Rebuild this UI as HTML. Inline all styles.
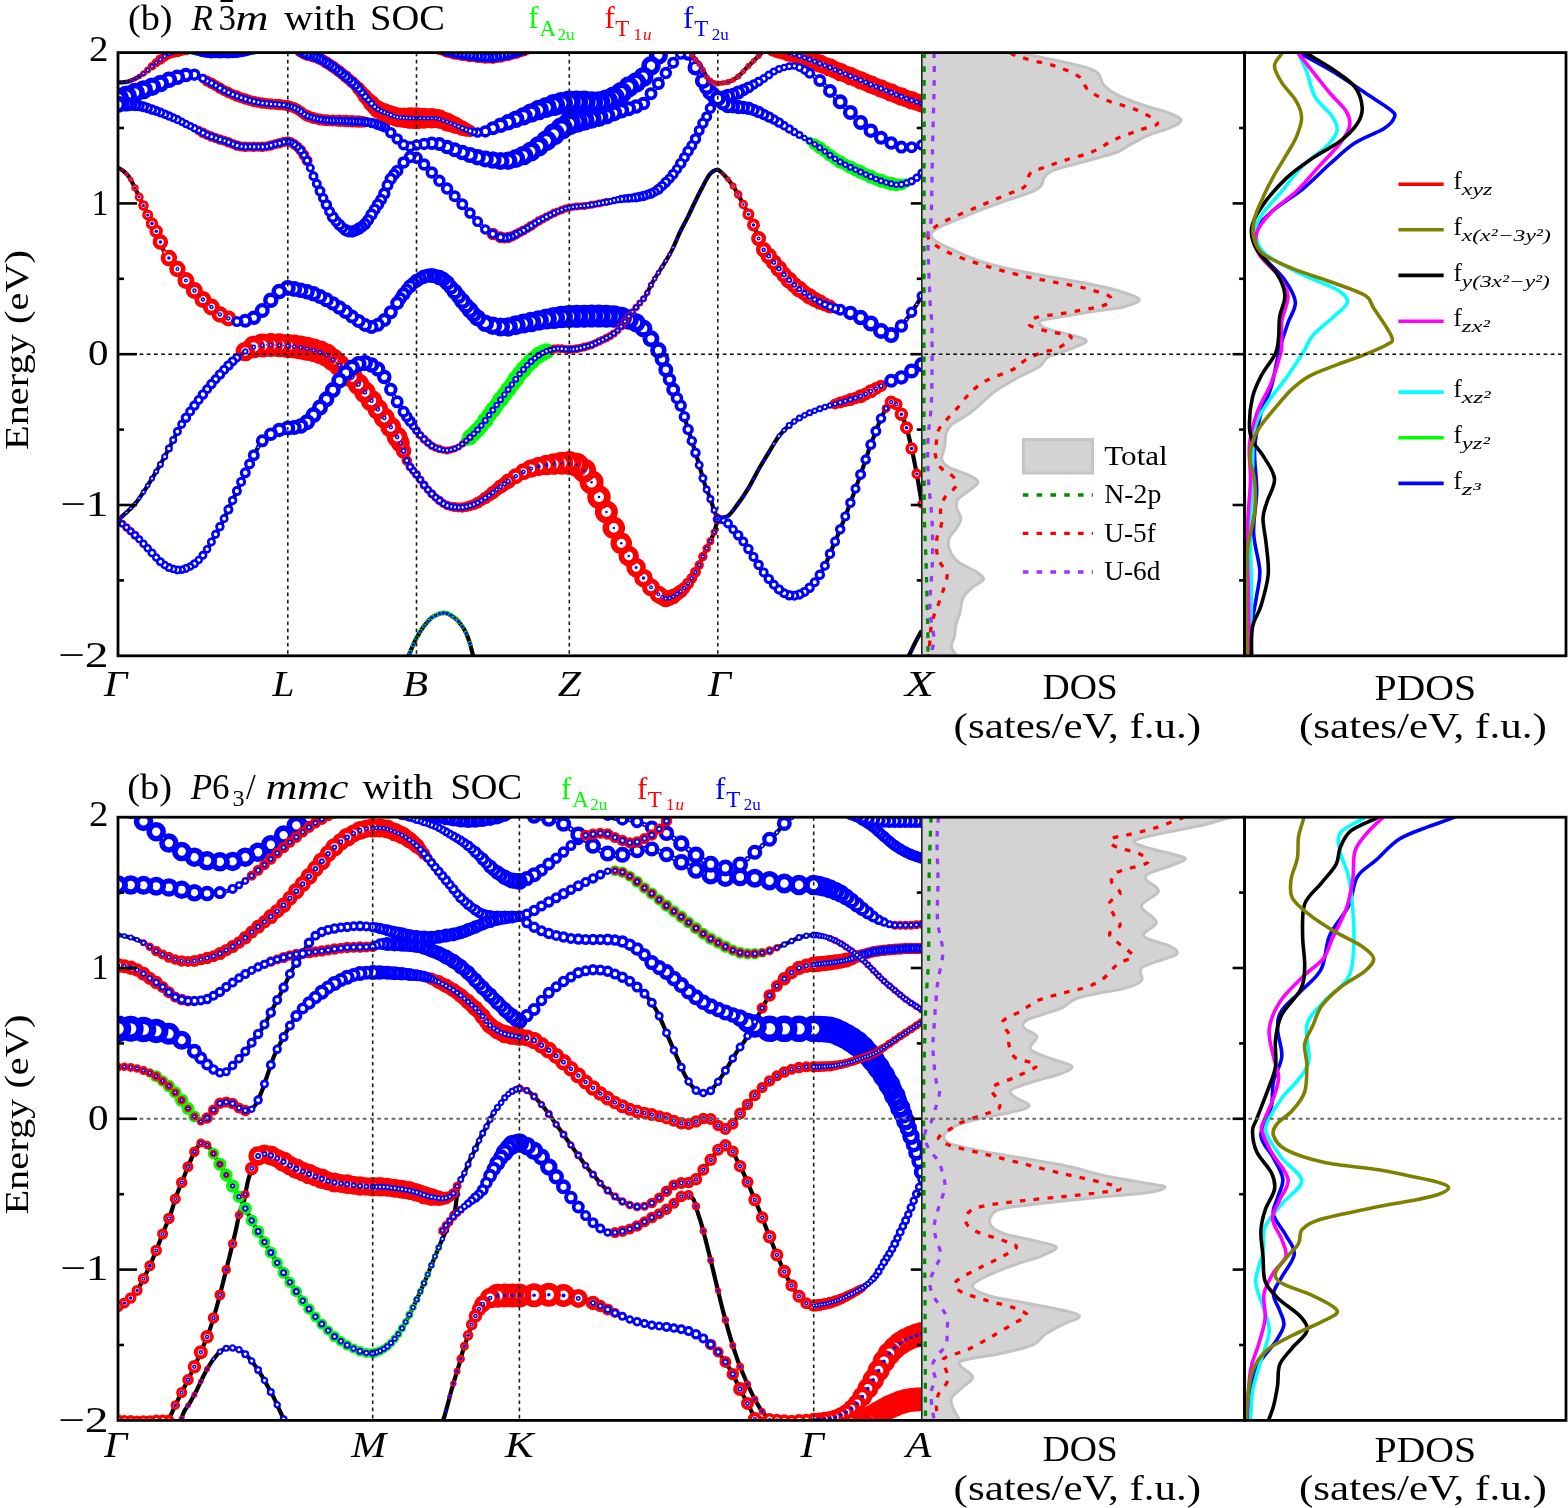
<!DOCTYPE html>
<html><head><meta charset="utf-8"><title>Band structure</title><style>html,body{margin:0;padding:0;background:#fff;width:1568px;height:1508px;overflow:hidden}svg{display:block}text{font-family:"Liberation Serif","DejaVu Serif",serif}</style></head><body>
<svg width="1568" height="1508" viewBox="0 0 1568 1508"><defs><circle id="db3" r="0.75" fill="#0000ff" stroke="none"/><circle id="db4" r="1" fill="#0000ff" stroke="none"/><circle id="db5" r="1.25" fill="#0000ff" stroke="none"/><circle id="db6" r="1.5" fill="#0000ff" stroke="none"/><circle id="db7" r="1.75" fill="#0000ff" stroke="none"/><circle id="db8" r="2" fill="#0000ff" stroke="none"/><circle id="dr5" r="1.25" fill="#ff0000" stroke="none"/><circle id="dr6" r="1.5" fill="#ff0000" stroke="none"/><circle id="dr7" r="1.75" fill="#ff0000" stroke="none"/><circle id="dr8" r="2" fill="#ff0000" stroke="none"/><circle id="k10" r="1.71" stroke-width="1.57"/><circle id="k11" r="1.89" stroke-width="1.71"/><circle id="k12" r="2.08" stroke-width="1.85"/><circle id="k13" r="2.26" stroke-width="1.99"/><circle id="k14" r="2.44" stroke-width="2.13"/><circle id="k15" r="2.62" stroke-width="2.26"/><circle id="k16" r="2.8" stroke-width="2.4"/><circle id="k17" r="2.98" stroke-width="2.54"/><circle id="k18" r="3.16" stroke-width="2.68"/><circle id="k19" r="3.34" stroke-width="2.81"/><circle id="k20" r="3.52" stroke-width="2.95"/><circle id="k21" r="3.71" stroke-width="3.09"/><circle id="k22" r="3.89" stroke-width="3.23"/><circle id="k23" r="4.07" stroke-width="3.36"/><circle id="k24" r="4.25" stroke-width="3.5"/><circle id="k25" r="4.43" stroke-width="3.64"/><circle id="k26" r="4.61" stroke-width="3.78"/><circle id="k27" r="4.79" stroke-width="3.91"/><circle id="k28" r="4.97" stroke-width="4.05"/><circle id="k29" r="5.16" stroke-width="4.19"/><circle id="k30" r="5.34" stroke-width="4.33"/><circle id="k31" r="5.52" stroke-width="4.46"/><circle id="k32" r="5.7" stroke-width="4.6"/><circle id="k33" r="5.88" stroke-width="4.74"/><circle id="k34" r="6.06" stroke-width="4.88"/><circle id="k35" r="6.24" stroke-width="5.01"/><circle id="k36" r="6.42" stroke-width="5.15"/><circle id="k37" r="6.61" stroke-width="5.29"/><circle id="k38" r="6.79" stroke-width="5.43"/><circle id="k39" r="6.97" stroke-width="5.56"/><circle id="k40" r="7.15" stroke-width="5.7"/><circle id="k41" r="7.33" stroke-width="5.84"/><circle id="k42" r="7.51" stroke-width="5.98"/><circle id="k43" r="7.69" stroke-width="6.11"/><circle id="k44" r="7.88" stroke-width="6.25"/><circle id="k45" r="8.06" stroke-width="6.39"/><circle id="k46" r="8.24" stroke-width="6.53"/><circle id="k47" r="8.42" stroke-width="6.66"/><circle id="k48" r="8.6" stroke-width="6.8"/><circle id="k49" r="8.78" stroke-width="6.94"/><circle id="k50" r="8.96" stroke-width="7.08"/><circle id="k51" r="9.14" stroke-width="7.21"/><circle id="k52" r="9.32" stroke-width="7.35"/><circle id="k53" r="9.51" stroke-width="7.49"/><circle id="k8" r="1.35" stroke-width="1.3"/><circle id="k9" r="1.53" stroke-width="1.44"/><clipPath id="cb0"><rect x="118" y="52.6" width="803.8" height="603.2"/></clipPath><clipPath id="cd0"><rect x="921.8" y="52.6" width="322.8" height="603.2"/></clipPath><clipPath id="cp0"><rect x="1244.6" y="52.6" width="321.4" height="603.2"/></clipPath><clipPath id="cb1"><rect x="118" y="817.2" width="803.8" height="603.2"/></clipPath><clipPath id="cd1"><rect x="921.8" y="817.2" width="322.8" height="603.2"/></clipPath><clipPath id="cp1"><rect x="1244.6" y="817.2" width="321.4" height="603.2"/></clipPath></defs><g clip-path="url(#cd0)"><path d="M921.8,49.6 L1020,49.6 L1020,52.6C1020.7,52.8 1020.1,52.6 1024,53.5C1027.9,54.4 1036.5,56.4 1043.2,57.8C1050,59.2 1057.4,60.5 1064.5,62.1C1071.6,63.7 1080.4,65.6 1085.9,67.4C1091.4,69.2 1095.2,70.8 1097.7,72.8C1100.2,74.8 1099.7,76.9 1100.9,79.2C1102.1,81.5 1101.9,83.9 1105.1,86.7C1108.3,89.5 1113.3,93.1 1120.1,96.3C1126.9,99.5 1137.9,103.2 1145.7,105.9C1153.5,108.6 1161.2,110 1167.1,112.3C1173,114.6 1180.3,117.3 1181,119.8C1181.7,122.3 1176.6,124.7 1171.4,127.2C1166.2,129.7 1156.8,131.8 1150,134.7C1143.2,137.5 1136.1,141.5 1130.8,144.3C1125.5,147.2 1123.7,149.5 1118,151.8C1112.3,154.1 1104.8,155.9 1096.6,158.2C1088.4,160.5 1076.3,163.6 1068.8,165.7C1061.3,167.8 1055.8,169 1051.7,171C1047.6,173 1046,175 1044.2,177.5C1042.4,180 1043.3,183.5 1041,186C1038.7,188.5 1036.5,189.9 1030.4,192.4C1024.4,194.9 1013.2,198 1004.7,201C996.2,204 987.6,207.2 979.1,210.6C970.6,214 960.6,218.2 953.5,221.2C946.4,224.2 940.1,226.4 936.4,228.7C932.6,231 931,233 931,235.1C931,237.2 932.6,239 936.4,241.5C940.1,244 946.4,246.9 953.5,250.1C960.6,253.3 969.5,257.6 979.1,260.8C988.7,264 1000.4,266.8 1011.1,269.3C1021.8,271.8 1030.7,273.4 1043.2,275.7C1055.7,278 1073.4,280.7 1085.9,283.2C1098.4,285.7 1109.1,288 1118,290.7C1126.9,293.4 1138.2,296.5 1139.3,299.2C1140.4,301.9 1131.5,304.7 1124.4,306.7C1117.3,308.7 1106.6,309.4 1096.6,311C1086.6,312.6 1073.8,314.7 1064.5,316.3C1055.2,317.9 1044.5,318.8 1041,320.6C1037.5,322.4 1039.3,324.9 1043.2,327C1047.1,329.1 1057.4,331.3 1064.5,333.4C1071.6,335.5 1083.8,337.7 1085.9,339.8C1088.1,341.9 1081.7,344.1 1077.4,346.2C1073.1,348.3 1065.3,350.7 1060.3,352.6C1055.3,354.5 1051.1,355.1 1047.5,357.5C1043.9,359.9 1043.9,363.7 1038.9,367.1C1033.9,370.5 1024.6,373.9 1017.5,377.8C1010.4,381.7 1001.9,386.7 996.2,390.6C990.5,394.5 988,397.4 983.4,401.3C978.8,405.2 973.8,410.2 968.4,414.1C963,418 955,421.6 951.3,424.8C947.6,428 947.1,429.8 946,433.3C944.9,436.9 945.6,441.8 944.9,446.1C944.2,450.4 941,455.4 941.7,459C942.4,462.6 944.4,464.7 949.2,467.5C954,470.3 965.7,473.5 970.5,476C975.3,478.5 978.4,480 978,482.5C977.6,485 971.8,488.2 968.4,491C965,493.8 959.7,496.6 957.7,499.5C955.8,502.4 956.2,504.9 956.7,508.1C957.2,511.3 961.1,515.2 960.9,518.8C960.7,522.4 957.5,526.3 955.6,529.5C953.7,532.7 950.3,534.8 949.2,538C948.1,541.2 947.8,544.8 949.2,548.7C950.6,552.6 953.1,557.6 957.7,561.5C962.3,565.4 972.7,569.2 977,572.2C981.3,575.2 984.1,577.2 983.4,579.7C982.7,582.2 976.1,584.1 972.7,587.1C969.3,590.1 965.2,593.5 963.1,597.8C961,602.1 961.1,608.2 959.9,612.8C958.6,617.4 956.5,621.7 955.6,625.6C954.7,629.5 955.2,632.8 954.5,636.3C953.8,639.8 950.9,643.6 951.3,646.9C951.7,650.1 956,654.3 957,655.8 L957,658.8 L921.8,658.8Z" fill="#d3d3d3" stroke="none"/><path d="M1020,52.6C1020.7,52.8 1020.1,52.6 1024,53.5C1027.9,54.4 1036.5,56.4 1043.2,57.8C1050,59.2 1057.4,60.5 1064.5,62.1C1071.6,63.7 1080.4,65.6 1085.9,67.4C1091.4,69.2 1095.2,70.8 1097.7,72.8C1100.2,74.8 1099.7,76.9 1100.9,79.2C1102.1,81.5 1101.9,83.9 1105.1,86.7C1108.3,89.5 1113.3,93.1 1120.1,96.3C1126.9,99.5 1137.9,103.2 1145.7,105.9C1153.5,108.6 1161.2,110 1167.1,112.3C1173,114.6 1180.3,117.3 1181,119.8C1181.7,122.3 1176.6,124.7 1171.4,127.2C1166.2,129.7 1156.8,131.8 1150,134.7C1143.2,137.5 1136.1,141.5 1130.8,144.3C1125.5,147.2 1123.7,149.5 1118,151.8C1112.3,154.1 1104.8,155.9 1096.6,158.2C1088.4,160.5 1076.3,163.6 1068.8,165.7C1061.3,167.8 1055.8,169 1051.7,171C1047.6,173 1046,175 1044.2,177.5C1042.4,180 1043.3,183.5 1041,186C1038.7,188.5 1036.5,189.9 1030.4,192.4C1024.4,194.9 1013.2,198 1004.7,201C996.2,204 987.6,207.2 979.1,210.6C970.6,214 960.6,218.2 953.5,221.2C946.4,224.2 940.1,226.4 936.4,228.7C932.6,231 931,233 931,235.1C931,237.2 932.6,239 936.4,241.5C940.1,244 946.4,246.9 953.5,250.1C960.6,253.3 969.5,257.6 979.1,260.8C988.7,264 1000.4,266.8 1011.1,269.3C1021.8,271.8 1030.7,273.4 1043.2,275.7C1055.7,278 1073.4,280.7 1085.9,283.2C1098.4,285.7 1109.1,288 1118,290.7C1126.9,293.4 1138.2,296.5 1139.3,299.2C1140.4,301.9 1131.5,304.7 1124.4,306.7C1117.3,308.7 1106.6,309.4 1096.6,311C1086.6,312.6 1073.8,314.7 1064.5,316.3C1055.2,317.9 1044.5,318.8 1041,320.6C1037.5,322.4 1039.3,324.9 1043.2,327C1047.1,329.1 1057.4,331.3 1064.5,333.4C1071.6,335.5 1083.8,337.7 1085.9,339.8C1088.1,341.9 1081.7,344.1 1077.4,346.2C1073.1,348.3 1065.3,350.7 1060.3,352.6C1055.3,354.5 1051.1,355.1 1047.5,357.5C1043.9,359.9 1043.9,363.7 1038.9,367.1C1033.9,370.5 1024.6,373.9 1017.5,377.8C1010.4,381.7 1001.9,386.7 996.2,390.6C990.5,394.5 988,397.4 983.4,401.3C978.8,405.2 973.8,410.2 968.4,414.1C963,418 955,421.6 951.3,424.8C947.6,428 947.1,429.8 946,433.3C944.9,436.9 945.6,441.8 944.9,446.1C944.2,450.4 941,455.4 941.7,459C942.4,462.6 944.4,464.7 949.2,467.5C954,470.3 965.7,473.5 970.5,476C975.3,478.5 978.4,480 978,482.5C977.6,485 971.8,488.2 968.4,491C965,493.8 959.7,496.6 957.7,499.5C955.8,502.4 956.2,504.9 956.7,508.1C957.2,511.3 961.1,515.2 960.9,518.8C960.7,522.4 957.5,526.3 955.6,529.5C953.7,532.7 950.3,534.8 949.2,538C948.1,541.2 947.8,544.8 949.2,548.7C950.6,552.6 953.1,557.6 957.7,561.5C962.3,565.4 972.7,569.2 977,572.2C981.3,575.2 984.1,577.2 983.4,579.7C982.7,582.2 976.1,584.1 972.7,587.1C969.3,590.1 965.2,593.5 963.1,597.8C961,602.1 961.1,608.2 959.9,612.8C958.6,617.4 956.5,621.7 955.6,625.6C954.7,629.5 955.2,632.8 954.5,636.3C953.8,639.8 950.9,643.6 951.3,646.9C951.7,650.1 956,654.3 957,655.8" fill="none" stroke="#c2c2c2" stroke-width="3"/><path d="M924.2,52.6C924.2,93.8 924,233.8 924,300C924,366.2 923.9,413.3 924,450C924.1,486.7 924.2,501.7 924.5,520C924.8,538.3 925.6,546.7 926,560C926.4,573.3 926.7,586.7 927,600C927.3,613.3 927.9,630.7 928,640C928.1,649.3 927.8,653.2 927.8,655.8" fill="none" stroke="#009000" stroke-width="3.3" stroke-dasharray="5.6 8.2"/><path d="M1011,52.6C1011.4,52.9 1010.1,53.4 1013.3,54.6C1016.5,55.8 1023.3,58 1030.4,60C1037.5,62 1047.8,63.6 1056,66.4C1064.2,69.2 1074.2,73.1 1079.5,77C1084.8,80.9 1083.4,86 1088,89.9C1092.6,93.8 1099.1,97.1 1107.3,100.5C1115.5,103.9 1128.8,106.5 1137.2,110.2C1145.6,114 1156.8,119.8 1157.5,123C1158.2,126.2 1148.5,126.7 1141.5,129.4C1134.5,132.1 1124,135.3 1115.8,139C1107.6,142.7 1100.8,148.2 1092.3,151.8C1083.8,155.4 1072.7,157.7 1064.5,160.4C1056.3,163.1 1048.9,165.7 1043.2,167.8C1037.5,169.9 1033.6,170 1030.4,173.2C1027.2,176.4 1027.9,183.5 1024,187.1C1020.1,190.7 1014.4,191.3 1006.9,194.5C999.4,197.7 988.7,202.2 979.1,206.3C969.5,210.4 956.7,215.5 949.2,219.1C941.7,222.7 937.8,224.8 934.2,227.7C930.6,230.5 927.4,233.2 927.8,236.2C928.2,239.2 931.4,242.4 936.4,245.8C941.4,249.2 948.8,252.9 957.7,256.5C966.6,260.1 979.1,264 989.8,267.2C1000.5,270.4 1011.1,273.2 1021.8,275.7C1032.5,278.2 1043.2,280 1053.9,282.1C1064.6,284.2 1076.5,286 1085.9,288.5C1095.3,291 1107.7,294.2 1110.5,297.1C1113.3,300 1110.7,302.9 1103,305.6C1095.3,308.3 1075.5,311.1 1064.5,313.1C1053.5,315.1 1042.7,315.4 1036.8,317.4C1030.9,319.4 1027.5,322.6 1029.3,324.9C1031.1,327.2 1040.5,329.4 1047.5,331.3C1054.5,333.2 1069.2,333.8 1071,336.6C1072.8,339.4 1062.7,345.7 1058.1,348.3C1053.5,350.9 1048.5,350.2 1043.2,352.1C1037.9,354 1031.1,356.8 1026.1,359.6C1021.1,362.5 1019.7,365.8 1013.3,369.2C1006.9,372.6 994,376.7 987.6,379.9C981.2,383.1 978.3,385.6 974.8,388.5C971.2,391.4 969.1,393.8 966.3,397C963.4,400.2 960.9,404 957.7,407.7C954.5,411.4 950.2,415.7 947,419.4C943.8,423.1 940.3,426.4 938.5,430.1C936.7,433.9 936.9,437.8 936.4,441.9C935.9,446 934.6,450.4 935.3,454.7C936,459 937.6,463.8 940.6,467.5C943.6,471.2 951,473.9 953.5,477.1C956,480.3 957,483.3 955.6,486.7C954.2,490.1 947.4,493.5 944.9,497.4C942.4,501.3 941.1,505.9 940.6,510.2C940.1,514.5 942.2,518.7 941.7,523C941.2,527.3 938.3,531.6 937.4,535.9C936.5,540.2 936,544.4 936.4,548.7C936.8,553 937.8,557.2 939.6,561.5C941.4,565.8 946.3,569.8 947,574.3C947.7,578.8 945,583.8 943.8,588.2C942.6,592.7 941.2,596.5 939.6,601C938,605.5 935.6,610.4 934.2,614.9C932.8,619.4 931.7,623.4 931,627.7C930.3,632 930.4,636.2 930,640.5C929.6,644.8 929.1,650.9 928.9,653.4C928.7,655.9 928.7,655.4 928.7,655.8" fill="none" stroke="#ff0000" stroke-width="3.3" stroke-dasharray="5.6 8.2"/><path d="M934,52.6C934,57.2 934.5,63.8 934.2,80C934,96.2 933,126.7 932.5,150C932,173.3 931.8,205.7 931,220C930.2,234.3 928.2,222.7 928,236C927.8,249.3 929.3,284.3 930,300C930.7,315.7 931.8,313.3 932,330C932.2,346.7 932.2,381.7 931.5,400C930.8,418.3 928.5,426.7 928,440C927.5,453.3 927.8,466.7 928.5,480C929.2,493.3 931.3,506.7 932,520C932.7,533.3 932.8,546.7 932.5,560C932.2,573.3 930.2,590 930,600C929.8,610 930.3,613.3 931,620C931.7,626.7 934.2,634 934,640C933.8,646 930.7,653.2 930,655.8" fill="none" stroke="#9a35ff" stroke-width="3.3" stroke-dasharray="5.6 8.2"/></g><g clip-path="url(#cd1)"><path d="M921.8,814.2 L1231.2,814.2 L1231.2,817.2C1226.6,818.5 1213.4,822.6 1203.4,825C1193.4,827.4 1182.1,829.1 1171.4,831.4C1160.7,833.7 1145.4,836.8 1139.3,838.8C1133.2,840.8 1133.2,841.5 1135,843.1C1136.8,844.7 1143.2,846.5 1150,848.5C1156.8,850.5 1169.7,853.1 1175.6,854.9C1181.5,856.7 1185.9,857.3 1185.2,859.1C1184.5,860.9 1177.3,863.2 1171.4,865.5C1165.5,867.8 1154.3,870.7 1150,873C1145.7,875.3 1144.3,876.4 1145.7,879.4C1147.1,882.4 1159.2,886.8 1158.5,891.2C1157.8,895.7 1141.8,900.9 1141.4,906.1C1141.1,911.3 1156,917.2 1156.4,922.2C1156.8,927.2 1141.1,931.9 1143.6,936C1146.1,940.1 1165.9,943.7 1171.4,946.7C1176.9,949.7 1178.1,952.1 1176.7,954.2C1175.3,956.3 1168.7,957.2 1162.8,959.5C1156.9,961.8 1145,964.5 1141.4,968.1C1137.8,971.7 1144.2,977.5 1141.4,980.9C1138.6,984.3 1131.9,986.3 1124.4,988.4C1116.9,990.5 1104.8,991.9 1096.6,993.7C1088.4,995.5 1080.9,996.7 1075.2,999C1069.5,1001.3 1067,1005.3 1062.4,1007.6C1057.8,1009.9 1053.5,1010.8 1047.5,1012.9C1041.5,1015 1030,1017.9 1026.1,1020.4C1022.2,1022.9 1022.2,1025.2 1024,1027.9C1025.8,1030.6 1035.7,1032.8 1036.8,1036.4C1037.9,1040 1027.9,1045.5 1030.4,1049.3C1032.9,1053 1044.8,1056.1 1051.7,1058.9C1058.6,1061.8 1070.6,1063.9 1072,1066.4C1073.4,1068.9 1066.5,1071.3 1060.3,1073.8C1054.1,1076.3 1042.8,1078.6 1034.6,1081.3C1026.4,1084 1014.3,1087.2 1011.1,1089.9C1007.9,1092.6 1012.4,1094.6 1015.4,1097.3C1018.4,1100 1030,1103.4 1029.3,1105.9C1028.6,1108.4 1019.5,1110.2 1011.1,1112.3C1002.7,1114.4 988,1116.6 979.1,1118.7C970.2,1120.8 963.1,1122.8 957.7,1124.9C952.4,1127 949.3,1129.2 947,1131.4C944.7,1133.6 943.1,1135.7 943.8,1137.8C944.5,1139.9 945.4,1142.1 951.3,1144.2C957.2,1146.3 967.4,1148.3 979.1,1150.6C990.9,1152.9 1007.6,1155.6 1021.8,1158.1C1036,1160.6 1050.2,1162.5 1064.5,1165.5C1078.8,1168.5 1093,1173.2 1107.3,1176.2C1121.5,1179.2 1140.4,1181.9 1150,1183.7C1159.6,1185.5 1165,1185.9 1165,1187.3C1165,1188.7 1159.6,1190.7 1150,1192.2C1140.4,1193.7 1123.3,1194.9 1107.3,1196.5C1091.3,1198.1 1071,1199.9 1053.9,1201.9C1036.8,1203.9 1015,1206.2 1004.7,1208.3C994.4,1210.4 994.2,1211.8 991.9,1214.7C989.6,1217.6 988.7,1222.2 990.8,1225.4C992.9,1228.6 997.8,1231.4 1004.7,1233.9C1011.7,1236.4 1024,1238.2 1032.5,1240.3C1041,1242.4 1054.2,1244.2 1056,1246.7C1057.8,1249.2 1050.7,1252.1 1043.2,1255.3C1035.7,1258.5 1021.4,1262.1 1011.1,1266C1000.8,1269.9 987.6,1275.2 981.2,1278.8C974.8,1282.3 971.3,1284.4 972.7,1287.3C974.1,1290.2 981.6,1293.4 989.8,1295.9C998,1298.4 1010,1300 1021.8,1302.3C1033.5,1304.6 1050.7,1307.4 1060.3,1309.7C1069.9,1312 1078.8,1313.9 1079.5,1316.2C1080.2,1318.5 1070.2,1320.6 1064.5,1323.6C1058.8,1326.6 1050.6,1330.7 1045.3,1334.3C1040,1337.9 1040,1341.8 1032.5,1345C1025,1348.2 1011.9,1351 1000.5,1353.5C989.1,1356 970.9,1358 964.1,1360C957.3,1362 958.5,1362.5 959.9,1365.3C961.3,1368.1 972.4,1373.3 972.7,1377C973.1,1380.7 965.6,1384.1 962,1387.7C958.4,1391.3 952.7,1394.8 951.3,1398.4C949.9,1402 952,1405.4 953.5,1409.1C955,1412.8 958.9,1418.5 960,1420.4 L960,1423.4 L921.8,1423.4Z" fill="#d3d3d3" stroke="none"/><path d="M1231.2,817.2C1226.6,818.5 1213.4,822.6 1203.4,825C1193.4,827.4 1182.1,829.1 1171.4,831.4C1160.7,833.7 1145.4,836.8 1139.3,838.8C1133.2,840.8 1133.2,841.5 1135,843.1C1136.8,844.7 1143.2,846.5 1150,848.5C1156.8,850.5 1169.7,853.1 1175.6,854.9C1181.5,856.7 1185.9,857.3 1185.2,859.1C1184.5,860.9 1177.3,863.2 1171.4,865.5C1165.5,867.8 1154.3,870.7 1150,873C1145.7,875.3 1144.3,876.4 1145.7,879.4C1147.1,882.4 1159.2,886.8 1158.5,891.2C1157.8,895.7 1141.8,900.9 1141.4,906.1C1141.1,911.3 1156,917.2 1156.4,922.2C1156.8,927.2 1141.1,931.9 1143.6,936C1146.1,940.1 1165.9,943.7 1171.4,946.7C1176.9,949.7 1178.1,952.1 1176.7,954.2C1175.3,956.3 1168.7,957.2 1162.8,959.5C1156.9,961.8 1145,964.5 1141.4,968.1C1137.8,971.7 1144.2,977.5 1141.4,980.9C1138.6,984.3 1131.9,986.3 1124.4,988.4C1116.9,990.5 1104.8,991.9 1096.6,993.7C1088.4,995.5 1080.9,996.7 1075.2,999C1069.5,1001.3 1067,1005.3 1062.4,1007.6C1057.8,1009.9 1053.5,1010.8 1047.5,1012.9C1041.5,1015 1030,1017.9 1026.1,1020.4C1022.2,1022.9 1022.2,1025.2 1024,1027.9C1025.8,1030.6 1035.7,1032.8 1036.8,1036.4C1037.9,1040 1027.9,1045.5 1030.4,1049.3C1032.9,1053 1044.8,1056.1 1051.7,1058.9C1058.6,1061.8 1070.6,1063.9 1072,1066.4C1073.4,1068.9 1066.5,1071.3 1060.3,1073.8C1054.1,1076.3 1042.8,1078.6 1034.6,1081.3C1026.4,1084 1014.3,1087.2 1011.1,1089.9C1007.9,1092.6 1012.4,1094.6 1015.4,1097.3C1018.4,1100 1030,1103.4 1029.3,1105.9C1028.6,1108.4 1019.5,1110.2 1011.1,1112.3C1002.7,1114.4 988,1116.6 979.1,1118.7C970.2,1120.8 963.1,1122.8 957.7,1124.9C952.4,1127 949.3,1129.2 947,1131.4C944.7,1133.6 943.1,1135.7 943.8,1137.8C944.5,1139.9 945.4,1142.1 951.3,1144.2C957.2,1146.3 967.4,1148.3 979.1,1150.6C990.9,1152.9 1007.6,1155.6 1021.8,1158.1C1036,1160.6 1050.2,1162.5 1064.5,1165.5C1078.8,1168.5 1093,1173.2 1107.3,1176.2C1121.5,1179.2 1140.4,1181.9 1150,1183.7C1159.6,1185.5 1165,1185.9 1165,1187.3C1165,1188.7 1159.6,1190.7 1150,1192.2C1140.4,1193.7 1123.3,1194.9 1107.3,1196.5C1091.3,1198.1 1071,1199.9 1053.9,1201.9C1036.8,1203.9 1015,1206.2 1004.7,1208.3C994.4,1210.4 994.2,1211.8 991.9,1214.7C989.6,1217.6 988.7,1222.2 990.8,1225.4C992.9,1228.6 997.8,1231.4 1004.7,1233.9C1011.7,1236.4 1024,1238.2 1032.5,1240.3C1041,1242.4 1054.2,1244.2 1056,1246.7C1057.8,1249.2 1050.7,1252.1 1043.2,1255.3C1035.7,1258.5 1021.4,1262.1 1011.1,1266C1000.8,1269.9 987.6,1275.2 981.2,1278.8C974.8,1282.3 971.3,1284.4 972.7,1287.3C974.1,1290.2 981.6,1293.4 989.8,1295.9C998,1298.4 1010,1300 1021.8,1302.3C1033.5,1304.6 1050.7,1307.4 1060.3,1309.7C1069.9,1312 1078.8,1313.9 1079.5,1316.2C1080.2,1318.5 1070.2,1320.6 1064.5,1323.6C1058.8,1326.6 1050.6,1330.7 1045.3,1334.3C1040,1337.9 1040,1341.8 1032.5,1345C1025,1348.2 1011.9,1351 1000.5,1353.5C989.1,1356 970.9,1358 964.1,1360C957.3,1362 958.5,1362.5 959.9,1365.3C961.3,1368.1 972.4,1373.3 972.7,1377C973.1,1380.7 965.6,1384.1 962,1387.7C958.4,1391.3 952.7,1394.8 951.3,1398.4C949.9,1402 952,1405.4 953.5,1409.1C955,1412.8 958.9,1418.5 960,1420.4" fill="none" stroke="#c2c2c2" stroke-width="3"/><path d="M931,817.2C930.8,824.3 929.9,846.2 929.5,860C929.1,873.8 929.1,883.3 928.9,900C928.7,916.7 929,943.3 928.5,960C928,976.7 926.7,985 926,1000C925.3,1015 924.9,1033.3 924.5,1050C924.1,1066.7 923.7,1075 923.6,1100C923.5,1125 923.8,1166.7 924,1200C924.2,1233.3 924.8,1263.3 925,1300C925.2,1336.7 925.4,1400.3 925.5,1420.4" fill="none" stroke="#009000" stroke-width="3.3" stroke-dasharray="5.6 8.2"/><path d="M1184,817.2C1183.5,817.4 1186,816.7 1181,818.5C1176,820.3 1163,825.5 1154.3,828.2C1145.6,830.9 1135.7,832.8 1128.6,834.6C1121.5,836.4 1113.8,836.8 1111.5,838.8C1109.2,840.8 1110.1,843.8 1114.7,846.3C1119.3,848.8 1133.8,851.1 1139.3,853.8C1144.8,856.5 1149.7,859.8 1147.9,862.3C1146.1,864.8 1133.9,866.9 1128.6,868.7C1123.2,870.5 1118.6,870.9 1115.8,873C1113,875.1 1110.8,878.2 1111.5,881.6C1112.2,885 1120.4,889.8 1120.1,893.3C1119.8,896.8 1110.5,899.3 1109.4,902.9C1108.3,906.5 1111.9,911 1113.7,914.7C1115.5,918.5 1120.8,922.2 1120.1,925.4C1119.4,928.6 1109.4,930.7 1109.4,933.9C1109.4,937.1 1116.2,940.9 1120.1,944.6C1124,948.3 1133.2,953.1 1132.9,956.3C1132.6,959.5 1123,960 1118,963.8C1113,967.5 1108.3,974.9 1103,978.8C1097.7,982.7 1092.3,985 1085.9,987.3C1079.5,989.6 1072.3,990.6 1064.5,992.7C1056.7,994.8 1046,997.1 1038.9,1000.1C1031.8,1003.1 1027.8,1007.2 1021.8,1010.8C1015.8,1014.4 1004.7,1017.6 1002.6,1021.5C1000.5,1025.4 1007.9,1030.4 1009,1034.3C1010.1,1038.2 1007.9,1041.1 1009,1045C1010.1,1048.9 1010.8,1054.4 1015.4,1057.8C1020,1061.2 1036.8,1062.1 1036.8,1065.3C1036.8,1068.5 1022.9,1073.3 1015.4,1077C1007.9,1080.7 994.8,1083.8 991.9,1087.7C989,1091.6 997.2,1096.9 998.3,1100.5C999.4,1104.1 1001.5,1106.5 998.3,1109.1C995.1,1111.7 985.5,1113.7 979.1,1116C972.7,1118.3 964.2,1121.2 959.9,1123C955.6,1124.8 957.1,1124.6 953.5,1127.1C949.9,1129.6 939.2,1134.8 938.5,1137.8C937.8,1140.8 942.4,1142.7 949.2,1145.2C956,1147.7 967,1149.7 979.1,1152.7C991.2,1155.7 1007.6,1159.8 1021.8,1163.4C1036,1167 1051,1170.9 1064.5,1174.1C1078,1177.3 1093.7,1180.1 1103,1182.6C1112.3,1185.1 1120.1,1187.4 1120.1,1189C1120.1,1190.6 1112.3,1191 1103,1192.2C1093.7,1193.5 1078,1195.1 1064.5,1196.5C1051,1197.9 1035.3,1199.2 1021.8,1200.8C1008.3,1202.4 992.3,1204.1 983.4,1206.1C974.5,1208 971.2,1209.7 968.4,1212.5C965.5,1215.3 964.9,1220 966.3,1223.2C967.7,1226.4 971,1229 977,1231.8C983,1234.6 996,1237.8 1002.6,1240.3C1009.2,1242.8 1016.1,1244.2 1016.5,1246.7C1016.9,1249.2 1010.9,1251.7 1004.7,1255.3C998.5,1258.9 987.3,1263.6 979.1,1268.1C970.9,1272.5 958.6,1278.1 955.6,1282C952.6,1285.9 955.9,1288.6 960.9,1291.6C965.9,1294.6 976.8,1297.4 985.5,1300.1C994.2,1302.8 1006.3,1305.1 1013.3,1307.6C1020.2,1310.1 1026.9,1312.6 1027.2,1315.1C1027.5,1317.6 1021.3,1319 1015.4,1322.6C1009.5,1326.1 999.7,1332 991.9,1336.4C984.1,1340.9 974.8,1346.3 968.4,1349.3C962,1352.3 957.8,1352.8 953.5,1354.6C949.2,1356.4 943.9,1357 942.8,1360C941.7,1363 946.3,1369.1 947,1372.8C947.7,1376.5 948.4,1378.9 947,1382.4C945.6,1386 940.3,1390 938.5,1394.1C936.7,1398.2 936.4,1402.8 936.4,1406.9C936.4,1411 938.1,1416.5 938.5,1418.7C938.9,1421 938.5,1420.1 938.5,1420.4" fill="none" stroke="#ff0000" stroke-width="3.3" stroke-dasharray="5.6 8.2"/><path d="M938.5,817.2C938.2,821 937.1,829.5 937,840C936.9,850.5 937.9,866.7 938,880C938.1,893.3 936.7,908 937.5,920C938.3,932 942.7,942 942.8,952C942.9,962 939.1,972 938,980C936.9,988 936.6,992.7 936,1000C935.4,1007.3 934.7,1015.7 934.2,1024C933.7,1032.3 932.7,1040.7 933,1050C933.3,1059.3 934.9,1073 936,1080C937.1,1087 939.8,1087 939.6,1092C939.4,1097 936.4,1105 935,1110C933.6,1115 932.2,1119.5 931,1122C929.8,1124.5 928.9,1122.4 927.8,1125C926.7,1127.6 924.2,1133.5 924.6,1137.8C925,1142.1 927.7,1146.7 930,1150.6C932.3,1154.5 936.4,1157.4 938.5,1161.3C940.6,1165.2 941.7,1169.8 942.8,1174.1C943.9,1178.4 945.3,1182.3 944.9,1187C944.5,1191.7 942,1197.4 940.6,1202C939.2,1206.6 937.5,1210.5 936.4,1214.7C935.3,1219 934.2,1223.2 934.2,1227.5C934.2,1231.8 935.3,1235.8 936.4,1240.3C937.5,1244.8 940.8,1249.6 940.6,1254.2C940.4,1258.8 937.1,1263.6 935.3,1268.1C933.5,1272.5 930.5,1276.6 930,1280.9C929.5,1285.2 930.5,1289.6 932.1,1293.7C933.7,1297.8 937.1,1301.6 939.6,1305.5C942.1,1309.4 945.8,1312.8 947,1317.2C948.2,1321.7 947.2,1327.6 947,1332.2C946.8,1336.8 947.6,1341.1 946,1345C944.4,1348.9 939.7,1352.1 937.4,1355.7C935.1,1359.3 932.5,1362.5 932.1,1366.4C931.8,1370.3 935.5,1374.9 935.3,1379.2C935.1,1383.5 931.5,1387.4 931,1392C930.5,1396.6 931.6,1402.3 932.1,1407C932.6,1411.7 933.9,1418.2 934.2,1420.4" fill="none" stroke="#9a35ff" stroke-width="3.3" stroke-dasharray="5.6 8.2"/></g><g clip-path="url(#cp0)" fill="none" stroke-width="3.6" stroke-linejoin="round"><path d="M1294,48C1295.1,48.9 1293.9,49.4 1300.6,53.4C1307.3,57.4 1323.2,65.5 1334,72.1C1344.8,78.7 1355.9,86.7 1365.3,93C1374.7,99.3 1385.4,105.7 1390.3,109.7C1395.2,113.7 1395.5,113.9 1394.5,117C1393.5,120.1 1390.7,124.2 1384.1,128.5C1377.5,132.8 1363.8,137.2 1354.8,143.1C1345.8,149 1338.5,156.3 1329.8,164C1321.1,171.7 1312.3,181.1 1302.6,189.1C1292.8,197.1 1279.3,204.7 1271.3,212C1263.3,219.3 1256.3,225.9 1254.6,232.9C1252.9,239.9 1256,246.1 1260.9,253.8C1265.8,261.5 1278.2,270.9 1283.9,278.9C1289.6,286.9 1294.6,294.5 1295.3,301.8C1296,309.1 1290.2,316.1 1288,322.7C1285.8,329.3 1283.4,336.4 1281.8,341.5C1280.2,346.6 1280.3,345.8 1278.6,353.4C1276.8,360.9 1274.2,376.7 1271.3,386.8C1268.3,396.9 1263.7,403.5 1260.9,413.9C1258.1,424.3 1255.3,436.5 1254.6,449.4C1253.9,462.3 1256.9,477.3 1256.7,491.2C1256.5,505.1 1253.1,519.7 1253.6,532.9C1254.1,546.1 1259.3,560 1259.8,570.5C1260.3,581 1258.1,586.2 1256.7,595.6C1255.3,605 1252.4,616.5 1251.5,626.9C1250.6,637.3 1251.5,652.8 1251.5,658" stroke="#0000ff"/><path d="M1297,48C1297.2,48.9 1296.9,49.4 1298.5,53.4C1300.1,57.4 1304,64.8 1306.8,72.1C1309.6,79.4 1311,89.9 1315.2,97.2C1319.4,104.5 1328.2,110.4 1331.9,116C1335.6,121.6 1337.8,125.7 1337.1,130.6C1336.4,135.5 1333.5,139.3 1327.7,145.2C1322,151.1 1310.2,158.4 1302.6,166.1C1294.9,173.8 1288.8,182.8 1281.8,191.2C1274.8,199.5 1265.2,209.2 1260.9,216.2C1256.6,223.1 1255,226.6 1255.7,232.9C1256.4,239.2 1257.3,246.8 1265.1,253.8C1272.9,260.8 1290.8,268.8 1302.6,274.7C1314.4,280.6 1328.6,284.8 1336.1,289.3C1343.6,293.8 1347.8,297.3 1347.5,301.8C1347.2,306.3 1339.7,310.9 1334,316.5C1328.3,322.1 1318.3,329.1 1313.1,335.2C1307.9,341.3 1307.1,346.2 1302.6,353.4C1298.1,360.6 1291.8,370 1285.9,378.4C1280,386.8 1272.3,395.1 1267.1,403.5C1261.9,411.9 1257,417.4 1254.6,428.5C1252.2,439.6 1253.2,452.9 1252.5,470.3C1251.8,487.7 1250.6,512 1250.4,532.9C1250.2,553.8 1251.7,574.8 1251.5,595.6C1251.3,616.5 1249.8,647.6 1249.4,658" stroke="#00ffff"/><path d="M1296,48C1296.4,48.9 1295.7,49.4 1298.5,53.4C1301.3,57.4 1307.9,65.5 1313.1,72.1C1318.3,78.7 1324.2,86.4 1329.8,93C1335.4,99.6 1343.2,106.2 1346.5,111.8C1349.8,117.4 1350.6,121.2 1349.6,126.4C1348.5,131.6 1345.2,136.5 1340.2,143.1C1335.2,149.7 1326.6,158.1 1319.3,166.1C1312,174.1 1304.4,183.5 1296.4,191.2C1288.4,198.8 1277.9,205.1 1271.3,212C1264.7,218.9 1258.8,225.9 1256.7,232.9C1254.6,239.9 1255.3,246.8 1258.8,253.8C1262.3,260.8 1272.7,267.7 1277.6,274.7C1282.5,281.7 1287.3,288 1288,295.6C1288.7,303.2 1282.8,313 1281.8,320.6C1280.8,328.2 1282,336 1281.8,341.5C1281.6,347 1282.5,346.5 1280.7,353.4C1279,360.2 1275.3,372.5 1271.3,382.6C1267.3,392.7 1260.3,403.5 1256.7,413.9C1253.1,424.3 1250.5,434.1 1249.4,445.2C1248.4,456.3 1250.8,466.1 1250.4,480.7C1250.1,495.3 1247.6,513.8 1247.3,532.9C1247,552 1248.1,574.8 1248.4,595.6C1248.8,616.5 1249.2,647.6 1249.4,658" stroke="#ff00ff"/><path d="M1300,48C1301.1,48.9 1301.1,49.7 1306.8,53.4C1312.5,57.1 1326,64.5 1334,70.1C1342,75.7 1350.1,80.5 1354.8,86.8C1359.5,93 1361.8,101.3 1362.2,107.6C1362.6,113.8 1360.6,118.7 1356.9,124.3C1353.2,129.9 1347.5,135.5 1340.2,141.1C1332.9,146.7 1322.1,151.6 1313.1,157.8C1304,164.1 1294.6,170.2 1285.9,178.6C1277.2,186.9 1266.6,199.5 1260.9,207.9C1255.2,216.3 1252.2,221.9 1251.5,228.8C1250.8,235.8 1252.4,241.9 1256.7,249.6C1261,257.2 1272.9,267 1277.6,274.7C1282.3,282.4 1284.6,288.6 1284.9,295.6C1285.2,302.6 1280.8,309.6 1279.7,316.5C1278.7,323.4 1279.3,331.2 1278.6,337.3C1277.9,343.4 1278.5,346.9 1275.5,353.4C1272.5,359.9 1264.7,369 1260.9,376.3C1257.1,383.6 1254.4,389.2 1252.5,397.2C1250.6,405.2 1249.4,417 1249.4,424.3C1249.4,431.6 1250.2,435.9 1252.5,441.1C1254.8,446.3 1259.3,449.4 1263,455.7C1266.7,461.9 1273.8,471 1274.5,478.6C1275.2,486.2 1269,495 1267.1,501.6C1265.2,508.2 1263.2,511.3 1263,518.3C1262.8,525.3 1265.2,534 1266.1,543.4C1267,552.8 1269.1,564.3 1268.2,574.7C1267.3,585.1 1263.5,597.3 1260.9,606C1258.3,614.7 1254.1,618.2 1252.5,626.9C1250.9,635.6 1251.7,652.8 1251.5,658" stroke="#000000"/><path d="M1281.8,50C1281.8,50.6 1283,50.8 1281.8,53.4C1280.6,56 1274.5,61 1274.5,65.9C1274.5,70.8 1278.1,76.7 1281.8,82.6C1285.5,88.5 1293.1,95.5 1296.4,101.4C1299.7,107.3 1301.6,112.2 1301.6,118.1C1301.6,124 1299,130.6 1296.4,136.9C1293.8,143.2 1289.7,149.1 1285.9,155.7C1282.1,162.3 1277.2,169.6 1273.4,176.6C1269.6,183.6 1266.1,190.4 1263,197.4C1259.9,204.4 1256.2,211.7 1254.6,218.3C1253,224.9 1252.2,231.2 1253.6,237.1C1255,243 1256.6,248.6 1263,253.8C1269.4,259 1280.4,263.5 1292.2,268.4C1304,273.3 1321.8,278.5 1334,283C1346.2,287.5 1358.7,291.4 1365.3,295.6C1371.9,299.8 1370.1,302.9 1373.6,308.1C1377.1,313.3 1383.1,321.7 1386.2,326.9C1389.3,332.1 1392.4,336.4 1392.4,339.4C1392.4,342.4 1390.7,342.5 1386.2,345C1381.7,347.5 1374,350.9 1365.3,354.4C1356.6,357.9 1343.4,362.2 1334,365.9C1324.6,369.5 1315.9,372.5 1308.9,376.3C1301.9,380.1 1297.8,383.7 1292.2,388.9C1286.6,394.1 1281.1,401 1275.5,407.6C1269.9,414.2 1262.8,422.2 1258.8,428.5C1254.8,434.8 1252.9,439.6 1251.5,445.2C1250.1,450.8 1249.9,456 1250.4,461.9C1250.9,467.8 1253.9,472.3 1254.6,480.7C1255.3,489.1 1255.6,501.6 1254.6,512C1253.6,522.5 1249.8,532.9 1248.4,543.4C1247,553.9 1246.7,562.5 1246.3,574.7C1245.9,586.9 1246.1,602.6 1246.3,616.5C1246.5,630.4 1247.1,651.1 1247.3,658" stroke="#808000"/></g><g clip-path="url(#cp1)" fill="none" stroke-width="3.6" stroke-linejoin="round"><path d="M1465,812C1462.7,813.1 1457.4,815.9 1451.3,818.4C1445.2,820.9 1437,823.2 1428.3,826.7C1419.6,830.2 1407.7,833.7 1399,839.3C1390.3,844.9 1383,853.9 1376,860.2C1369,866.5 1361.8,869.4 1357.2,877C1352.6,884.6 1353.2,896.4 1348.6,906.1C1344,915.8 1334.3,924.9 1329.8,935.3C1325.3,945.7 1325.9,959.7 1321.4,968.7C1316.9,977.8 1309.2,982.6 1302.6,989.6C1296,996.6 1286,1003.9 1281.8,1010.5C1277.6,1017.1 1277.6,1021.6 1277.6,1029.3C1277.6,1037 1282.5,1047.7 1281.8,1056.4C1281.1,1065.1 1275.2,1073.2 1273.4,1081.5C1271.7,1089.8 1273.4,1097.6 1271.3,1106.5C1269.2,1115.4 1260.6,1126.5 1260.9,1135.1C1261.2,1143.7 1269.8,1150.7 1273.4,1158C1277.1,1165.3 1282.1,1172.3 1282.8,1178.9C1283.5,1185.5 1279.2,1191.8 1277.6,1197.7C1276,1203.6 1272,1208.1 1273.4,1214.4C1274.8,1220.7 1282.4,1228.7 1285.9,1235.3C1289.4,1241.9 1295,1247.1 1294.3,1254.1C1293.6,1261 1285.3,1270.4 1281.8,1277C1278.3,1283.6 1273.8,1288.2 1273.4,1293.8C1273.1,1299.4 1278,1305.3 1279.7,1310.5C1281.5,1315.7 1284.6,1319.9 1283.9,1325.1C1283.2,1330.3 1279.3,1335.9 1275.5,1341.8C1271.7,1347.7 1264.7,1354 1260.9,1360.6C1257.1,1367.2 1254.6,1370.9 1252.5,1381.5C1250.4,1392.1 1249.1,1416.9 1248.4,1424" stroke="#0000ff"/><path d="M1372,812C1370.5,813.1 1368.5,814.9 1363.2,818.4C1357.9,821.9 1344,827.4 1340.2,833C1336.4,838.6 1338.8,844.5 1340.2,851.8C1341.6,859.1 1346.5,867.1 1348.6,876.8C1350.7,886.5 1351.9,898.7 1352.8,910.2C1353.7,921.7 1354.5,934.6 1353.8,945.7C1353.1,956.8 1353.6,967.6 1348.6,977C1343.5,986.4 1330.5,994.1 1323.5,1002.1C1316.5,1010.1 1309.2,1015.3 1306.8,1025.1C1304.4,1034.8 1310.3,1051.5 1308.9,1060.6C1307.5,1069.6 1303,1073.1 1298.5,1079.4C1294,1085.7 1287,1090.9 1281.8,1098.2C1276.6,1105.5 1269.5,1117.1 1267.1,1123.2C1264.6,1129.3 1264.6,1129.3 1267.1,1135.1C1269.5,1140.9 1276,1150.3 1281.8,1158C1287.5,1165.7 1301.6,1173.3 1301.6,1181C1301.6,1188.7 1287.9,1196.3 1281.8,1204C1275.7,1211.7 1268.2,1218.9 1265.1,1226.9C1262,1234.9 1264.6,1243 1263,1252C1261.4,1261 1255.7,1272.2 1255.7,1281.2C1255.7,1290.2 1260.8,1298 1263,1306.3C1265.2,1314.6 1269.5,1322.2 1269.2,1331.3C1268.9,1340.3 1263.7,1350.5 1260.9,1360.6C1258.1,1370.7 1254.2,1381.3 1252.5,1391.9C1250.8,1402.5 1250.8,1418.7 1250.4,1424" stroke="#00ffff"/><path d="M1390,812C1388.7,813.1 1386.1,814.5 1382,818.4C1377.9,822.2 1369.8,829.5 1365.3,835.1C1360.8,840.7 1356.9,844.5 1354.8,851.8C1352.7,859.1 1354.2,869.5 1352.8,878.9C1351.4,888.3 1350,898 1346.5,908.1C1343,918.2 1335.7,931.1 1331.9,939.5C1328.1,947.9 1328.4,952 1323.5,958.3C1318.6,964.5 1309.9,969.7 1302.6,977C1295.3,984.3 1285.3,993.4 1279.7,1002.1C1274.1,1010.8 1270.2,1020.2 1269.2,1029.3C1268.2,1038.3 1271.8,1048.4 1273.4,1056.4C1275,1064.4 1278.6,1070.3 1278.6,1077.3C1278.6,1084.3 1276,1090.5 1273.4,1098.2C1270.8,1105.9 1264.9,1117.8 1263,1123.2C1261.1,1128.7 1260.5,1126.1 1261.9,1130.9C1263.3,1135.7 1267,1143.8 1271.3,1151.8C1275.6,1159.8 1286.6,1170.9 1288,1178.9C1289.4,1186.9 1282.3,1193.2 1279.7,1199.8C1277.1,1206.4 1272.1,1212 1272.4,1218.6C1272.8,1225.2 1279.5,1233.2 1281.8,1239.5C1284,1245.8 1287.3,1250.6 1285.9,1256.2C1284.5,1261.8 1277.1,1266.6 1273.4,1272.9C1269.8,1279.2 1265.4,1286.2 1264,1293.8C1262.6,1301.4 1266,1310.4 1265.1,1318.8C1264.2,1327.2 1261.2,1335.2 1258.8,1343.9C1256.3,1352.6 1252.5,1357.7 1250.4,1371C1248.3,1384.3 1247,1415.2 1246.3,1424" stroke="#ff00ff"/><path d="M1385,812C1383.5,813.1 1381.4,815.2 1375.7,818.4C1370,821.5 1356.6,826 1350.7,830.9C1344.8,835.8 1342.6,842 1340.2,847.6C1337.8,853.2 1339.2,858.4 1336.1,864.3C1333,870.2 1326.6,876.5 1321.4,883.1C1316.2,889.7 1307.8,895.3 1304.7,904C1301.6,912.7 1302.6,924.9 1302.6,935.3C1302.6,945.7 1305,957.5 1304.7,966.6C1304.4,975.7 1304.4,981.6 1300.6,989.6C1296.8,997.6 1286,1006.2 1281.8,1014.6C1277.6,1023 1276.5,1031 1275.5,1039.7C1274.5,1048.4 1276.9,1058.1 1275.5,1066.8C1274.1,1075.5 1270.2,1083.2 1267.1,1091.9C1264,1100.6 1259.1,1112.5 1256.7,1119C1254.3,1125.5 1252.5,1125.4 1252.5,1130.9C1252.5,1136.4 1253.6,1144.8 1256.7,1151.8C1259.8,1158.8 1268.3,1166.3 1271.3,1172.6C1274.3,1178.8 1275.5,1183 1274.5,1189.3C1273.5,1195.6 1267.4,1203.2 1265.1,1210.2C1262.8,1217.2 1261.2,1223.4 1260.9,1231.1C1260.6,1238.8 1262.3,1247.8 1263,1256.2C1263.7,1264.6 1262.7,1274.2 1265.1,1281.2C1267.5,1288.2 1271.7,1292 1277.6,1297.9C1283.5,1303.8 1295.7,1311.1 1300.6,1316.7C1305.5,1322.3 1308.2,1326.1 1306.8,1331.3C1305.4,1336.5 1296.7,1342.4 1292.2,1348C1287.7,1353.6 1282.1,1358.4 1279.7,1364.7C1277.3,1371 1278.6,1378.6 1277.6,1385.6C1276.5,1392.6 1275.2,1400.1 1273.4,1406.5C1271.7,1412.9 1268.1,1421.1 1267.1,1424" stroke="#000000"/><path d="M1305,812C1304.8,813.1 1304.8,814.2 1303.7,818.4C1302.6,822.6 1299.5,830.5 1298.5,837.1C1297.5,843.7 1298.6,851 1297.4,858C1296.2,865 1292.1,872.3 1291.2,878.9C1290.3,885.5 1289.2,891.8 1292.2,897.7C1295.2,903.6 1301.9,908.8 1308.9,914.4C1315.9,920 1325.3,925.9 1334,931.1C1342.7,936.3 1354.5,941.2 1361.1,945.7C1367.7,950.2 1372.9,954.1 1373.6,958.3C1374.3,962.5 1370.9,965.9 1365.3,970.8C1359.7,975.7 1347.5,981.6 1340.2,987.5C1332.9,993.4 1325.9,1000 1321.4,1006.3C1316.9,1012.6 1315.9,1018.8 1313.1,1025.1C1310.3,1031.4 1305.8,1037.3 1304.7,1043.9C1303.7,1050.5 1306.8,1056.7 1306.8,1064.7C1306.8,1072.7 1307.1,1084.2 1304.7,1091.9C1302.3,1099.6 1296.7,1105.5 1292.2,1110.7C1287.7,1115.9 1280.7,1119.1 1277.6,1123.2C1274.5,1127.3 1272,1130.7 1273.4,1135.1C1274.8,1139.5 1277.6,1145.2 1285.9,1149.7C1294.2,1154.2 1307.8,1158.8 1323.5,1162.2C1339.2,1165.6 1365.3,1167.6 1380,1170C1394.7,1172.4 1402.3,1174.4 1411.9,1176.4C1421.5,1178.4 1431.3,1180.2 1437.4,1182.1C1443.5,1184 1448.6,1185.7 1448.6,1187.8C1448.6,1189.9 1443.5,1192.7 1437.4,1194.8C1431.3,1196.9 1421.5,1198.7 1411.9,1200.6C1402.3,1202.5 1394.7,1203.3 1380,1206.3C1365.3,1209.3 1336.4,1214.8 1323.5,1218.6C1310.6,1222.4 1306.8,1224.8 1302.6,1229C1298.4,1233.2 1301.3,1238.7 1298.5,1243.6C1295.7,1248.5 1289.7,1253.4 1285.9,1258.3C1282.1,1263.2 1276.2,1268.7 1275.5,1272.9C1274.8,1277.1 1275.5,1279.5 1281.8,1283.3C1288.1,1287.1 1303.9,1291.3 1313.1,1295.8C1322.3,1300.3 1335.4,1306.3 1337.1,1310.5C1338.8,1314.7 1331,1316.7 1323.5,1320.9C1316,1325.1 1301.6,1330.6 1292.2,1335.5C1282.8,1340.4 1273.7,1344.2 1267.1,1350.1C1260.5,1356 1255.8,1362.3 1252.5,1371C1249.2,1379.7 1248.3,1393.5 1247.3,1402.3C1246.3,1411.1 1246.5,1420.4 1246.3,1424" stroke="#808000"/></g><g clip-path="url(#cb0)"><path d="M118,82.5C121.3,82.5 124.6,82.1 127.9,81.6C130.9,81.2 133.8,79.5 136.8,78C139.8,76.5 142.7,74.1 145.7,71.8C148.1,69.9 150.5,67.5 152.9,65.5C155.9,63 158.8,60.5 161.8,58.4C164.5,56.4 167.3,54.1 170,53C175,51 180,50.1 185,49C190,47.9 195,46.8 200,46 M185,44C189.3,45.6 193.7,46.9 198,48C202,49 206,50.5 210,50.5C216.7,50.5 223.3,50.5 230,50.5C237.3,50.5 244.7,48.7 252,47C256.3,46 260.7,44 265,42 M435,46C440.5,48.5 445.9,50.8 451.4,52C459.1,53.8 466.9,54.9 474.6,55.7C480,56.3 485.3,57 490.7,57C495.5,57 500.2,55.7 505,54.8C509.8,53.9 514.5,52.5 519.3,51C523.5,49.7 527.8,47.9 532,46 M118,98.5C119.2,98.3 120.4,98 121.6,97.7C127.3,96.2 132.9,93.4 138.6,91.4C144.5,89.3 150.5,87.4 156.4,85.2C162.4,83 168.3,79.6 174.3,78C180.2,76.4 186.2,74.5 192.1,74.5C198.1,74.5 204,79.5 210,82.5C215.3,85.1 220.7,88.9 226,91.4C232,94.2 237.9,96.8 243.9,98.6C249.9,100.4 255.8,102.1 261.8,103C270.4,104.3 279.1,104.2 287.7,105.7C291,106.3 294.2,107.7 297.5,109.3C300.5,110.7 303.4,114.3 306.4,115.5C312.4,117.8 318.3,119.5 324.3,120C330.2,120.5 336.2,120.6 342.1,120.9C349.3,121.2 356.4,121.3 363.6,121.8C370.1,122.3 376.7,123.8 383.2,126.3C387.5,127.9 391.7,134.5 396,137.9C400.2,141.2 404.4,146.8 408.6,146.8C411.3,146.8 413.9,145.4 416.6,145C422.3,144.1 427.9,143.2 433.6,143.2C439.5,143.2 445.5,146.7 451.4,148.6C457.4,150.5 463.3,153.1 469.3,154.8C475.2,156.5 481.1,158.5 487,159.3C493,160.1 499,161 505,161C511,161 516.9,158.1 522.9,155.7C528.8,153.3 534.8,149.1 540.7,145C546.7,140.9 552.6,135 558.6,130.7C562.2,128.1 565.7,124.8 569.3,123.6C574.7,121.7 580,121.1 585.4,120C591.3,118.7 597.3,117.9 603.2,116.4C608.8,115 614.4,112.6 620,111C624.3,109.7 628.7,108.8 633,107.5C636.3,106.5 639.7,105.9 643,104C645.1,102.8 647.1,98.7 649.2,96C651.7,92.7 654.3,89.3 656.8,85.8C659.4,82.3 661.9,78.6 664.5,75C667,71.5 669.5,67.5 672,64.3C674.9,60.5 677.9,56.7 680.8,54C682.5,52.4 684.3,50 686,50C687.3,50 688.7,55.5 690,58C691.5,60.8 693.1,63.2 694.6,65.9C697.1,70.3 699.7,75.3 702.2,79.6C704.8,83.9 707.3,89.1 709.9,91.9C712.5,94.8 715.2,97.3 717.8,98.5 M118,104.5C119.2,104.2 120.4,103.9 121.6,103.9C127.3,103.9 132.9,104.8 138.6,105.7C144.5,106.6 150.5,109.1 156.4,111.1C162.4,113.2 168.3,115.6 174.3,118.2C180.2,120.8 186.2,124.1 192.1,127.1C198.1,130.1 204,133.7 210,136.1C215.3,138.2 220.7,139.7 226,141.4C232,143.3 237.9,146.8 243.9,146.8C249.9,146.8 255.8,146.8 261.8,146.8C267.7,146.8 273.7,144.5 279.6,143.2C282.3,142.6 285,141.4 287.7,141.4C291,141.4 294.2,144.2 297.5,146.8C300.5,149.2 303.4,154.1 306.4,159.3C309.4,164.6 312.4,173.8 315.4,180.7C318.4,187.5 321.3,194.4 324.3,200.4C327.9,207.6 331.4,216.1 335,220C340.1,225.6 345.1,231.6 350.2,231.6C354.7,231.6 359.1,228.6 363.6,225.4C367.2,222.9 370.7,215.4 374.3,210C377.3,205.5 380.2,201.6 383.2,196C385.5,191.7 387.7,183.8 390,180C392.6,175.6 395.3,173.2 397.9,170C400.9,166.3 403.8,161.4 406.8,159.3C408.5,158.1 410.3,156.5 412,156.5C414,156.5 416,157.5 418,158.5C420.2,159.6 422.4,162.8 424.6,165C430.6,171.1 436.5,177.8 442.5,184C448.5,190.2 454.4,195.7 460.4,202.1C465.1,207.2 469.9,213.2 474.6,218.2C478.8,222.6 482.9,228.2 487.1,230.7C493.1,234.2 499,237.9 505,237.9C511,237.9 516.9,233.6 522.9,230.7C528.8,227.8 534.8,223.2 540.7,220C546.7,216.8 552.6,213.5 558.6,211.1C562.2,209.7 565.7,208.1 569.3,207.5C574.7,206.6 580,206.4 585.4,205.7C592.5,204.8 599.5,203.4 606.6,202.1C611.7,201.2 616.9,199.7 622,199C625.9,198.4 629.9,198.2 633.8,197.7C636.4,197.4 638.9,196.9 641.5,196.4C644,195.9 646.6,195.1 649.1,194.2C651.7,193.3 654.2,192 656.8,190.4C659.2,188.9 661.7,186.3 664.1,184C666.7,181.6 669.2,179 671.8,176C674.3,173 676.9,169.3 679.4,165.5C681.9,161.8 684.3,157.4 686.8,153.4C689.4,149.1 692.1,145.7 694.7,140.6C695.9,138.4 697,135.2 698.2,132.7C699.5,129.8 700.9,127 702.2,124.5C703.6,121.9 704.9,120.1 706.3,117.4C707.5,115 708.7,111.6 709.9,109.2C711.1,106.8 712.3,104.6 713.5,103C714.9,101.1 716.4,99.5 717.8,98.5 M296,46C298.3,48.9 300.6,51.8 302.9,53C307.6,55.4 312.4,55.6 317.1,57.5C321.3,59.2 325.4,62 329.6,64.6C333.8,67.2 337.9,70.3 342.1,73.6C346.9,77.4 351.6,81.3 356.4,86.1C360,89.7 363.5,94.8 367.1,98.6C370.7,102.5 374.3,107.1 377.9,109.3C381.5,111.5 385,112.6 388.6,114C391.7,115.2 394.8,117 397.9,117.3C404.1,117.9 410.4,118.2 416.6,118.2C422.3,118.2 427.9,118.2 433.6,118.2C439.5,118.2 445.5,121.6 451.4,123.6C457.4,125.7 463.3,129.2 469.3,130.7C472.9,131.6 476.4,132.8 480,132.8C483.6,132.8 487.1,130.3 490.7,129C495.5,127.3 500.2,125.5 505,123.6C511,121.3 516.9,118.8 522.9,116.4C528.8,114 534.8,111.3 540.7,109.3C546.7,107.2 552.6,105.2 558.6,103.9C562.2,103.1 565.7,102.1 569.3,102.1C574.5,102 579.8,102 585,102C588.3,102 591.7,103 595,103C598.9,103 602.7,101.9 606.6,100.9C610.4,99.9 614.2,97.3 618,95C621.9,92.6 625.9,88.7 629.8,86C633.9,83.3 637.9,82.2 642,78.6C644.4,76.5 646.8,71.8 649.2,68.4C651.6,65 653.9,61.5 656.3,58.2C658.5,55.1 660.8,52.1 663,49C664.7,46.7 666.3,44.4 668,42 M770,47C776.8,48.8 783.6,50.8 790.4,53C798.9,55.7 807.5,58.8 816,62C823.8,64.9 831.5,68.3 839.3,71.5C847.1,74.7 854.8,77.8 862.6,81C870.4,84.2 878.1,87.4 885.9,90.5C893.7,93.6 901.4,96.8 909.2,99.5C913.4,100.9 917.6,102.3 921.8,103.5 M688,50C690.3,53 692.7,56 695,59C697.3,62 699.7,64.9 702,68.3C704.3,71.7 706.7,78.4 709,79.9C711.9,81.8 714.9,83.4 717.8,83.4C721.1,83.4 724.3,82.8 727.6,82.2C730.7,81.6 733.8,79.7 736.9,77.6C740,75.5 743.1,71.4 746.2,68.3C749.3,65.2 752.4,62.1 755.5,59C757.8,56.7 760.2,54.4 762.5,52C764.3,50.1 766.2,48.1 768,46 M717.8,98.5C723.4,97.5 729,95.9 734.6,93.9C742.4,91.2 750.1,86.4 757.9,82.2C765.6,78 773.4,70.5 781.1,68.3C785,67.2 788.9,66 792.8,66C800.5,66 808.3,72.4 816,77.6C823.8,82.8 831.5,93.2 839.3,100.9C847.1,108.6 854.8,117.7 862.6,124.1C870.4,130.5 878.1,136.6 885.9,140.4C892.1,143.4 898.3,147.4 904.5,147.4C910.3,147.4 916,147.2 921.8,145 M717.8,98.5C721.1,101.5 724.3,104.8 727.6,105.5C733.8,106.9 740,106.6 746.2,107.8C754,109.2 761.7,113.5 769.5,117.2C777.3,120.9 785,126.4 792.8,131.1C800.5,135.7 808.3,140.1 816,145.1C823.8,150.1 831.5,156.9 839.3,161.4C847.1,165.9 854.8,169.6 862.6,173C870.4,176.4 878.1,180.3 885.9,182.3C889.8,183.3 893.6,184.7 897.5,184.7C901.4,184.7 905.3,183.5 909.2,182.3C913.4,181 917.6,177.3 921.8,173 M118,168.2C121.3,168.6 124.6,171.9 127.9,175.4C130.3,177.9 132.6,183.3 135,187.9C136.5,190.8 138,194.6 139.5,197.7C141,200.8 142.5,203.5 144,206.6C145.5,209.7 146.9,213.3 148.4,216.4C149.9,219.6 151.4,222.5 152.9,225.4C154.4,228.2 155.8,230.2 157.3,233.4C159.4,237.9 161.5,246.6 163.6,250.4C167.2,256.9 170.7,259.7 174.3,264.6C177.3,268.7 180.2,273.2 183.2,277.1C186.2,281 189.1,284.5 192.1,287.9C195.1,291.3 198,294.8 201,297.7C204,300.7 207,303 210,305.7C213,308.4 215.9,311.9 218.9,313.8C221.9,315.7 224.9,317 227.9,318.2C231.5,319.6 235,321.8 238.6,321.8C243.4,321.8 248.1,320.1 252.9,318.2C255.9,317 258.8,313.9 261.8,311C264.8,308.1 267.7,303.6 270.7,300.4C273.7,297.2 276.6,293.2 279.6,291.4C282.3,289.8 285,287.9 287.7,287.9C291,287.9 294.2,288.9 297.5,289.6C302.3,290.6 307,291.7 311.8,293.2C316,294.5 320.1,296.5 324.3,298.6C330.2,301.6 336.2,305.5 342.1,309.3C348.1,313.2 354,318.5 360,321.8C363.7,323.8 367.3,327 371,327C374.3,327 377.7,325 381,323C383.6,321.4 386.3,317.8 388.9,314.6C391.9,311 394.9,306.2 397.9,302.1C401.5,297.3 405,291.7 408.6,287.9C411.3,285.1 413.9,282.2 416.6,280.7C421.1,278.2 425.5,275.4 430,275.4C434.2,275.4 438.3,277 442.5,278.9C445.5,280.2 448.4,284.7 451.4,287.9C454.4,291.2 457.4,295 460.4,298.6C463.4,302.1 466.3,306.1 469.3,309.3C472.9,313.2 476.4,317.6 480,320C483.6,322.4 487.1,324.7 490.7,325.4C495.5,326.3 500.2,327.1 505,327.1C511,327.1 516.9,324.8 522.9,323.6C528.8,322.4 534.8,321 540.7,320C546.7,319 552.6,317.9 558.6,317.3C562.2,316.9 565.7,316.5 569.3,316.4C577.6,316.2 586,316.1 594.3,316.1C600.2,316.1 606.2,316.2 612.1,316.4C618.1,316.6 624,318.2 630,320C634,321.2 638,323.7 642,327C645.3,329.7 648.5,335.2 651.8,340C654.3,343.7 656.8,347 659.3,352.1C661.1,355.7 662.8,361.7 664.6,366.4C666.4,371.2 668.2,375.9 670,380.7C671.8,385.5 673.6,390.9 675.4,395C677.2,399 678.9,401.4 680.7,405.7C681.9,408.6 683.1,412.6 684.3,416.4C685.5,420.2 686.7,425 687.9,428.9C689.1,432.7 690.2,436 691.4,439.6C692.6,443.3 693.8,447.1 695,451C696.2,454.9 697.4,458.8 698.6,462.9C699.8,466.9 700.9,471.4 702.1,475.4C703.3,479.5 704.5,483.5 705.7,487C707.2,491.3 708.7,494.4 710.2,498.6C711.4,501.9 712.6,506.1 713.8,509.3C715.1,512.9 716.4,516.2 717.7,519.1 M118,520C120.7,517.8 123.3,515.4 126,512.9C129,510.1 132,507.4 135,503.9C138,500.4 140.9,495.8 143.9,491.4C146.9,486.9 149.9,482 152.9,477.1C155.9,472.2 158.8,467.3 161.8,462C164.5,457.2 167.1,452 169.8,446.8C172.5,441.6 175.2,435.5 177.9,430.7C180.9,425.4 183.8,420.8 186.8,416.4C189.8,412 192.7,407.9 195.7,403.9C199.9,398.3 204,392.9 208.2,387.9C212.4,382.9 216.5,378.1 220.7,373.6C225.5,368.5 230.2,363.4 235,359.3C238.6,356.3 242.1,353.3 245.7,351.3C249.9,349 254,346.4 258.2,345.9C262.4,345.4 266.5,345 270.7,345C276.4,345 282,345.5 287.7,345.9C293.9,346.4 300.2,347.4 306.4,348.6C312.4,349.8 318.3,351.3 324.3,353.9C329.1,356 333.8,360.7 338.6,364.6C342.4,367.7 346.2,371.2 350,375C353.3,378.3 356.7,382.1 360,386.1C366,393.2 371.9,401.3 377.9,409.3C382.2,415 386.4,420.6 390.7,427.1C394.3,432.5 397.8,437.5 401.4,445C403.8,450.1 406.2,460.5 408.6,464.6C411.3,469.2 413.9,471 416.6,474.5C419.9,478.7 423.1,484.1 426.4,487.9C430,492 433.5,495.8 437.1,498.6C440.7,501.5 444.3,504.8 447.9,505.7C452.1,506.7 456.2,507.5 460.4,507.5C464.6,507.5 468.7,506.1 472.9,504.8C477.6,503.3 482.4,499.8 487.1,496.8C491.9,493.7 496.6,489.5 501.4,486.1C506.2,482.7 510.9,479.1 515.7,476.3C521.1,473.2 526.4,469.8 531.8,468.2C537.7,466.5 543.7,465.3 549.6,464.6C556.2,463.8 562.7,462.9 569.3,462.9C572.9,462.9 576.4,464.5 580,466.4C583.6,468.3 587.1,475 590.7,480.7C594.3,486.4 597.8,495 601.4,502.1C604.4,508.1 607.4,513.6 610.4,520C612.8,525 615.1,531.3 617.5,536.1C620.5,542.1 623.4,547.1 626.4,552.1C629.4,557.2 632.4,561.9 635.4,566.4C638.4,570.8 641.3,575.1 644.3,578.9C647.9,583.5 651.4,588.5 655,591.4C658.8,594.5 662.6,598.6 666.4,598.6C671.2,598.6 675.9,594.8 680.7,591.4C684.3,588.8 687.8,583.9 691.4,578.9C693.8,575.5 696.2,571.1 698.6,566.4C701,561.8 703.3,555.4 705.7,550.4C707.5,546.6 709.3,543.7 711.1,539.6C712.3,537 713.4,534.2 714.6,530.7C715.6,527.6 716.7,523.5 717.7,519.1 M118,520C120.7,522.4 123.3,524.7 126,527.1C129,529.8 132,532.4 135,535.2C138,538 140.9,541 143.9,544.1C146.9,547.2 149.9,550.8 152.9,553.9C155.9,557 158.8,560.7 161.8,562.9C164.8,565.1 167.7,567.2 170.7,568.2C173.4,569.1 176.1,570 178.8,570C182,570 185.3,568.6 188.6,567.3C191.6,566.1 194.5,563.7 197.5,561.1C200.5,558.5 203.4,554.6 206.4,550.4C208.8,547 211.2,542.1 213.6,537.9C216.6,532.6 219.5,527.6 222.5,521.8C225.5,516 228.4,509.4 231.4,503C234.4,496.6 237.4,489.9 240.4,483.4C243.1,477.7 245.7,471.9 248.4,466.4C250.5,462.1 252.5,457.8 254.6,453.9C257,449.4 259.4,444.1 261.8,441.4C264.8,438.1 267.7,436.1 270.7,434.3C273.7,432.5 276.6,430.7 279.6,429.8C282.3,429 285,428.4 287.7,428C291,427.6 294.2,427.6 297.5,427.1C300.5,426.6 303.4,424.7 306.4,422.7C309.4,420.7 312.4,416.3 315.4,412.9C318.4,409.5 321.3,406 324.3,402.1C327.3,398.2 330.2,393.8 333.2,389.6C336.2,385.4 339.1,380.6 342.1,377.1C345.1,373.6 348,370 351,368.2C355.2,365.7 359.4,362.9 363.6,362.9C367.2,362.9 370.7,364.6 374.3,366.4C377.3,367.9 380.2,371.5 383.2,375.4C385.5,378.4 387.7,383.5 390,387.9C391.4,390.7 392.9,394.2 394.3,396.8C397.3,402.2 400.2,406.5 403.2,411.1C405.6,414.8 408,418.3 410.4,421.8C412.5,424.8 414.5,428.1 416.6,430.7C419.3,434.1 421.9,437.1 424.6,439.6C427.6,442.4 430.6,445.5 433.6,446.8C437.8,448.6 441.9,450.4 446.1,450.4C449.1,450.4 452,449.5 455,448.6C459.8,447.1 464.5,442 469.3,437.9C472.9,434.8 476.4,431.2 480,427.1C483.6,423 487.1,417.6 490.7,412.9C494.3,408.2 497.8,403.4 501.4,398.6C505,393.8 508.5,389 512.1,384.3C515.7,379.5 519.3,374.1 522.9,370C526.5,365.9 530,362.2 533.6,359.3C537.2,356.4 540.7,353.4 544.3,352.1C549.1,350.3 553.8,348.6 558.6,348.6C562.2,348.6 565.7,349.5 569.3,349.5C574.7,349.5 580,348.1 585.4,346.8C591.3,345.4 597.3,342.5 603.2,339.6C608,337.2 612.7,334.7 617.5,330.7C621.7,327.2 625.8,319.7 630,314.6C633.6,310.2 637.1,306.4 640.7,302.1C642.1,300.4 643.6,298.9 645,296.8C647.1,293.6 649.3,288.1 651.4,284.3C652.8,281.7 654.3,279.4 655.7,277.1C658.7,272.2 661.6,267.8 664.6,262.9C667,258.9 669.4,255.1 671.8,250.4C674.9,244.5 677.9,236.2 681,230C683,225.9 685.1,222.5 687.1,218.4C688.4,215.9 689.6,213.1 690.9,210.5C692.2,207.9 693.4,205.1 694.7,202.5C696,199.8 697.3,197.1 698.6,194.5C699.9,192 701.1,189.6 702.4,187.2C703.6,185 704.7,182.5 705.9,180.5C707.2,178.3 708.4,175.9 709.7,174.4C711,172.9 712.2,171.6 713.5,171C714.9,170.3 716.4,169.6 717.8,169.5 M717.8,169.5C722.6,172.6 727.4,178.3 732.2,184.7C736.1,189.9 740,198.2 743.9,205.6C747,211.5 750.1,217.3 753.2,224.2C756.4,231.4 759.7,243.3 762.9,248.6C765.3,252.5 767.6,254.5 770,257.5C772.4,260.5 774.7,263.5 777.1,266.4C780.7,270.7 784.3,275.3 787.9,278.9C792.6,283.7 797.4,287.9 802.1,291.4C806.9,294.9 811.6,297.9 816.4,300.4C821.8,303.2 827.1,305.6 832.5,307.5C838.5,309.6 844.4,310.7 850.4,312.9C856.3,315.1 862.3,318.3 868.2,321.8C872.4,324.3 876.5,328.4 880.7,330.7C884,332.5 887.2,335.2 890.5,335.2C893.8,335.2 897.1,330.4 900.4,327.1C904,323.5 907.5,318 911.1,312.9C914.7,307.8 918.2,302.1 921.8,296 M717.7,519.1C719.7,519.1 721.6,519.5 723.6,520C726.6,520.7 729.5,525.7 732.5,528.9C736.1,532.7 739.6,536.7 743.2,541.4C746.8,546.1 750.3,552.1 753.9,557.5C757.5,562.9 761,568.9 764.6,573.6C768.2,578.3 771.8,582.8 775.4,586.1C779,589.3 782.5,592.8 786.1,594.1C788.5,595 790.8,595.9 793.2,595.9C796.2,595.9 799.1,594.5 802.1,593.2C805.7,591.6 809.3,588.1 812.9,584.3C816.5,580.5 820,574.7 823.6,568.2C826.6,562.8 829.5,554.7 832.5,547.7C836.1,539.3 839.6,530.9 843.2,521.8C846.8,512.7 850.3,503 853.9,493.2C857.5,483.4 861,473.3 864.6,462.9C866.4,457.7 868.2,451.8 870,446.8C871.8,441.8 873.6,437.2 875.4,432.5C877.2,427.9 878.9,423 880.7,419.1C882.5,415.1 884.3,411.1 886.1,408.4C887.9,405.8 889.6,402.1 891.4,402.1C892.9,402.1 894.5,403 896,404C897.5,405 898.9,408.9 900.4,412C902.5,416.4 904.5,421.4 906.6,428C908.4,433.8 910.2,442.2 912,450.4C913.8,458.4 915.5,467.4 917.3,477.1C918.8,485.3 920.3,494.4 921.8,504 M717.7,519.1C720.8,519.1 724,517.8 727.1,516.4C730.7,514.8 734.3,508.6 737.9,503.9C741.5,499.2 745,493.8 748.6,487.9C752.2,482 755.7,474.4 759.3,468.2C762.9,462 766.4,456.2 770,450.4C773,445.6 775.9,439.8 778.9,436.1C783.1,430.9 787.2,426.8 791.4,423.6C796.2,419.9 800.9,416.9 805.7,414.6C811.7,411.7 817.6,409.6 823.6,407.5C829.5,405.5 835.5,403.9 841.4,402.1C847.4,400.3 853.3,399 859.3,396.8C865.2,394.6 871.2,390.9 877.1,387.9C881.9,385.5 886.6,382.6 891.4,380.7C895,379.3 898.5,378.7 902.1,377.1C905.7,375.5 909.3,372.3 912.9,370C915.9,368.1 918.8,366.3 921.8,364.6 M405,664C406.2,661.2 407.4,658.4 408.6,655.7C411,650.3 413.3,644.1 415.7,639.6C418.7,634 421.6,629 424.6,625.4C427.6,621.7 430.6,617.9 433.6,616.4C437.2,614.6 440.7,612.9 444.3,612.9C447.9,612.9 451.4,615.7 455,618.2C458,620.3 460.9,624.1 463.9,628.9C465.7,631.8 467.5,636.2 469.3,641.4C470.5,644.9 471.7,650.5 472.9,654.8C473.6,657.3 474.3,659.7 475,662 M905,662C906.4,659.8 907.9,657.4 909.3,654.8C911.2,651.3 913.1,646.7 915,643C917.3,638.6 919.5,634.5 921.8,630.7" fill="none" stroke="#000" stroke-width="4.2" stroke-linejoin="round"/><g fill="#fff" stroke="#ff0000"><use href="#k26" x="198.7" y="46.2"/><use href="#k27" x="194.4" y="47"/><use href="#k25" x="190.2" y="47.9"/><use href="#k26" x="185.9" y="48.8"/><use href="#k25" x="181.7" y="49.7"/><use href="#k26" x="177.4" y="50.7"/><use href="#k24" x="173.2" y="51.9"/><use href="#k23" x="168.9" y="53.5"/><use href="#k21" x="164.7" y="56.2"/><use href="#k21" x="160.4" y="59.4"/><use href="#k18" x="156.2" y="62.8"/><use href="#k17" x="152" y="66.3"/><use href="#k14" x="147.7" y="70.1"/><use href="#k13" x="143.5" y="73.5"/><use href="#k11" x="139.2" y="76.6"/><use href="#k10" x="135" y="78.9"/><use href="#k8" x="130.7" y="80.9"/><use href="#dr6" x="126.5" y="81.8"/></g><g fill="#fff" stroke="#0000ff"><use href="#k11" x="198.7" y="46.2"/><use href="#k12" x="194.4" y="47"/><use href="#k11" x="190.2" y="47.9"/><use href="#k12" x="185.9" y="48.8"/><use href="#k11" x="181.7" y="49.7"/><use href="#k12" x="177.4" y="50.7"/><use href="#k11" x="173.2" y="51.9"/><use href="#k11" x="168.9" y="53.5"/><use href="#k10" x="164.7" y="56.2"/><use href="#k10" x="160.4" y="59.4"/><use href="#k9" x="156.2" y="62.8"/><use href="#k10" x="152" y="66.3"/><use href="#k9" x="147.7" y="70.1"/><use href="#k9" x="143.5" y="73.5"/><use href="#db8" x="139.2" y="76.6"/><use href="#db7" x="135" y="78.9"/><use href="#db6" x="130.7" y="80.9"/><use href="#db5" x="126.5" y="81.8"/><use href="#db5" x="122.2" y="82.3"/><use href="#db5" x="118" y="82.5"/></g><g fill="#fff" stroke="#0000ff"><use href="#k32" x="262.3" y="43.2"/><use href="#k31" x="258.1" y="45"/><use href="#k32" x="253.8" y="46.5"/><use href="#k31" x="249.6" y="47.6"/><use href="#k32" x="245.3" y="48.5"/><use href="#k31" x="241.1" y="49.4"/><use href="#k32" x="236.9" y="50"/><use href="#k31" x="232.6" y="50.4"/><use href="#k32" x="228.4" y="50.5"/><use href="#k31" x="224.1" y="50.5"/><use href="#k32" x="219.9" y="50.5"/><use href="#k31" x="215.6" y="50.5"/><use href="#k32" x="211.4" y="50.5"/><use href="#k31" x="207.1" y="50.3"/><use href="#k32" x="202.9" y="49.3"/><use href="#k31" x="198.7" y="48.2"/><use href="#k32" x="194.4" y="47"/><use href="#k31" x="190.2" y="45.8"/><use href="#k32" x="185.9" y="44.3"/></g><g fill="#fff" stroke="#ff0000"><use href="#k28" x="531.1" y="46.4"/><use href="#k26" x="527.3" y="48.1"/><use href="#k28" x="523.5" y="49.6"/><use href="#k26" x="519.6" y="50.9"/><use href="#k28" x="515.8" y="52.1"/><use href="#k26" x="512" y="53.2"/><use href="#k28" x="508.2" y="54.1"/><use href="#k26" x="504.4" y="54.9"/><use href="#k28" x="500.5" y="55.7"/><use href="#k26" x="496.7" y="56.4"/><use href="#k28" x="492.9" y="56.9"/><use href="#k26" x="489.1" y="57"/><use href="#k28" x="485.3" y="56.8"/><use href="#k26" x="481.4" y="56.4"/><use href="#k28" x="477.6" y="56"/><use href="#k26" x="473.8" y="55.6"/><use href="#k28" x="470" y="55.2"/><use href="#k26" x="466.2" y="54.7"/><use href="#k28" x="462.3" y="54.1"/><use href="#k26" x="458.5" y="53.4"/><use href="#k28" x="454.7" y="52.7"/><use href="#k26" x="450.9" y="51.9"/><use href="#k28" x="447.1" y="50.8"/><use href="#k26" x="443.2" y="49.5"/><use href="#k28" x="439.4" y="47.9"/><use href="#k26" x="435.6" y="46.3"/></g><g fill="#fff" stroke="#0000ff"><use href="#k23" x="531.1" y="46.4"/><use href="#k22" x="527.3" y="48.1"/><use href="#k23" x="523.5" y="49.6"/><use href="#k22" x="519.6" y="50.9"/><use href="#k23" x="515.8" y="52.1"/><use href="#k22" x="512" y="53.2"/><use href="#k23" x="508.2" y="54.1"/><use href="#k22" x="504.4" y="54.9"/><use href="#k23" x="500.5" y="55.7"/><use href="#k22" x="496.7" y="56.4"/><use href="#k23" x="492.9" y="56.9"/><use href="#k22" x="489.1" y="57"/><use href="#k23" x="485.3" y="56.8"/><use href="#k22" x="481.4" y="56.4"/><use href="#k23" x="477.6" y="56"/><use href="#k22" x="473.8" y="55.6"/><use href="#k23" x="470" y="55.2"/><use href="#k22" x="466.2" y="54.7"/><use href="#k23" x="462.3" y="54.1"/><use href="#k22" x="458.5" y="53.4"/><use href="#k23" x="454.7" y="52.7"/><use href="#k22" x="450.9" y="51.9"/><use href="#k23" x="447.1" y="50.8"/><use href="#k22" x="443.2" y="49.5"/><use href="#k23" x="439.4" y="47.9"/><use href="#k22" x="435.6" y="46.3"/></g><g fill="#fff" stroke="#ff0000"><use href="#k22" x="365" y="121.9"/><use href="#k24" x="361.8" y="121.7"/><use href="#k25" x="358.6" y="121.5"/><use href="#k24" x="355.4" y="121.4"/><use href="#k25" x="352.1" y="121.3"/><use href="#k24" x="348.9" y="121.2"/><use href="#k25" x="345.7" y="121"/><use href="#k23" x="342.5" y="120.9"/><use href="#k25" x="339.3" y="120.8"/><use href="#k23" x="336.1" y="120.7"/><use href="#k24" x="332.8" y="120.5"/><use href="#k23" x="329.6" y="120.4"/><use href="#k24" x="326.4" y="120.2"/><use href="#k23" x="323.2" y="119.9"/><use href="#k24" x="320" y="119.4"/><use href="#k23" x="316.8" y="118.8"/><use href="#k24" x="313.5" y="117.9"/><use href="#k23" x="310.3" y="116.9"/><use href="#k24" x="307.1" y="115.8"/><use href="#k22" x="303.9" y="114"/><use href="#k23" x="300.7" y="111.5"/><use href="#k22" x="297.5" y="109.3"/><use href="#k23" x="294.2" y="107.8"/><use href="#k22" x="291" y="106.6"/><use href="#k23" x="287.8" y="105.7"/><use href="#k22" x="283.6" y="105.1"/><use href="#k23" x="279.3" y="104.6"/><use href="#k22" x="275.1" y="104.3"/><use href="#k23" x="270.8" y="104"/><use href="#k22" x="266.6" y="103.6"/><use href="#k23" x="262.3" y="103.1"/><use href="#k22" x="258.1" y="102.3"/><use href="#k23" x="253.8" y="101.4"/><use href="#k22" x="249.6" y="100.3"/><use href="#k23" x="245.3" y="99"/><use href="#k22" x="241.1" y="97.7"/><use href="#k23" x="236.9" y="96.1"/><use href="#k22" x="232.6" y="94.4"/><use href="#k23" x="228.4" y="92.5"/><use href="#k22" x="224.1" y="90.5"/><use href="#k23" x="219.9" y="88.1"/><use href="#k22" x="215.6" y="85.6"/><use href="#k23" x="211.4" y="83.2"/><use href="#k22" x="207.1" y="81"/><use href="#k19" x="202.9" y="78.4"/></g><g fill="#fff" stroke="#0000ff"><use href="#k32" x="717.8" y="98.5"/><use href="#k31" x="714.1" y="96"/><use href="#k32" x="710.4" y="92.4"/><use href="#k31" x="706.7" y="87.3"/><use href="#k32" x="702.9" y="80.9"/><use href="#k11" x="699.2" y="74.3"/><use href="#k32" x="695.5" y="67.5"/><use href="#k11" x="691.8" y="61.2"/><use href="#k30" x="688.1" y="53.3"/><use href="#k9" x="684.4" y="50.6"/><use href="#k23" x="680.7" y="54.1"/><use href="#k8" x="677" y="58.1"/><use href="#k24" x="673.2" y="62.7"/><use href="#k9" x="669.5" y="67.7"/><use href="#k25" x="665.8" y="73.1"/><use href="#k9" x="662.1" y="78.4"/><use href="#k26" x="658.4" y="83.6"/><use href="#k9" x="654.7" y="88.7"/><use href="#k26" x="651" y="93.7"/><use href="#k9" x="647.3" y="98.8"/><use href="#k27" x="643.5" y="103.6"/><use href="#k10" x="639.8" y="105.5"/><use href="#k29" x="636.1" y="106.6"/><use href="#k10" x="632.4" y="107.7"/><use href="#k30" x="628.7" y="108.7"/><use href="#k11" x="625" y="109.7"/><use href="#k32" x="621.3" y="110.6"/><use href="#k12" x="617.6" y="111.8"/><use href="#k34" x="613.8" y="113"/><use href="#k12" x="610.1" y="114.3"/><use href="#k36" x="606.4" y="115.5"/><use href="#k13" x="602.7" y="116.5"/><use href="#k38" x="599" y="117.4"/><use href="#k14" x="595.3" y="118.1"/><use href="#k40" x="591.6" y="118.8"/><use href="#k14" x="587.9" y="119.5"/><use href="#k42" x="584.1" y="120.3"/><use href="#k15" x="580.4" y="121"/><use href="#k44" x="576.7" y="121.7"/><use href="#k16" x="573" y="122.5"/><use href="#k46" x="569.3" y="123.6"/><use href="#k16" x="565.5" y="125.6"/><use href="#k45" x="561.7" y="128.4"/><use href="#k15" x="557.8" y="131.3"/><use href="#k44" x="554" y="134.3"/><use href="#k15" x="550.2" y="137.5"/><use href="#k42" x="546.4" y="140.7"/><use href="#k15" x="542.6" y="143.7"/><use href="#k41" x="538.7" y="146.3"/><use href="#k14" x="534.9" y="149"/><use href="#k40" x="531.1" y="151.4"/><use href="#k14" x="527.3" y="153.6"/><use href="#k39" x="523.5" y="155.5"/><use href="#k14" x="519.6" y="157"/><use href="#k38" x="515.8" y="158.6"/><use href="#k13" x="512" y="159.9"/><use href="#k37" x="508.2" y="160.7"/><use href="#k13" x="504.4" y="161"/><use href="#k36" x="500.5" y="160.9"/><use href="#k13" x="496.7" y="160.5"/><use href="#k35" x="492.9" y="160.1"/><use href="#k12" x="489.1" y="159.6"/><use href="#k34" x="485.3" y="159"/><use href="#k12" x="481.4" y="158.2"/><use href="#k33" x="477.6" y="157.2"/><use href="#k11" x="473.8" y="156.1"/><use href="#k32" x="470" y="155"/><use href="#k11" x="466.2" y="153.8"/><use href="#k31" x="462.3" y="152.5"/><use href="#k11" x="458.5" y="151.1"/><use href="#k30" x="454.7" y="149.7"/><use href="#k10" x="450.9" y="148.4"/><use href="#k29" x="447.1" y="147"/><use href="#k10" x="443.2" y="145.5"/><use href="#k28" x="439.4" y="144.1"/><use href="#k10" x="435.6" y="143.3"/><use href="#k27" x="431.8" y="143.2"/><use href="#k9" x="428" y="143.5"/><use href="#k25" x="424.1" y="143.9"/><use href="#k8" x="420.3" y="144.4"/><use href="#k23" x="416.5" y="145"/><use href="#k8" x="413.3" y="145.8"/><use href="#k23" x="410.1" y="146.7"/><use href="#k8" x="406.8" y="146.5"/><use href="#k23" x="403.6" y="144.7"/><use href="#k8" x="400.4" y="141.9"/><use href="#k23" x="397.2" y="138.9"/><use href="#k8" x="394" y="136.1"/><use href="#k23" x="390.8" y="132.7"/><use href="#k8" x="387.5" y="129.4"/><use href="#k23" x="384.3" y="126.8"/><use href="#k22" x="381.1" y="125.5"/><use href="#k22" x="377.9" y="124.5"/><use href="#k20" x="374.7" y="123.6"/><use href="#k21" x="371.5" y="122.9"/><use href="#k19" x="368.2" y="122.3"/><use href="#k19" x="365" y="121.9"/><use href="#k17" x="361.8" y="121.7"/><use href="#k18" x="358.6" y="121.5"/><use href="#k17" x="355.4" y="121.4"/><use href="#k18" x="352.1" y="121.3"/><use href="#k17" x="348.9" y="121.2"/><use href="#k17" x="345.7" y="121"/><use href="#k16" x="342.5" y="120.9"/><use href="#k17" x="339.3" y="120.8"/><use href="#k16" x="336.1" y="120.7"/><use href="#k17" x="332.8" y="120.5"/><use href="#k16" x="329.6" y="120.4"/><use href="#k16" x="326.4" y="120.2"/><use href="#k15" x="323.2" y="119.9"/><use href="#k16" x="320" y="119.4"/><use href="#k15" x="316.8" y="118.8"/><use href="#k15" x="313.5" y="117.9"/><use href="#k14" x="310.3" y="116.9"/><use href="#k15" x="307.1" y="115.8"/><use href="#k14" x="303.9" y="114"/><use href="#k15" x="300.7" y="111.5"/><use href="#k14" x="297.5" y="109.3"/><use href="#k14" x="294.2" y="107.8"/><use href="#k13" x="291" y="106.6"/><use href="#k14" x="287.8" y="105.7"/><use href="#k13" x="283.6" y="105.1"/><use href="#k14" x="279.3" y="104.6"/><use href="#k13" x="275.1" y="104.3"/><use href="#k14" x="270.8" y="104"/><use href="#k14" x="266.6" y="103.6"/><use href="#k14" x="262.3" y="103.1"/><use href="#k14" x="258.1" y="102.3"/><use href="#k15" x="253.8" y="101.4"/><use href="#k14" x="249.6" y="100.3"/><use href="#k15" x="245.3" y="99"/><use href="#k14" x="241.1" y="97.7"/><use href="#k15" x="236.9" y="96.1"/><use href="#k15" x="232.6" y="94.4"/><use href="#k15" x="228.4" y="92.5"/><use href="#k15" x="224.1" y="90.5"/><use href="#k16" x="219.9" y="88.1"/><use href="#k15" x="215.6" y="85.6"/><use href="#k16" x="211.4" y="83.2"/><use href="#k15" x="207.1" y="81"/><use href="#k18" x="202.9" y="78.4"/><use href="#db8" x="198.7" y="76.2"/><use href="#k25" x="194.4" y="74.7"/><use href="#k10" x="190.2" y="74.6"/><use href="#k29" x="185.9" y="75.1"/><use href="#k11" x="181.7" y="76"/><use href="#k31" x="177.4" y="77.2"/><use href="#k11" x="173.2" y="78.3"/><use href="#k33" x="168.9" y="79.8"/><use href="#k12" x="164.7" y="81.6"/><use href="#k35" x="160.4" y="83.5"/><use href="#k13" x="156.2" y="85.3"/><use href="#k37" x="152" y="86.8"/><use href="#k13" x="147.7" y="88.3"/><use href="#k38" x="143.5" y="89.7"/><use href="#k14" x="139.2" y="91.2"/><use href="#k40" x="135" y="92.8"/><use href="#k14" x="130.7" y="94.5"/><use href="#k42" x="126.5" y="96.1"/><use href="#k15" x="122.2" y="97.5"/><use href="#k44" x="118" y="98.5"/></g><g fill="#fff" stroke="#ff0000"><use href="#k16" x="606.4" y="202.1"/><use href="#k15" x="602.7" y="202.8"/><use href="#k16" x="599" y="203.5"/><use href="#k15" x="595.3" y="204.2"/><use href="#k16" x="591.6" y="204.8"/><use href="#k15" x="587.9" y="205.4"/><use href="#k16" x="584.1" y="205.9"/><use href="#k15" x="580.4" y="206.2"/><use href="#k16" x="576.7" y="206.6"/><use href="#k15" x="573" y="207"/><use href="#k16" x="569.3" y="207.5"/><use href="#k16" x="565.5" y="208.5"/><use href="#k17" x="561.7" y="209.9"/><use href="#k16" x="557.8" y="211.4"/><use href="#k18" x="554" y="213.1"/><use href="#k17" x="550.2" y="214.9"/><use href="#k18" x="546.4" y="216.9"/><use href="#k18" x="542.6" y="219"/><use href="#k19" x="538.7" y="221.1"/><use href="#k18" x="534.9" y="223.5"/><use href="#k20" x="531.1" y="225.9"/><use href="#k19" x="527.3" y="228.3"/><use href="#k20" x="523.5" y="230.4"/><use href="#k20" x="519.6" y="232.4"/><use href="#k21" x="515.8" y="234.4"/><use href="#k21" x="512" y="236.3"/><use href="#k23" x="508.2" y="237.5"/><use href="#k22" x="504.4" y="237.9"/><use href="#k24" x="500.5" y="237.3"/><use href="#k10" x="496.7" y="235.9"/><use href="#k25" x="492.9" y="234"/><use href="#k10" x="489.1" y="231.9"/><use href="#k22" x="307.1" y="160.6"/><use href="#k22" x="303.9" y="155"/><use href="#k22" x="300.7" y="150.2"/><use href="#k21" x="297.5" y="146.8"/><use href="#k21" x="294.2" y="144.2"/><use href="#k20" x="291" y="142.2"/><use href="#k21" x="287.8" y="141.4"/><use href="#k20" x="283.6" y="142.1"/><use href="#k21" x="279.3" y="143.3"/><use href="#k20" x="275.1" y="144.3"/><use href="#k21" x="270.8" y="145.4"/><use href="#k20" x="266.6" y="146.4"/><use href="#k21" x="262.3" y="146.8"/><use href="#k20" x="258.1" y="146.8"/><use href="#k21" x="253.8" y="146.8"/><use href="#k20" x="249.6" y="146.8"/><use href="#k21" x="245.3" y="146.8"/><use href="#k20" x="241.1" y="146.6"/><use href="#k21" x="236.9" y="145.5"/><use href="#k20" x="232.6" y="143.9"/><use href="#k21" x="228.4" y="142.2"/><use href="#k20" x="224.1" y="140.8"/><use href="#k21" x="219.9" y="139.5"/><use href="#k20" x="215.6" y="138.1"/><use href="#k21" x="211.4" y="136.6"/><use href="#k20" x="207.1" y="134.9"/><use href="#k21" x="202.9" y="132.8"/><use href="#k19" x="198.7" y="130.6"/></g><g fill="#fff" stroke="#0000ff"><use href="#k23" x="717.8" y="98.5"/><use href="#k22" x="714.1" y="102.2"/><use href="#k23" x="710.4" y="108.3"/><use href="#k22" x="706.7" y="116.7"/><use href="#k23" x="702.9" y="123.2"/><use href="#k22" x="699.2" y="130.5"/><use href="#k23" x="695.5" y="138.9"/><use href="#k22" x="691.8" y="145.6"/><use href="#k23" x="688.1" y="151.3"/><use href="#k22" x="684.4" y="157.4"/><use href="#k23" x="680.7" y="163.5"/><use href="#k21" x="677" y="169.1"/><use href="#k22" x="673.2" y="174.2"/><use href="#k21" x="669.5" y="178.6"/><use href="#k22" x="665.8" y="182.3"/><use href="#k21" x="662.1" y="185.9"/><use href="#k22" x="658.4" y="189.3"/><use href="#k20" x="654.7" y="191.7"/><use href="#k21" x="651" y="193.5"/><use href="#k20" x="647.3" y="194.8"/><use href="#k21" x="643.5" y="195.9"/><use href="#k20" x="639.8" y="196.7"/><use href="#k20" x="636.1" y="197.4"/><use href="#k18" x="632.4" y="197.9"/><use href="#k18" x="628.7" y="198.3"/><use href="#k17" x="625" y="198.6"/><use href="#k17" x="621.3" y="199.1"/><use href="#k15" x="617.6" y="199.8"/><use href="#k15" x="613.8" y="200.6"/><use href="#k14" x="610.1" y="201.4"/><use href="#k14" x="606.4" y="202.1"/><use href="#k13" x="602.7" y="202.8"/><use href="#k13" x="599" y="203.5"/><use href="#k12" x="595.3" y="204.2"/><use href="#k13" x="591.6" y="204.8"/><use href="#k12" x="587.9" y="205.4"/><use href="#k12" x="584.1" y="205.9"/><use href="#k12" x="580.4" y="206.2"/><use href="#k12" x="576.7" y="206.6"/><use href="#k11" x="573" y="207"/><use href="#k12" x="569.3" y="207.5"/><use href="#k11" x="565.5" y="208.5"/><use href="#k12" x="561.7" y="209.9"/><use href="#k12" x="557.8" y="211.4"/><use href="#k13" x="554" y="213.1"/><use href="#k13" x="550.2" y="214.9"/><use href="#k14" x="546.4" y="216.9"/><use href="#k13" x="542.6" y="219"/><use href="#k14" x="538.7" y="221.1"/><use href="#k14" x="534.9" y="223.5"/><use href="#k15" x="531.1" y="225.9"/><use href="#k15" x="527.3" y="228.3"/><use href="#k16" x="523.5" y="230.4"/><use href="#k15" x="519.6" y="232.4"/><use href="#k17" x="515.8" y="234.4"/><use href="#k16" x="512" y="236.3"/><use href="#k18" x="508.2" y="237.5"/><use href="#k18" x="504.4" y="237.9"/><use href="#k19" x="500.5" y="237.3"/><use href="#k8" x="496.7" y="235.9"/><use href="#k20" x="492.9" y="234"/><use href="#k8" x="489.1" y="231.9"/><use href="#k21" x="485.3" y="229.4"/><use href="#k9" x="481.4" y="225.8"/><use href="#k22" x="477.6" y="221.6"/><use href="#k9" x="473.8" y="217.3"/><use href="#k23" x="470" y="213.1"/><use href="#k9" x="466.2" y="208.6"/><use href="#k24" x="462.3" y="204.2"/><use href="#k10" x="458.5" y="200.1"/><use href="#k24" x="454.7" y="196.2"/><use href="#k10" x="450.9" y="192.4"/><use href="#k25" x="447.1" y="188.6"/><use href="#k10" x="443.2" y="184.8"/><use href="#k25" x="439.4" y="180.8"/><use href="#k10" x="435.6" y="176.7"/><use href="#k25" x="431.8" y="172.5"/><use href="#k10" x="428" y="168.5"/><use href="#k25" x="424.1" y="164.5"/><use href="#k10" x="420.3" y="160.3"/><use href="#k25" x="416.5" y="157.8"/><use href="#k10" x="413.3" y="156.6"/><use href="#k25" x="410.1" y="157"/><use href="#k10" x="406.8" y="159.3"/><use href="#k25" x="403.6" y="162.5"/><use href="#k10" x="400.4" y="166.7"/><use href="#k25" x="397.2" y="170.9"/><use href="#k24" x="394" y="174.5"/><use href="#k25" x="390.8" y="178.8"/><use href="#k24" x="387.5" y="185.3"/><use href="#k25" x="384.3" y="193.6"/><use href="#k24" x="381.1" y="199.7"/><use href="#k25" x="377.9" y="204.7"/><use href="#k24" x="374.7" y="209.4"/><use href="#k25" x="371.5" y="214.6"/><use href="#k24" x="368.2" y="219.9"/><use href="#k25" x="365" y="224.1"/><use href="#k24" x="361.8" y="226.7"/><use href="#k25" x="358.6" y="228.8"/><use href="#k24" x="355.4" y="230.4"/><use href="#k25" x="352.1" y="231.4"/><use href="#k24" x="348.9" y="231.5"/><use href="#k25" x="345.7" y="230.2"/><use href="#k23" x="342.5" y="227.8"/><use href="#k24" x="339.3" y="224.7"/><use href="#k23" x="336.1" y="221.2"/><use href="#k24" x="332.8" y="217.1"/><use href="#k22" x="329.6" y="211.4"/><use href="#k23" x="326.4" y="204.8"/><use href="#k21" x="323.2" y="198.1"/><use href="#k22" x="320" y="191.1"/><use href="#k20" x="316.8" y="183.8"/><use href="#k20" x="313.5" y="176.2"/><use href="#k18" x="310.3" y="167.9"/><use href="#k19" x="307.1" y="160.6"/><use href="#k17" x="303.9" y="155"/><use href="#k18" x="300.7" y="150.2"/><use href="#k16" x="297.5" y="146.8"/><use href="#k17" x="294.2" y="144.2"/><use href="#k15" x="291" y="142.2"/><use href="#k16" x="287.8" y="141.4"/><use href="#k15" x="283.6" y="142.1"/><use href="#k16" x="279.3" y="143.3"/><use href="#k15" x="275.1" y="144.3"/><use href="#k16" x="270.8" y="145.4"/><use href="#k15" x="266.6" y="146.4"/><use href="#k16" x="262.3" y="146.8"/><use href="#k15" x="258.1" y="146.8"/><use href="#k16" x="253.8" y="146.8"/><use href="#k15" x="249.6" y="146.8"/><use href="#k16" x="245.3" y="146.8"/><use href="#k15" x="241.1" y="146.6"/><use href="#k16" x="236.9" y="145.5"/><use href="#k15" x="232.6" y="143.9"/><use href="#k16" x="228.4" y="142.2"/><use href="#k15" x="224.1" y="140.8"/><use href="#k16" x="219.9" y="139.5"/><use href="#k15" x="215.6" y="138.1"/><use href="#k16" x="211.4" y="136.6"/><use href="#k15" x="207.1" y="134.9"/><use href="#k16" x="202.9" y="132.8"/><use href="#k15" x="198.7" y="130.6"/><use href="#k17" x="194.4" y="128.3"/><use href="#k16" x="190.2" y="126.1"/><use href="#k17" x="185.9" y="123.9"/><use href="#k17" x="181.7" y="121.7"/><use href="#k18" x="177.4" y="119.6"/><use href="#k18" x="173.2" y="117.7"/><use href="#k19" x="168.9" y="115.9"/><use href="#k19" x="164.7" y="114.2"/><use href="#k20" x="160.4" y="112.5"/><use href="#k20" x="156.2" y="111"/><use href="#k21" x="152" y="109.5"/><use href="#k21" x="147.7" y="108.1"/><use href="#k22" x="143.5" y="106.8"/><use href="#k22" x="139.2" y="105.8"/><use href="#k25" x="135" y="105.1"/><use href="#k26" x="130.7" y="104.5"/><use href="#k30" x="126.5" y="104.1"/><use href="#k30" x="122.2" y="103.9"/><use href="#k34" x="118" y="104.5"/></g><g fill="#fff" stroke="#ff0000"><use href="#k25" x="470" y="130.9"/><use href="#k28" x="466.2" y="129.7"/><use href="#k31" x="462.3" y="128.2"/><use href="#k31" x="458.5" y="126.5"/><use href="#k35" x="454.7" y="124.9"/><use href="#k35" x="450.9" y="123.4"/><use href="#k38" x="447.1" y="121.9"/><use href="#k36" x="443.2" y="120.4"/><use href="#k39" x="439.4" y="119.1"/><use href="#k38" x="435.6" y="118.3"/><use href="#k41" x="431.8" y="118.2"/><use href="#k39" x="428" y="118.2"/><use href="#k42" x="424.1" y="118.2"/><use href="#k41" x="420.3" y="118.2"/><use href="#k44" x="416.5" y="118.2"/><use href="#k41" x="413.3" y="118.2"/><use href="#k43" x="410.1" y="118.1"/><use href="#k40" x="406.8" y="117.9"/><use href="#k41" x="403.6" y="117.8"/><use href="#k39" x="400.4" y="117.5"/><use href="#k40" x="397.2" y="117.2"/><use href="#k38" x="394" y="116.3"/><use href="#k39" x="390.8" y="114.9"/><use href="#k36" x="387.5" y="113.6"/><use href="#k38" x="384.3" y="112.4"/><use href="#k35" x="381.1" y="111"/><use href="#k36" x="377.9" y="109.3"/><use href="#k33" x="374.7" y="106.8"/><use href="#k33" x="371.5" y="103.4"/><use href="#k30" x="368.2" y="99.8"/><use href="#k30" x="365" y="96.2"/><use href="#k27" x="361.8" y="92.3"/><use href="#k27" x="358.6" y="88.5"/><use href="#k24" x="355.4" y="85.1"/><use href="#k25" x="352.1" y="82"/><use href="#k24" x="348.9" y="79.2"/><use href="#k25" x="345.7" y="76.5"/><use href="#k24" x="342.5" y="73.9"/><use href="#k25" x="339.3" y="71.4"/><use href="#k24" x="336.1" y="69"/><use href="#k25" x="332.8" y="66.7"/><use href="#k24" x="329.6" y="64.6"/><use href="#k25" x="326.4" y="62.6"/><use href="#k24" x="323.2" y="60.6"/><use href="#k25" x="320" y="58.8"/><use href="#k24" x="316.8" y="57.4"/><use href="#k25" x="313.5" y="56.3"/><use href="#k24" x="310.3" y="55.5"/><use href="#k25" x="307.1" y="54.7"/><use href="#k24" x="303.9" y="53.5"/><use href="#k25" x="300.7" y="51.4"/><use href="#k24" x="297.5" y="47.8"/></g><g fill="#fff" stroke="#0000ff"><use href="#k37" x="665.8" y="45.1"/><use href="#k13" x="662.1" y="50.2"/><use href="#k38" x="658.4" y="55.3"/><use href="#k13" x="654.7" y="60.5"/><use href="#k39" x="651" y="65.8"/><use href="#k14" x="647.3" y="71.4"/><use href="#k40" x="643.5" y="76.9"/><use href="#k14" x="639.8" y="80.3"/><use href="#k41" x="636.1" y="82.5"/><use href="#k14" x="632.4" y="84.4"/><use href="#k42" x="628.7" y="86.8"/><use href="#k15" x="625" y="89.7"/><use href="#k43" x="621.3" y="92.7"/><use href="#k15" x="617.6" y="95.3"/><use href="#k44" x="613.8" y="97.6"/><use href="#k16" x="610.1" y="99.6"/><use href="#k46" x="606.4" y="100.9"/><use href="#k16" x="602.7" y="101.9"/><use href="#k46" x="599" y="102.7"/><use href="#k16" x="595.3" y="103"/><use href="#k46" x="591.6" y="102.7"/><use href="#k16" x="587.9" y="102.2"/><use href="#k46" x="584.1" y="102"/><use href="#k16" x="580.4" y="102"/><use href="#k46" x="576.7" y="102"/><use href="#k16" x="573" y="102.1"/><use href="#k46" x="569.3" y="102.1"/><use href="#k16" x="565.5" y="102.5"/><use href="#k45" x="561.7" y="103.2"/><use href="#k15" x="557.8" y="104.1"/><use href="#k44" x="554" y="105"/><use href="#k15" x="550.2" y="106.1"/><use href="#k42" x="546.4" y="107.4"/><use href="#k15" x="542.6" y="108.7"/><use href="#k41" x="538.7" y="110"/><use href="#k14" x="534.9" y="111.5"/><use href="#k39" x="531.1" y="113"/><use href="#k13" x="527.3" y="114.6"/><use href="#k37" x="523.5" y="116.2"/><use href="#k13" x="519.6" y="117.7"/><use href="#k35" x="515.8" y="119.3"/><use href="#k12" x="512" y="120.8"/><use href="#k33" x="508.2" y="122.3"/><use href="#k11" x="504.4" y="123.8"/><use href="#k31" x="500.5" y="125.3"/><use href="#k10" x="496.7" y="126.8"/><use href="#k28" x="492.9" y="128.2"/><use href="#k9" x="489.1" y="129.7"/><use href="#k25" x="485.3" y="131.4"/><use href="#k8" x="481.4" y="132.7"/><use href="#k21" x="477.6" y="132.6"/><use href="#k17" x="473.8" y="131.9"/><use href="#k15" x="470" y="130.9"/><use href="#k12" x="466.2" y="129.7"/><use href="#k12" x="462.3" y="128.2"/><use href="#k11" x="458.5" y="126.5"/><use href="#k10" x="454.7" y="124.9"/><use href="#k9" x="450.9" y="123.4"/><use href="#k9" x="447.1" y="121.9"/><use href="#k9" x="443.2" y="120.4"/><use href="#k9" x="439.4" y="119.1"/><use href="#k9" x="435.6" y="118.3"/><use href="#k9" x="431.8" y="118.2"/><use href="#k9" x="428" y="118.2"/><use href="#k9" x="424.1" y="118.2"/><use href="#k9" x="420.3" y="118.2"/><use href="#k9" x="416.5" y="118.2"/><use href="#k9" x="413.3" y="118.2"/><use href="#k10" x="410.1" y="118.1"/><use href="#k9" x="406.8" y="117.9"/><use href="#k10" x="403.6" y="117.8"/><use href="#k10" x="400.4" y="117.5"/><use href="#k10" x="397.2" y="117.2"/><use href="#k10" x="394" y="116.3"/><use href="#k11" x="390.8" y="114.9"/><use href="#k10" x="387.5" y="113.6"/><use href="#k11" x="384.3" y="112.4"/><use href="#k11" x="381.1" y="111"/><use href="#k12" x="377.9" y="109.3"/><use href="#k13" x="374.7" y="106.8"/><use href="#k15" x="371.5" y="103.4"/><use href="#k15" x="368.2" y="99.8"/><use href="#k17" x="365" y="96.2"/><use href="#k18" x="361.8" y="92.3"/><use href="#k20" x="358.6" y="88.5"/><use href="#k20" x="355.4" y="85.1"/><use href="#k21" x="352.1" y="82"/><use href="#k20" x="348.9" y="79.2"/><use href="#k21" x="345.7" y="76.5"/><use href="#k20" x="342.5" y="73.9"/><use href="#k21" x="339.3" y="71.4"/><use href="#k20" x="336.1" y="69"/><use href="#k21" x="332.8" y="66.7"/><use href="#k20" x="329.6" y="64.6"/><use href="#k21" x="326.4" y="62.6"/><use href="#k20" x="323.2" y="60.6"/><use href="#k21" x="320" y="58.8"/><use href="#k20" x="316.8" y="57.4"/><use href="#k21" x="313.5" y="56.3"/><use href="#k20" x="310.3" y="55.5"/><use href="#k21" x="307.1" y="54.7"/><use href="#k20" x="303.9" y="53.5"/><use href="#k21" x="300.7" y="51.4"/><use href="#k20" x="297.5" y="47.8"/></g><g fill="#fff" stroke="#ff0000"><use href="#k37" x="921.8" y="103.5"/><use href="#k35" x="916.7" y="102"/><use href="#k37" x="911.6" y="100.3"/><use href="#k35" x="906.5" y="98.5"/><use href="#k37" x="901.4" y="96.6"/><use href="#k35" x="896.3" y="94.7"/><use href="#k37" x="891.2" y="92.6"/><use href="#k35" x="886.1" y="90.6"/><use href="#k37" x="881" y="88.5"/><use href="#k35" x="875.9" y="86.5"/><use href="#k37" x="870.8" y="84.4"/><use href="#k35" x="865.7" y="82.3"/><use href="#k37" x="860.6" y="80.2"/><use href="#k35" x="855.5" y="78.1"/><use href="#k37" x="850.4" y="76"/><use href="#k35" x="845.3" y="73.9"/><use href="#k37" x="840.2" y="71.9"/><use href="#k35" x="835.1" y="69.8"/><use href="#k37" x="830" y="67.6"/><use href="#k35" x="824.9" y="65.5"/><use href="#k37" x="819.8" y="63.5"/><use href="#k35" x="814.7" y="61.5"/><use href="#k37" x="809.6" y="59.6"/><use href="#k35" x="804.5" y="57.8"/><use href="#k37" x="799.4" y="56"/><use href="#k35" x="794.3" y="54.3"/><use href="#k37" x="789.2" y="52.6"/><use href="#k35" x="784.1" y="51"/><use href="#k37" x="779" y="49.5"/><use href="#k35" x="773.9" y="48.1"/></g><g fill="#fff" stroke="#0000ff"><use href="#k12" x="921.8" y="103.5"/><use href="#k11" x="916.7" y="102"/><use href="#k12" x="911.6" y="100.3"/><use href="#k11" x="906.5" y="98.5"/><use href="#k12" x="901.4" y="96.6"/><use href="#k11" x="896.3" y="94.7"/><use href="#k12" x="891.2" y="92.6"/><use href="#k11" x="886.1" y="90.6"/><use href="#k12" x="881" y="88.5"/><use href="#k11" x="875.9" y="86.5"/><use href="#k12" x="870.8" y="84.4"/><use href="#k11" x="865.7" y="82.3"/><use href="#k12" x="860.6" y="80.2"/><use href="#k11" x="855.5" y="78.1"/><use href="#k12" x="850.4" y="76"/><use href="#k11" x="845.3" y="73.9"/><use href="#k12" x="840.2" y="71.9"/><use href="#k11" x="835.1" y="69.8"/><use href="#k12" x="830" y="67.6"/><use href="#k11" x="824.9" y="65.5"/><use href="#k12" x="819.8" y="63.5"/><use href="#k11" x="814.7" y="61.5"/><use href="#k12" x="809.6" y="59.6"/><use href="#k11" x="804.5" y="57.8"/><use href="#k12" x="799.4" y="56"/><use href="#k11" x="794.3" y="54.3"/><use href="#k12" x="789.2" y="52.6"/><use href="#k11" x="784.1" y="51"/><use href="#k12" x="779" y="49.5"/><use href="#k11" x="773.9" y="48.1"/></g><g fill="#fff" stroke="#ff0000"><use href="#k11" x="763.7" y="50.7"/><use href="#k12" x="758.6" y="55.9"/><use href="#k11" x="753.5" y="61"/><use href="#k12" x="748.4" y="66.1"/><use href="#k11" x="743.3" y="71.4"/><use href="#k12" x="738.2" y="76.6"/><use href="#k11" x="733.1" y="80"/><use href="#k12" x="728" y="82.1"/><use href="#k11" x="722.9" y="83"/><use href="#k12" x="717.8" y="83.4"/><use href="#k11" x="714.1" y="82.7"/><use href="#k12" x="710.4" y="80.8"/><use href="#k11" x="706.7" y="77"/><use href="#k12" x="702.9" y="69.9"/><use href="#k11" x="699.2" y="64.5"/><use href="#k12" x="695.5" y="59.7"/><use href="#k11" x="691.8" y="54.9"/><use href="#k12" x="688.1" y="50.1"/></g><g fill="#fff" stroke="#0000ff"><use href="#db4" x="763.7" y="50.7"/><use href="#db5" x="758.6" y="55.9"/><use href="#db4" x="753.5" y="61"/><use href="#db5" x="748.4" y="66.1"/><use href="#db4" x="743.3" y="71.4"/><use href="#db5" x="738.2" y="76.6"/><use href="#db4" x="733.1" y="80"/><use href="#db5" x="728" y="82.1"/><use href="#db4" x="722.9" y="83"/><use href="#db5" x="717.8" y="83.4"/><use href="#db4" x="714.1" y="82.7"/><use href="#db5" x="710.4" y="80.8"/><use href="#db4" x="706.7" y="77"/><use href="#db5" x="702.9" y="69.9"/><use href="#db4" x="699.2" y="64.5"/><use href="#db5" x="695.5" y="59.7"/><use href="#db4" x="691.8" y="54.9"/><use href="#db5" x="688.1" y="50.1"/></g><g fill="#fff" stroke="#0000ff"><use href="#k23" x="921.8" y="145"/><use href="#k8" x="916.7" y="146.5"/><use href="#k24" x="911.6" y="147.2"/><use href="#k9" x="906.5" y="147.4"/><use href="#k26" x="901.4" y="147.1"/><use href="#k9" x="896.3" y="145.5"/><use href="#k27" x="891.2" y="143.1"/><use href="#k10" x="886.1" y="140.5"/><use href="#k28" x="881" y="137.7"/><use href="#k10" x="875.9" y="134.4"/><use href="#k29" x="870.8" y="130.7"/><use href="#k10" x="865.7" y="126.6"/><use href="#k30" x="860.6" y="122.4"/><use href="#k10" x="855.5" y="117.6"/><use href="#k30" x="850.4" y="112.4"/><use href="#k10" x="845.3" y="107.1"/><use href="#k30" x="840.2" y="101.8"/><use href="#k10" x="835.1" y="96.5"/><use href="#k28" x="830" y="90.9"/><use href="#k9" x="824.9" y="85.4"/><use href="#k26" x="819.8" y="80.5"/><use href="#k9" x="814.7" y="76.7"/><use href="#k22" x="809.6" y="73.2"/><use href="#k19" x="804.5" y="69.9"/><use href="#k18" x="799.4" y="67.4"/><use href="#k15" x="794.3" y="66.1"/><use href="#k16" x="789.2" y="66.3"/><use href="#k15" x="784.1" y="67.5"/><use href="#k16" x="779" y="69"/><use href="#k16" x="773.9" y="71.6"/><use href="#k18" x="768.8" y="75"/><use href="#k18" x="763.7" y="78.6"/><use href="#k20" x="758.6" y="81.8"/><use href="#k21" x="753.5" y="84.6"/><use href="#k24" x="748.4" y="87.5"/><use href="#k25" x="743.3" y="90.1"/><use href="#k28" x="738.2" y="92.5"/><use href="#k27" x="733.1" y="94.4"/><use href="#k29" x="728" y="96"/><use href="#k28" x="722.9" y="97.4"/><use href="#k30" x="717.8" y="98.5"/></g><g fill="#fff" stroke="#00ff00"><use href="#k19" x="906.5" y="183.1"/><use href="#k24" x="901.4" y="184.4"/><use href="#k26" x="896.3" y="184.7"/><use href="#k28" x="891.2" y="183.8"/><use href="#k26" x="886.1" y="182.4"/><use href="#k28" x="881" y="180.8"/><use href="#k26" x="875.9" y="178.9"/><use href="#k28" x="870.8" y="176.7"/><use href="#k26" x="865.7" y="174.4"/><use href="#k28" x="860.6" y="172.1"/><use href="#k26" x="855.5" y="169.8"/><use href="#k27" x="850.4" y="167.3"/><use href="#k25" x="845.3" y="164.7"/><use href="#k27" x="840.2" y="161.9"/><use href="#k25" x="835.1" y="158.8"/><use href="#k26" x="830" y="155.2"/><use href="#k25" x="824.9" y="151.4"/><use href="#k26" x="819.8" y="147.7"/><use href="#k24" x="814.7" y="144.3"/><use href="#k17" x="809.6" y="141.1"/></g><g fill="#fff" stroke="#0000ff"><use href="#k18" x="921.8" y="173"/><use href="#k17" x="916.7" y="177.8"/><use href="#k17" x="911.6" y="181.3"/><use href="#k15" x="906.5" y="183.1"/><use href="#k15" x="901.4" y="184.4"/><use href="#k13" x="896.3" y="184.7"/><use href="#k14" x="891.2" y="183.8"/><use href="#k13" x="886.1" y="182.4"/><use href="#k14" x="881" y="180.8"/><use href="#k13" x="875.9" y="178.9"/><use href="#k14" x="870.8" y="176.7"/><use href="#k13" x="865.7" y="174.4"/><use href="#k14" x="860.6" y="172.1"/><use href="#k13" x="855.5" y="169.8"/><use href="#k14" x="850.4" y="167.3"/><use href="#k13" x="845.3" y="164.7"/><use href="#k14" x="840.2" y="161.9"/><use href="#k13" x="835.1" y="158.8"/><use href="#k14" x="830" y="155.2"/><use href="#k13" x="824.9" y="151.4"/><use href="#k14" x="819.8" y="147.7"/><use href="#k13" x="814.7" y="144.3"/><use href="#k14" x="809.6" y="141.1"/><use href="#k13" x="804.5" y="138"/><use href="#k16" x="799.4" y="135"/><use href="#k17" x="794.3" y="132"/><use href="#k19" x="789.2" y="128.9"/><use href="#k19" x="784.1" y="125.7"/><use href="#k21" x="779" y="122.5"/><use href="#k21" x="773.9" y="119.5"/><use href="#k23" x="768.8" y="116.9"/><use href="#k23" x="763.7" y="114.4"/><use href="#k25" x="758.6" y="112"/><use href="#k25" x="753.5" y="109.9"/><use href="#k27" x="748.4" y="108.3"/><use href="#k27" x="743.3" y="107.4"/><use href="#k29" x="738.2" y="106.9"/><use href="#k28" x="733.1" y="106.4"/><use href="#k31" x="728" y="105.6"/><use href="#k30" x="722.9" y="103"/><use href="#k32" x="717.8" y="98.5"/></g><g fill="#fff" stroke="#ff0000"><use href="#k8" x="232.6" y="320.3"/><use href="#k32" x="228.4" y="318.4"/><use href="#k11" x="224.1" y="316.6"/><use href="#k33" x="219.9" y="314.4"/><use href="#k12" x="215.6" y="311.2"/><use href="#k34" x="211.4" y="307"/><use href="#k12" x="207.1" y="303.2"/><use href="#k34" x="202.9" y="299.5"/><use href="#k12" x="198.7" y="295.3"/><use href="#k34" x="194.4" y="290.6"/><use href="#k12" x="190.2" y="285.7"/><use href="#k34" x="185.9" y="280.6"/><use href="#k12" x="181.7" y="275.1"/><use href="#k33" x="177.4" y="269"/><use href="#k11" x="173.2" y="263.1"/><use href="#k33" x="168.9" y="258.1"/><use href="#k11" x="164.7" y="252.3"/><use href="#k31" x="160.4" y="242.1"/><use href="#k27" x="156.2" y="231.2"/><use href="#k25" x="152" y="223.6"/><use href="#k22" x="147.7" y="214.9"/><use href="#k21" x="143.5" y="205.5"/><use href="#k18" x="139.2" y="197.1"/><use href="#k15" x="135" y="187.9"/><use href="#k11" x="130.7" y="179.5"/><use href="#k9" x="126.5" y="173.9"/><use href="#dr7" x="122.2" y="170.1"/><use href="#dr5" x="118" y="168.2"/></g><g fill="#fff" stroke="#0000ff"><use href="#k14" x="714.1" y="510.2"/><use href="#k16" x="710.4" y="499.1"/><use href="#k16" x="706.7" y="489.6"/><use href="#k18" x="702.9" y="478.3"/><use href="#k18" x="699.2" y="465.1"/><use href="#k21" x="695.5" y="452.7"/><use href="#k21" x="691.8" y="440.9"/><use href="#k23" x="688.1" y="429.5"/><use href="#k23" x="684.4" y="416.7"/><use href="#k25" x="680.7" y="405.6"/><use href="#k25" x="677" y="398.2"/><use href="#k28" x="673.2" y="389.6"/><use href="#k27" x="669.5" y="379.5"/><use href="#k30" x="665.8" y="369.7"/><use href="#k30" x="662.1" y="359.3"/><use href="#k33" x="658.4" y="350.3"/><use href="#k12" x="654.7" y="344.2"/><use href="#k34" x="651" y="338.8"/><use href="#k12" x="647.3" y="333.2"/><use href="#k36" x="643.5" y="328.5"/><use href="#k13" x="639.8" y="325.3"/><use href="#k38" x="636.1" y="322.8"/><use href="#k14" x="632.4" y="320.9"/><use href="#k41" x="628.7" y="319.6"/><use href="#k15" x="625" y="318.5"/><use href="#k43" x="621.3" y="317.6"/><use href="#k15" x="617.6" y="316.9"/><use href="#k45" x="613.8" y="316.5"/><use href="#k16" x="610.1" y="316.3"/><use href="#k46" x="606.4" y="316.2"/><use href="#k16" x="602.7" y="316.2"/><use href="#k46" x="599" y="316.1"/><use href="#k16" x="595.3" y="316.1"/><use href="#k46" x="591.6" y="316.1"/><use href="#k16" x="587.9" y="316.1"/><use href="#k46" x="584.1" y="316.2"/><use href="#k16" x="580.4" y="316.2"/><use href="#k46" x="576.7" y="316.3"/><use href="#k16" x="573" y="316.3"/><use href="#k46" x="569.3" y="316.4"/><use href="#k16" x="565.5" y="316.6"/><use href="#k45" x="561.7" y="317"/><use href="#k15" x="557.8" y="317.4"/><use href="#k44" x="554" y="317.9"/><use href="#k15" x="550.2" y="318.4"/><use href="#k42" x="546.4" y="319"/><use href="#k15" x="542.6" y="319.7"/><use href="#k41" x="538.7" y="320.4"/><use href="#k14" x="534.9" y="321.1"/><use href="#k41" x="531.1" y="321.9"/><use href="#k14" x="527.3" y="322.7"/><use href="#k40" x="523.5" y="323.5"/><use href="#k14" x="519.6" y="324.3"/><use href="#k40" x="515.8" y="325.3"/><use href="#k14" x="512" y="326.2"/><use href="#k39" x="508.2" y="326.9"/><use href="#k14" x="504.4" y="327.1"/><use href="#k38" x="500.5" y="326.9"/><use href="#k13" x="496.7" y="326.5"/><use href="#k37" x="492.9" y="325.8"/><use href="#k13" x="489.1" y="325"/><use href="#k35" x="485.3" y="323.3"/><use href="#k12" x="481.4" y="321"/><use href="#k34" x="477.6" y="318.1"/><use href="#k32" x="473.8" y="314.3"/><use href="#k34" x="470" y="310"/><use href="#k32" x="466.2" y="305.7"/><use href="#k33" x="462.3" y="301"/><use href="#k31" x="458.5" y="296.3"/><use href="#k32" x="454.7" y="291.7"/><use href="#k30" x="450.9" y="287.3"/><use href="#k31" x="447.1" y="282.8"/><use href="#k30" x="443.2" y="279.3"/><use href="#k31" x="439.4" y="277.6"/><use href="#k29" x="435.6" y="276.3"/><use href="#k30" x="431.8" y="275.5"/><use href="#k28" x="428" y="275.6"/><use href="#k29" x="424.1" y="276.7"/><use href="#k27" x="420.3" y="278.6"/><use href="#k28" x="416.5" y="280.8"/><use href="#k26" x="413.3" y="283.2"/><use href="#k28" x="410.1" y="286.3"/><use href="#k26" x="406.8" y="289.9"/><use href="#k28" x="403.6" y="294.1"/><use href="#k26" x="400.4" y="298.6"/><use href="#k28" x="397.2" y="303.1"/><use href="#k10" x="394" y="307.7"/><use href="#k28" x="390.8" y="312.2"/><use href="#k10" x="387.5" y="316.3"/><use href="#k28" x="384.3" y="320.1"/><use href="#k10" x="381.1" y="322.9"/><use href="#k28" x="377.9" y="324.8"/><use href="#k10" x="374.7" y="326.3"/><use href="#k28" x="371.5" y="327"/><use href="#k10" x="368.2" y="326.5"/><use href="#k28" x="365" y="324.9"/><use href="#k10" x="361.8" y="322.9"/><use href="#k28" x="358.6" y="321"/><use href="#k10" x="355.4" y="318.9"/><use href="#k28" x="352.1" y="316.6"/><use href="#k10" x="348.9" y="314.2"/><use href="#k29" x="345.7" y="311.8"/><use href="#k10" x="342.5" y="309.6"/><use href="#k29" x="339.3" y="307.5"/><use href="#k10" x="336.1" y="305.4"/><use href="#k29" x="332.8" y="303.4"/><use href="#k10" x="329.6" y="301.5"/><use href="#k30" x="326.4" y="299.7"/><use href="#k10" x="323.2" y="298.1"/><use href="#k30" x="320" y="296.5"/><use href="#k11" x="316.8" y="295.1"/><use href="#k31" x="313.5" y="293.8"/><use href="#k11" x="310.3" y="292.7"/><use href="#k31" x="307.1" y="291.8"/><use href="#k11" x="303.9" y="291"/><use href="#k31" x="300.7" y="290.3"/><use href="#k11" x="297.5" y="289.6"/><use href="#k32" x="294.2" y="288.9"/><use href="#k11" x="291" y="288.2"/><use href="#k32" x="287.8" y="287.9"/><use href="#k11" x="283.6" y="289.1"/><use href="#k31" x="279.3" y="291.6"/><use href="#k11" x="275.1" y="295.4"/><use href="#k31" x="270.8" y="300.3"/><use href="#k11" x="266.6" y="305.4"/><use href="#k30" x="262.3" y="310.5"/><use href="#k10" x="258.1" y="314.6"/><use href="#k29" x="253.8" y="317.8"/><use href="#k10" x="249.6" y="319.5"/><use href="#k28" x="245.3" y="320.8"/><use href="#k10" x="241.1" y="321.7"/><use href="#k22" x="236.9" y="321.6"/><use href="#db5" x="232.6" y="320.3"/><use href="#k9" x="228.4" y="318.4"/><use href="#db3" x="224.1" y="316.6"/><use href="#k9" x="219.9" y="314.4"/><use href="#db3" x="215.6" y="311.2"/><use href="#k9" x="211.4" y="307"/><use href="#db3" x="207.1" y="303.2"/><use href="#k9" x="202.9" y="299.5"/><use href="#db3" x="198.7" y="295.3"/><use href="#k9" x="194.4" y="290.6"/><use href="#db3" x="190.2" y="285.7"/><use href="#k8" x="185.9" y="280.6"/><use href="#db3" x="181.7" y="275.1"/><use href="#k8" x="177.4" y="269"/><use href="#db7" x="168.9" y="258.1"/><use href="#db7" x="160.4" y="242.1"/><use href="#db7" x="156.2" y="231.2"/><use href="#db7" x="152" y="223.6"/><use href="#db6" x="147.7" y="214.9"/><use href="#db6" x="143.5" y="205.5"/><use href="#db5" x="139.2" y="197.1"/><use href="#db5" x="135" y="187.9"/><use href="#db4" x="130.7" y="179.5"/><use href="#db4" x="126.5" y="173.9"/><use href="#db4" x="122.2" y="170.1"/><use href="#db4" x="118" y="168.2"/></g><g fill="#fff" stroke="#ff0000"><use href="#k14" x="714.1" y="532.2"/><use href="#k16" x="710.4" y="541.2"/><use href="#k17" x="706.7" y="548.4"/><use href="#k19" x="702.9" y="556.6"/><use href="#k19" x="699.2" y="565.1"/><use href="#k22" x="695.5" y="572.2"/><use href="#k22" x="691.8" y="578.3"/><use href="#k24" x="688.1" y="583.5"/><use href="#k25" x="684.4" y="588"/><use href="#k28" x="680.7" y="591.4"/><use href="#k28" x="677" y="594.1"/><use href="#k31" x="673.2" y="596.5"/><use href="#k31" x="669.5" y="598.1"/><use href="#k35" x="665.8" y="598.6"/><use href="#k33" x="662.1" y="597.1"/><use href="#k35" x="658.4" y="594.3"/><use href="#k12" x="654.7" y="591.1"/><use href="#k36" x="651" y="587.3"/><use href="#k13" x="647.3" y="582.7"/><use href="#k37" x="643.5" y="577.9"/><use href="#k13" x="639.8" y="572.9"/><use href="#k39" x="636.1" y="567.5"/><use href="#k14" x="632.4" y="561.8"/><use href="#k41" x="628.7" y="555.9"/><use href="#k15" x="625" y="549.7"/><use href="#k43" x="621.3" y="543.3"/><use href="#k15" x="617.6" y="536.2"/><use href="#k45" x="613.8" y="527.9"/><use href="#k16" x="610.1" y="519.4"/><use href="#k46" x="606.4" y="511.9"/><use href="#k16" x="602.7" y="504.7"/><use href="#k47" x="599" y="497.1"/><use href="#k17" x="595.3" y="489.3"/><use href="#k48" x="591.6" y="482.2"/><use href="#k17" x="587.9" y="476.1"/><use href="#k48" x="584.1" y="470.4"/><use href="#k17" x="580.4" y="466.7"/><use href="#k48" x="576.7" y="464.8"/><use href="#k17" x="573" y="463.4"/><use href="#k48" x="569.3" y="462.9"/><use href="#k16" x="565.5" y="463"/><use href="#k46" x="561.7" y="463.2"/><use href="#k16" x="557.8" y="463.6"/><use href="#k43" x="554" y="464.1"/><use href="#k15" x="550.2" y="464.5"/><use href="#k41" x="546.4" y="465"/><use href="#k14" x="542.6" y="465.7"/><use href="#k39" x="538.7" y="466.4"/><use href="#k13" x="534.9" y="467.3"/><use href="#k37" x="531.1" y="468.4"/><use href="#k12" x="527.3" y="469.9"/><use href="#k34" x="523.5" y="471.8"/><use href="#k12" x="519.6" y="474"/><use href="#k32" x="515.8" y="476.2"/><use href="#k11" x="512" y="478.6"/><use href="#k31" x="508.2" y="481.2"/><use href="#k28" x="504.4" y="484"/><use href="#k29" x="500.5" y="486.7"/><use href="#k26" x="496.7" y="489.6"/><use href="#k27" x="492.9" y="492.6"/><use href="#k25" x="489.1" y="495.5"/><use href="#k25" x="485.3" y="498"/><use href="#k23" x="481.4" y="500.5"/><use href="#k24" x="477.6" y="502.8"/><use href="#k22" x="473.8" y="504.5"/><use href="#k22" x="470" y="505.7"/><use href="#k21" x="466.2" y="506.8"/><use href="#k21" x="462.3" y="507.4"/><use href="#k20" x="458.5" y="507.4"/><use href="#k20" x="454.7" y="507.1"/><use href="#k19" x="450.9" y="506.4"/><use href="#k19" x="447.1" y="505.5"/><use href="#k18" x="443.2" y="503.4"/><use href="#k19" x="439.4" y="500.5"/><use href="#k17" x="435.6" y="497.4"/><use href="#k18" x="431.8" y="493.8"/><use href="#k17" x="428" y="489.7"/><use href="#k18" x="424.1" y="485.1"/><use href="#k17" x="420.3" y="479.7"/><use href="#k18" x="416.5" y="474.4"/><use href="#k17" x="413.3" y="470.7"/><use href="#k18" x="410.1" y="466.9"/><use href="#k21" x="406.8" y="460.6"/><use href="#k31" x="403.6" y="450.9"/><use href="#k38" x="400.4" y="443"/><use href="#k42" x="397.2" y="437.1"/><use href="#k15" x="394" y="432"/><use href="#k42" x="390.8" y="427.2"/><use href="#k15" x="387.5" y="422.4"/><use href="#k42" x="384.3" y="417.9"/><use href="#k15" x="381.1" y="413.6"/><use href="#k42" x="377.9" y="409.3"/><use href="#k15" x="374.7" y="405"/><use href="#k43" x="371.5" y="400.7"/><use href="#k15" x="368.2" y="396.4"/><use href="#k43" x="365" y="392.3"/><use href="#k15" x="361.8" y="388.3"/><use href="#k43" x="358.6" y="384.4"/><use href="#k15" x="355.4" y="380.7"/><use href="#k43" x="352.1" y="377.2"/><use href="#k15" x="348.9" y="373.9"/><use href="#k44" x="345.7" y="370.9"/><use href="#k15" x="342.5" y="367.9"/><use href="#k44" x="339.3" y="365.2"/><use href="#k16" x="336.1" y="362.5"/><use href="#k45" x="332.8" y="359.7"/><use href="#k16" x="329.6" y="357.1"/><use href="#k46" x="326.4" y="355"/><use href="#k16" x="323.2" y="353.4"/><use href="#k47" x="320" y="352.2"/><use href="#k16" x="316.8" y="351.1"/><use href="#k47" x="313.5" y="350.2"/><use href="#k17" x="310.3" y="349.4"/><use href="#k48" x="307.1" y="348.7"/><use href="#k17" x="303.9" y="348.1"/><use href="#k48" x="300.7" y="347.6"/><use href="#k17" x="297.5" y="347"/><use href="#k48" x="294.2" y="346.6"/><use href="#k17" x="291" y="346.2"/><use href="#k48" x="287.8" y="345.9"/><use href="#k17" x="283.6" y="345.6"/><use href="#k48" x="279.3" y="345.3"/><use href="#k17" x="275.1" y="345.1"/><use href="#k48" x="270.8" y="345"/><use href="#k17" x="266.6" y="345.1"/><use href="#k48" x="262.3" y="345.4"/><use href="#k17" x="258.1" y="345.9"/><use href="#k45" x="253.8" y="347.1"/><use href="#k15" x="249.6" y="349.1"/><use href="#k39" x="245.3" y="351.5"/><use href="#k11" x="241.1" y="354.3"/></g><g fill="#fff" stroke="#0000ff"><use href="#k9" x="714.1" y="532.2"/><use href="#k9" x="710.4" y="541.2"/><use href="#k9" x="706.7" y="548.4"/><use href="#k9" x="702.9" y="556.6"/><use href="#k9" x="699.2" y="565.1"/><use href="#k9" x="695.5" y="572.2"/><use href="#k9" x="691.8" y="578.3"/><use href="#k9" x="688.1" y="583.5"/><use href="#k9" x="684.4" y="588"/><use href="#k9" x="680.7" y="591.4"/><use href="#k9" x="677" y="594.1"/><use href="#k9" x="673.2" y="596.5"/><use href="#k9" x="669.5" y="598.1"/><use href="#k9" x="665.8" y="598.6"/><use href="#k8" x="662.1" y="597.1"/><use href="#k8" x="658.4" y="594.3"/><use href="#db3" x="654.7" y="591.1"/><use href="#k8" x="651" y="587.3"/><use href="#db7" x="643.5" y="577.9"/><use href="#db6" x="636.1" y="567.5"/><use href="#db5" x="628.7" y="555.9"/><use href="#db5" x="621.3" y="543.3"/><use href="#db5" x="613.8" y="527.9"/><use href="#db5" x="606.4" y="511.9"/><use href="#db5" x="599" y="497.1"/><use href="#db5" x="591.6" y="482.2"/><use href="#db5" x="584.1" y="470.4"/><use href="#db5" x="576.7" y="464.8"/><use href="#db5" x="569.3" y="462.9"/><use href="#db5" x="561.7" y="463.2"/><use href="#db6" x="554" y="464.1"/><use href="#db7" x="546.4" y="465"/><use href="#db8" x="538.7" y="466.4"/><use href="#k8" x="531.1" y="468.4"/><use href="#db3" x="527.3" y="469.9"/><use href="#k9" x="523.5" y="471.8"/><use href="#db3" x="519.6" y="474"/><use href="#k9" x="515.8" y="476.2"/><use href="#db3" x="512" y="478.6"/><use href="#k10" x="508.2" y="481.2"/><use href="#k10" x="504.4" y="484"/><use href="#k10" x="500.5" y="486.7"/><use href="#k10" x="496.7" y="489.6"/><use href="#k11" x="492.9" y="492.6"/><use href="#k11" x="489.1" y="495.5"/><use href="#k12" x="485.3" y="498"/><use href="#k11" x="481.4" y="500.5"/><use href="#k12" x="477.6" y="502.8"/><use href="#k12" x="473.8" y="504.5"/><use href="#k13" x="470" y="505.7"/><use href="#k13" x="466.2" y="506.8"/><use href="#k14" x="462.3" y="507.4"/><use href="#k13" x="458.5" y="507.4"/><use href="#k14" x="454.7" y="507.1"/><use href="#k14" x="450.9" y="506.4"/><use href="#k15" x="447.1" y="505.5"/><use href="#k15" x="443.2" y="503.4"/><use href="#k16" x="439.4" y="500.5"/><use href="#k15" x="435.6" y="497.4"/><use href="#k16" x="431.8" y="493.8"/><use href="#k15" x="428" y="489.7"/><use href="#k16" x="424.1" y="485.1"/><use href="#k15" x="420.3" y="479.7"/><use href="#k16" x="416.5" y="474.4"/><use href="#k15" x="413.3" y="470.7"/><use href="#k16" x="410.1" y="466.9"/><use href="#k14" x="406.8" y="460.6"/><use href="#k12" x="403.6" y="450.9"/><use href="#k9" x="400.4" y="443"/><use href="#k9" x="397.2" y="437.1"/><use href="#db3" x="394" y="432"/><use href="#k9" x="390.8" y="427.2"/><use href="#db3" x="387.5" y="422.4"/><use href="#k9" x="384.3" y="417.9"/><use href="#db3" x="381.1" y="413.6"/><use href="#k9" x="377.9" y="409.3"/><use href="#db3" x="374.7" y="405"/><use href="#k9" x="371.5" y="400.7"/><use href="#db3" x="368.2" y="396.4"/><use href="#k9" x="365" y="392.3"/><use href="#db3" x="361.8" y="388.3"/><use href="#k9" x="358.6" y="384.4"/><use href="#db3" x="355.4" y="380.7"/><use href="#k9" x="352.1" y="377.2"/><use href="#db3" x="348.9" y="373.9"/><use href="#k9" x="345.7" y="370.9"/><use href="#db3" x="342.5" y="367.9"/><use href="#k9" x="339.3" y="365.2"/><use href="#db3" x="336.1" y="362.5"/><use href="#k9" x="332.8" y="359.7"/><use href="#db3" x="329.6" y="357.1"/><use href="#k9" x="326.4" y="355"/><use href="#db3" x="323.2" y="353.4"/><use href="#k9" x="320" y="352.2"/><use href="#db3" x="316.8" y="351.1"/><use href="#k9" x="313.5" y="350.2"/><use href="#db3" x="310.3" y="349.4"/><use href="#k9" x="307.1" y="348.7"/><use href="#db3" x="303.9" y="348.1"/><use href="#k9" x="300.7" y="347.6"/><use href="#db3" x="297.5" y="347"/><use href="#k9" x="294.2" y="346.6"/><use href="#db3" x="291" y="346.2"/><use href="#k9" x="287.8" y="345.9"/><use href="#db3" x="283.6" y="345.6"/><use href="#k9" x="279.3" y="345.3"/><use href="#db3" x="275.1" y="345.1"/><use href="#k9" x="270.8" y="345"/><use href="#db3" x="266.6" y="345.1"/><use href="#k9" x="262.3" y="345.4"/><use href="#db3" x="258.1" y="345.9"/><use href="#k10" x="253.8" y="347.1"/><use href="#db4" x="249.6" y="349.1"/><use href="#k13" x="245.3" y="351.5"/><use href="#db5" x="241.1" y="354.3"/><use href="#k19" x="236.9" y="357.7"/><use href="#k20" x="232.6" y="361.4"/><use href="#k21" x="228.4" y="365.5"/><use href="#k20" x="224.1" y="369.9"/><use href="#k21" x="219.9" y="374.5"/><use href="#k20" x="215.6" y="379.2"/><use href="#k21" x="211.4" y="384.1"/><use href="#k20" x="207.1" y="389.2"/><use href="#k21" x="202.9" y="394.5"/><use href="#k20" x="198.7" y="400"/><use href="#k21" x="194.4" y="405.6"/><use href="#k20" x="190.2" y="411.5"/><use href="#k21" x="185.9" y="417.7"/><use href="#k18" x="181.7" y="424.3"/><use href="#k18" x="177.4" y="431.5"/><use href="#k16" x="173.2" y="440"/><use href="#k16" x="168.9" y="448.5"/><use href="#k14" x="164.7" y="456.7"/><use href="#k14" x="160.4" y="464.4"/><use href="#k12" x="156.2" y="471.6"/><use href="#k12" x="152" y="478.6"/><use href="#k11" x="147.7" y="485.5"/><use href="#k11" x="143.5" y="492"/><use href="#k9" x="139.2" y="498.3"/><use href="#k9" x="135" y="503.9"/><use href="#k8" x="130.7" y="508.4"/><use href="#k8" x="126.5" y="512.4"/><use href="#db7" x="122.2" y="516.3"/><use href="#db7" x="118" y="520"/></g><g fill="#fff" stroke="#00ff00"><use href="#k23" x="550.2" y="350.1"/><use href="#k32" x="546.4" y="351.3"/><use href="#k33" x="542.6" y="352.9"/><use href="#k34" x="538.7" y="355.3"/><use href="#k32" x="534.9" y="358.2"/><use href="#k34" x="531.1" y="361.5"/><use href="#k32" x="527.3" y="365.2"/><use href="#k34" x="523.5" y="369.4"/><use href="#k32" x="519.6" y="374"/><use href="#k34" x="515.8" y="379.2"/><use href="#k32" x="512" y="384.4"/><use href="#k33" x="508.2" y="389.5"/><use href="#k32" x="504.4" y="394.6"/><use href="#k33" x="500.5" y="399.7"/><use href="#k31" x="496.7" y="404.9"/><use href="#k33" x="492.9" y="410"/><use href="#k31" x="489.1" y="415.1"/><use href="#k33" x="485.3" y="420.4"/><use href="#k31" x="481.4" y="425.4"/><use href="#k32" x="477.6" y="429.8"/><use href="#k31" x="473.8" y="433.7"/><use href="#k32" x="470" y="437.3"/><use href="#k22" x="466.2" y="440.7"/><use href="#k15" x="462.3" y="444.1"/></g><g fill="#fff" stroke="#ff0000"><use href="#dr7" x="677" y="239"/><use href="#k8" x="673.2" y="247.4"/><use href="#k9" x="669.5" y="254.6"/><use href="#k10" x="665.8" y="260.9"/><use href="#k10" x="662.1" y="266.9"/><use href="#k11" x="658.4" y="272.8"/><use href="#k11" x="654.7" y="278.8"/><use href="#k13" x="651" y="285.1"/><use href="#k13" x="647.3" y="292.7"/><use href="#k14" x="643.5" y="298.8"/><use href="#k14" x="639.8" y="303.1"/><use href="#k15" x="636.1" y="307.4"/><use href="#k14" x="632.4" y="311.7"/><use href="#k15" x="628.7" y="316.3"/><use href="#k15" x="625" y="321.5"/><use href="#k16" x="621.3" y="326.6"/><use href="#k15" x="617.6" y="330.6"/><use href="#k16" x="613.8" y="333.5"/><use href="#k16" x="610.1" y="335.9"/><use href="#k17" x="606.4" y="338"/><use href="#k16" x="602.7" y="339.8"/><use href="#k17" x="599" y="341.6"/><use href="#k16" x="595.3" y="343.3"/><use href="#k17" x="591.6" y="344.9"/><use href="#k17" x="587.9" y="346.1"/><use href="#k18" x="584.1" y="347.1"/><use href="#k17" x="580.4" y="348"/><use href="#k18" x="576.7" y="348.7"/><use href="#k17" x="573" y="349.3"/><use href="#k18" x="569.3" y="349.5"/><use href="#k17" x="565.5" y="349.2"/><use href="#k18" x="561.7" y="348.8"/><use href="#k17" x="557.8" y="348.6"/><use href="#k18" x="554" y="349.1"/><use href="#k14" x="550.2" y="350.1"/><use href="#k14" x="470" y="437.3"/><use href="#k13" x="466.2" y="440.7"/><use href="#k14" x="462.3" y="444.1"/><use href="#k14" x="458.5" y="446.9"/><use href="#k15" x="454.7" y="448.7"/><use href="#k15" x="450.9" y="449.8"/><use href="#k16" x="447.1" y="450.4"/><use href="#k15" x="443.2" y="450.1"/><use href="#k17" x="439.4" y="449.1"/><use href="#k16" x="435.6" y="447.7"/><use href="#k17" x="431.8" y="445.8"/><use href="#k17" x="428" y="442.8"/><use href="#k18" x="424.1" y="439.2"/><use href="#k17" x="420.3" y="435.2"/><use href="#k18" x="416.5" y="430.6"/><use href="#k18" x="135" y="535.2"/><use href="#k17" x="130.7" y="531.3"/><use href="#k17" x="126.5" y="527.5"/><use href="#k16" x="122.2" y="523.8"/><use href="#k16" x="118" y="520"/></g><g fill="#fff" stroke="#0000ff"><use href="#db5" x="717.8" y="169.5"/><use href="#db5" x="714.1" y="170.7"/><use href="#db5" x="710.4" y="173.6"/><use href="#db5" x="706.7" y="179.2"/><use href="#db6" x="702.9" y="186.1"/><use href="#db5" x="699.2" y="193.2"/><use href="#db6" x="695.5" y="200.8"/><use href="#db6" x="691.8" y="208.6"/><use href="#db6" x="688.1" y="216.4"/><use href="#db6" x="684.4" y="223.5"/><use href="#db7" x="680.7" y="230.7"/><use href="#db7" x="677" y="239"/><use href="#k8" x="673.2" y="247.4"/><use href="#k8" x="669.5" y="254.6"/><use href="#k9" x="665.8" y="260.9"/><use href="#k9" x="662.1" y="266.9"/><use href="#k10" x="658.4" y="272.8"/><use href="#k10" x="654.7" y="278.8"/><use href="#k11" x="651" y="285.1"/><use href="#k11" x="647.3" y="292.7"/><use href="#k12" x="643.5" y="298.8"/><use href="#k11" x="639.8" y="303.1"/><use href="#k12" x="636.1" y="307.4"/><use href="#k11" x="632.4" y="311.7"/><use href="#k12" x="628.7" y="316.3"/><use href="#k11" x="625" y="321.5"/><use href="#k12" x="621.3" y="326.6"/><use href="#k11" x="617.6" y="330.6"/><use href="#k12" x="613.8" y="333.5"/><use href="#k11" x="610.1" y="335.9"/><use href="#k12" x="606.4" y="338"/><use href="#k12" x="602.7" y="339.8"/><use href="#k12" x="599" y="341.6"/><use href="#k12" x="595.3" y="343.3"/><use href="#k13" x="591.6" y="344.9"/><use href="#k12" x="587.9" y="346.1"/><use href="#k13" x="584.1" y="347.1"/><use href="#k13" x="580.4" y="348"/><use href="#k13" x="576.7" y="348.7"/><use href="#k13" x="573" y="349.3"/><use href="#k14" x="569.3" y="349.5"/><use href="#k13" x="565.5" y="349.2"/><use href="#k13" x="561.7" y="348.8"/><use href="#k11" x="557.8" y="348.6"/><use href="#k12" x="554" y="349.1"/><use href="#k12" x="550.2" y="350.1"/><use href="#k13" x="546.4" y="351.3"/><use href="#k13" x="542.6" y="352.9"/><use href="#k14" x="538.7" y="355.3"/><use href="#k13" x="534.9" y="358.2"/><use href="#k14" x="531.1" y="361.5"/><use href="#k13" x="527.3" y="365.2"/><use href="#k14" x="523.5" y="369.4"/><use href="#k13" x="519.6" y="374"/><use href="#k14" x="515.8" y="379.2"/><use href="#k13" x="512" y="384.4"/><use href="#k14" x="508.2" y="389.5"/><use href="#k13" x="504.4" y="394.6"/><use href="#k14" x="500.5" y="399.7"/><use href="#k13" x="496.7" y="404.9"/><use href="#k14" x="492.9" y="410"/><use href="#k13" x="489.1" y="415.1"/><use href="#k14" x="485.3" y="420.4"/><use href="#k13" x="481.4" y="425.4"/><use href="#k14" x="477.6" y="429.8"/><use href="#k13" x="473.8" y="433.7"/><use href="#k14" x="470" y="437.3"/><use href="#k12" x="466.2" y="440.7"/><use href="#k12" x="462.3" y="444.1"/><use href="#k11" x="458.5" y="446.9"/><use href="#k12" x="454.7" y="448.7"/><use href="#k11" x="450.9" y="449.8"/><use href="#k12" x="447.1" y="450.4"/><use href="#k11" x="443.2" y="450.1"/><use href="#k13" x="439.4" y="449.1"/><use href="#k12" x="435.6" y="447.7"/><use href="#k14" x="431.8" y="445.8"/><use href="#k14" x="428" y="442.8"/><use href="#k15" x="424.1" y="439.2"/><use href="#k15" x="420.3" y="435.2"/><use href="#k16" x="416.5" y="430.6"/><use href="#k18" x="413.3" y="426.1"/><use href="#k23" x="410.1" y="421.3"/><use href="#k23" x="406.8" y="416.6"/><use href="#k24" x="403.6" y="411.8"/><use href="#k9" x="400.4" y="406.8"/><use href="#k26" x="397.2" y="401.8"/><use href="#k9" x="394" y="396.2"/><use href="#k27" x="390.8" y="389.4"/><use href="#k10" x="387.5" y="383"/><use href="#k29" x="384.3" y="377"/><use href="#k10" x="381.1" y="372.7"/><use href="#k30" x="377.9" y="369.1"/><use href="#k11" x="374.7" y="366.6"/><use href="#k31" x="371.5" y="365"/><use href="#k11" x="368.2" y="363.7"/><use href="#k32" x="365" y="363"/><use href="#k11" x="361.8" y="363.1"/><use href="#k32" x="358.6" y="364"/><use href="#k11" x="355.4" y="365.6"/><use href="#k32" x="352.1" y="367.5"/><use href="#k11" x="348.9" y="369.7"/><use href="#k32" x="345.7" y="372.9"/><use href="#k11" x="342.5" y="376.6"/><use href="#k32" x="339.3" y="380.7"/><use href="#k11" x="336.1" y="385.4"/><use href="#k32" x="332.8" y="390.1"/><use href="#k11" x="329.6" y="394.7"/><use href="#k32" x="326.4" y="399.3"/><use href="#k11" x="323.2" y="403.5"/><use href="#k32" x="320" y="407.5"/><use href="#k11" x="316.8" y="411.3"/><use href="#k32" x="313.5" y="415.1"/><use href="#k11" x="310.3" y="419"/><use href="#k32" x="307.1" y="422.2"/><use href="#k11" x="303.9" y="424.4"/><use href="#k31" x="300.7" y="426.1"/><use href="#k11" x="297.5" y="427.1"/><use href="#k30" x="294.2" y="427.5"/><use href="#k11" x="291" y="427.7"/><use href="#k30" x="287.8" y="428"/><use href="#k10" x="283.6" y="428.7"/><use href="#k29" x="279.3" y="429.9"/><use href="#k10" x="275.1" y="431.7"/><use href="#k27" x="270.8" y="434.2"/><use href="#k9" x="266.6" y="437.1"/><use href="#k26" x="262.3" y="440.8"/><use href="#k9" x="258.1" y="447.2"/><use href="#k24" x="253.8" y="455.3"/><use href="#k22" x="249.6" y="463.9"/><use href="#k22" x="245.3" y="472.8"/><use href="#k20" x="241.1" y="481.9"/><use href="#k20" x="236.9" y="491.1"/><use href="#k19" x="232.6" y="500.4"/><use href="#k20" x="228.4" y="509.6"/><use href="#k18" x="224.1" y="518.6"/><use href="#k19" x="219.9" y="526.7"/><use href="#k18" x="215.6" y="534.3"/><use href="#k18" x="211.4" y="541.9"/><use href="#k17" x="207.1" y="549.3"/><use href="#k18" x="202.9" y="555.2"/><use href="#k17" x="198.7" y="560"/><use href="#k18" x="194.4" y="563.7"/><use href="#k17" x="190.2" y="566.6"/><use href="#k18" x="185.9" y="568.4"/><use href="#k17" x="181.7" y="569.7"/><use href="#k18" x="177.4" y="569.9"/><use href="#k17" x="173.2" y="569"/><use href="#k18" x="168.9" y="567.5"/><use href="#k17" x="164.7" y="565"/><use href="#k18" x="160.4" y="561.8"/><use href="#k17" x="156.2" y="557.5"/><use href="#k18" x="152" y="552.9"/><use href="#k17" x="147.7" y="548.2"/><use href="#k17" x="143.5" y="543.7"/><use href="#k16" x="139.2" y="539.3"/><use href="#k16" x="135" y="535.2"/><use href="#k15" x="130.7" y="531.3"/><use href="#k15" x="126.5" y="527.5"/><use href="#k14" x="122.2" y="523.8"/><use href="#k14" x="118" y="520"/></g><g fill="#fff" stroke="#ff0000"><use href="#k20" x="835.1" y="308.4"/><use href="#k28" x="830" y="306.6"/><use href="#k28" x="824.9" y="304.5"/><use href="#k31" x="819.8" y="302.1"/><use href="#k31" x="814.7" y="299.5"/><use href="#k33" x="809.6" y="296.5"/><use href="#k31" x="804.5" y="293.1"/><use href="#k34" x="799.4" y="289.3"/><use href="#k32" x="794.3" y="285"/><use href="#k34" x="789.2" y="280.2"/><use href="#k32" x="784.1" y="274.8"/><use href="#k34" x="779" y="268.7"/><use href="#k32" x="773.9" y="262.4"/><use href="#k33" x="768.8" y="256.1"/><use href="#k31" x="763.7" y="249.8"/><use href="#k30" x="758.6" y="238.6"/><use href="#k26" x="753.5" y="224.9"/><use href="#k24" x="748.4" y="214.2"/><use href="#k19" x="743.3" y="204.5"/><use href="#k17" x="738.2" y="194.6"/><use href="#k14" x="733.1" y="186"/><use href="#k11" x="728" y="179.3"/><use href="#dr8" x="722.9" y="173.7"/><use href="#dr5" x="717.8" y="169.5"/></g><g fill="#fff" stroke="#0000ff"><use href="#k21" x="921.8" y="296"/><use href="#k8" x="916.7" y="304.4"/><use href="#k23" x="911.6" y="312.2"/><use href="#k9" x="906.5" y="319.5"/><use href="#k27" x="901.4" y="326"/><use href="#k10" x="896.3" y="331.5"/><use href="#k32" x="891.2" y="335.1"/><use href="#k11" x="886.1" y="333.9"/><use href="#k32" x="881" y="330.9"/><use href="#k11" x="875.9" y="327.4"/><use href="#k32" x="870.8" y="323.5"/><use href="#k11" x="865.7" y="320.3"/><use href="#k31" x="860.6" y="317.5"/><use href="#k10" x="855.5" y="315"/><use href="#k29" x="850.4" y="312.9"/><use href="#k10" x="845.3" y="311.2"/><use href="#k24" x="840.2" y="309.8"/><use href="#k20" x="835.1" y="308.4"/><use href="#k18" x="830" y="306.6"/><use href="#k16" x="824.9" y="304.5"/><use href="#k15" x="819.8" y="302.1"/><use href="#k13" x="814.7" y="299.5"/><use href="#k13" x="809.6" y="296.5"/><use href="#k12" x="804.5" y="293.1"/><use href="#k12" x="799.4" y="289.3"/><use href="#k11" x="794.3" y="285"/><use href="#k12" x="789.2" y="280.2"/><use href="#k11" x="784.1" y="274.8"/><use href="#k11" x="779" y="268.7"/><use href="#k10" x="773.9" y="262.4"/><use href="#k10" x="768.8" y="256.1"/><use href="#k9" x="763.7" y="249.8"/><use href="#k8" x="758.6" y="238.6"/><use href="#db7" x="753.5" y="224.9"/><use href="#db6" x="748.4" y="214.2"/><use href="#db5" x="743.3" y="204.5"/><use href="#db5" x="738.2" y="194.6"/><use href="#db4" x="733.1" y="186"/><use href="#db4" x="728" y="179.3"/><use href="#db4" x="722.9" y="173.7"/><use href="#db4" x="717.8" y="169.5"/></g><g fill="#fff" stroke="#ff0000"><use href="#k18" x="921.8" y="504"/><use href="#k21" x="916.7" y="473.8"/><use href="#k25" x="911.6" y="448.6"/><use href="#k26" x="906.5" y="427.7"/><use href="#k27" x="901.4" y="414.2"/><use href="#k25" x="896.3" y="404.2"/><use href="#k26" x="891.2" y="402.1"/><use href="#k18" x="886.1" y="408.4"/><use href="#k21" x="717.8" y="519.1"/></g><g fill="#fff" stroke="#0000ff"><use href="#db5" x="921.8" y="504"/><use href="#db6" x="916.7" y="473.8"/><use href="#db7" x="911.6" y="448.6"/><use href="#db7" x="906.5" y="427.7"/><use href="#db7" x="901.4" y="414.2"/><use href="#k8" x="896.3" y="404.2"/><use href="#k9" x="891.2" y="402.1"/><use href="#k12" x="886.1" y="408.4"/><use href="#k21" x="881" y="418.4"/><use href="#k22" x="875.9" y="431.2"/><use href="#k22" x="870.8" y="444.6"/><use href="#k21" x="865.7" y="459.6"/><use href="#k22" x="860.6" y="474.4"/><use href="#k20" x="855.5" y="488.8"/><use href="#k21" x="850.4" y="502.8"/><use href="#k20" x="845.3" y="516.4"/><use href="#k21" x="840.2" y="529.3"/><use href="#k20" x="835.1" y="541.6"/><use href="#k21" x="830" y="553.8"/><use href="#k20" x="824.9" y="565.7"/><use href="#k21" x="819.8" y="574.8"/><use href="#k20" x="814.7" y="582.2"/><use href="#k21" x="809.6" y="587.7"/><use href="#k20" x="804.5" y="591.9"/><use href="#k21" x="799.4" y="594.4"/><use href="#k20" x="794.3" y="595.8"/><use href="#k21" x="789.2" y="595.2"/><use href="#k20" x="784.1" y="593.2"/><use href="#k21" x="779" y="589.4"/><use href="#k20" x="773.9" y="584.7"/><use href="#k21" x="768.8" y="578.9"/><use href="#k20" x="763.7" y="572.4"/><use href="#k21" x="758.6" y="564.8"/><use href="#k20" x="753.5" y="556.9"/><use href="#k21" x="748.4" y="549"/><use href="#k20" x="743.3" y="541.5"/><use href="#k21" x="738.2" y="535.2"/><use href="#k19" x="733.1" y="529.5"/><use href="#k20" x="728" y="523.5"/><use href="#k18" x="722.9" y="519.8"/><use href="#k18" x="717.8" y="519.1"/></g><g fill="#fff" stroke="#ff0000"><use href="#k25" x="881" y="385.9"/><use href="#k26" x="875.9" y="388.5"/><use href="#k28" x="870.8" y="391.2"/><use href="#k26" x="865.7" y="393.9"/><use href="#k28" x="860.6" y="396.3"/><use href="#k25" x="855.5" y="398.1"/><use href="#k26" x="850.4" y="399.6"/><use href="#k24" x="845.3" y="401"/><use href="#k24" x="840.2" y="402.5"/><use href="#k22" x="835.1" y="403.9"/><use href="#k13" x="830" y="405.4"/></g><g fill="#fff" stroke="#0000ff"><use href="#k30" x="921.8" y="364.6"/><use href="#k10" x="916.7" y="367.6"/><use href="#k30" x="911.6" y="370.9"/><use href="#k10" x="906.5" y="374.5"/><use href="#k29" x="901.4" y="377.4"/><use href="#k10" x="896.3" y="379.1"/><use href="#k28" x="891.2" y="380.8"/><use href="#db7" x="886.1" y="383.2"/><use href="#k11" x="881" y="385.9"/><use href="#k9" x="875.9" y="388.5"/><use href="#k10" x="870.8" y="391.2"/><use href="#k10" x="865.7" y="393.9"/><use href="#k11" x="860.6" y="396.3"/><use href="#k11" x="855.5" y="398.1"/><use href="#k12" x="850.4" y="399.6"/><use href="#k11" x="845.3" y="401"/><use href="#k12" x="840.2" y="402.5"/><use href="#k11" x="835.1" y="403.9"/><use href="#k12" x="830" y="405.4"/><use href="#k13" x="824.9" y="407.1"/><use href="#k14" x="819.8" y="408.8"/><use href="#k13" x="814.7" y="410.7"/><use href="#k14" x="809.6" y="412.8"/><use href="#k13" x="804.5" y="415.2"/><use href="#k14" x="799.4" y="418.1"/><use href="#k13" x="794.3" y="421.4"/><use href="#k14" x="789.2" y="425.4"/><use href="#k11" x="784.1" y="430.2"/><use href="#k10" x="779" y="436"/><use href="#k8" x="773.9" y="443.8"/><use href="#db7" x="768.8" y="452.4"/><use href="#db7" x="763.7" y="460.7"/><use href="#db7" x="758.6" y="469.4"/><use href="#db7" x="753.5" y="479"/><use href="#db7" x="748.4" y="488.2"/><use href="#db7" x="743.3" y="496.3"/><use href="#db7" x="738.2" y="503.5"/><use href="#db7" x="733.1" y="510.5"/><use href="#db7" x="728" y="515.9"/><use href="#db7" x="722.9" y="518.1"/><use href="#db7" x="717.8" y="519.1"/></g><g fill="#fff" stroke="#00ff00"><use href="#k10" x="473.8" y="657.9"/><use href="#k10" x="470" y="643.6"/><use href="#k10" x="466.2" y="633.3"/><use href="#k10" x="462.3" y="626.5"/><use href="#k10" x="458.5" y="621.4"/><use href="#k10" x="454.7" y="618"/><use href="#k10" x="450.9" y="615.3"/><use href="#k10" x="447.1" y="613.4"/><use href="#k10" x="443.2" y="612.9"/><use href="#k10" x="439.4" y="613.8"/><use href="#k10" x="435.6" y="615.4"/><use href="#k10" x="431.8" y="617.6"/><use href="#k10" x="428" y="621.3"/><use href="#k10" x="424.1" y="626"/><use href="#k10" x="420.3" y="631.5"/><use href="#k10" x="416.5" y="638.1"/><use href="#k10" x="413.3" y="644.7"/><use href="#k10" x="410.1" y="652.3"/><use href="#k10" x="406.8" y="659.7"/></g><g fill="#fff" stroke="#0000ff"><use href="#db7" x="473.8" y="657.9"/><use href="#db7" x="470" y="643.6"/><use href="#db7" x="466.2" y="633.3"/><use href="#db7" x="462.3" y="626.5"/><use href="#db7" x="458.5" y="621.4"/><use href="#db7" x="454.7" y="618"/><use href="#db7" x="450.9" y="615.3"/><use href="#db7" x="447.1" y="613.4"/><use href="#db7" x="443.2" y="612.9"/><use href="#db7" x="439.4" y="613.8"/><use href="#db7" x="435.6" y="615.4"/><use href="#db7" x="431.8" y="617.6"/><use href="#db7" x="428" y="621.3"/><use href="#db7" x="424.1" y="626"/><use href="#db7" x="420.3" y="631.5"/><use href="#db7" x="416.5" y="638.1"/><use href="#db7" x="413.3" y="644.7"/><use href="#db7" x="410.1" y="652.3"/><use href="#db7" x="406.8" y="659.7"/></g><g fill="#fff" stroke="#0000ff"><use href="#db5" x="921.8" y="630.7"/><use href="#db4" x="916.7" y="639.8"/><use href="#db5" x="911.6" y="650.1"/><use href="#db4" x="906.5" y="659.7"/></g></g><g clip-path="url(#cb1)"><path d="M128,806C132.1,810.9 136.3,815.3 140.4,818.9C144,822 147.5,824 151.1,827C155.3,830.5 159.4,835.1 163.6,838.6C167.8,842.1 171.9,845.9 176.1,848.4C180.9,851.3 185.6,853.5 190.4,855.5C194.6,857.2 198.7,859.2 202.9,860C207.6,860.9 212.4,861.8 217.1,861.8C221.3,861.8 225.4,861.8 229.6,861.8C233.8,861.8 237.9,859.5 242.1,858.2C246.3,856.9 250.4,855.6 254.6,853.8C259.1,851.9 263.5,849.4 268,846.6C272.5,843.8 276.9,840.2 281.4,836.8C285.6,833.6 289.7,830 293.9,827C298.1,824 302.2,821.8 306.4,818.9C310.3,816.2 314.1,813.2 318,810 M420,810C426.7,812.9 433.3,815.7 440,817C450,819 460,821 470,821C478.3,821 486.7,819.6 495,818C500.7,816.9 506.3,814 512,811 M118,885C124.3,885 130.5,885 136.8,885C141.6,885 146.3,885.6 151.1,885.9C155.3,886.2 159.4,886.4 163.6,886.8C168.1,887.2 172.5,887.8 177,888.6C181.2,889.3 185.3,891.1 189.5,891.8C194,892.6 198.4,893.6 202.9,893.6C207.3,893.6 211.8,893.3 216.2,893C220.4,892.7 224.6,891.6 228.8,890.4C233.2,889.1 237.7,886.1 242.1,883.2C246.6,880.3 251,876.2 255.5,872.5C260,868.8 264.4,864.9 268.9,860.9C273.1,857.2 277.2,852.9 281.4,849.3C286.2,845.2 290.9,841.5 295.7,837.7C299.9,834.4 304,830.9 308.2,827.9C312.4,824.9 316.5,822.2 320.7,819.8C324.5,817.6 328.2,815.7 332,814C336.3,812.1 340.7,810.4 345,809 M118,935C122.5,935.4 126.9,936.5 131.4,937.7C135.6,938.8 139.7,940.9 143.9,943C148.1,945.1 152.2,948.8 156.4,951.1C160.6,953.4 164.7,955.8 168.9,957.3C173.1,958.8 177.2,960.5 181.4,960.9C184.1,961.2 186.8,961.4 189.5,961.4C194,961.4 198.4,960.1 202.9,959.1C207.1,958.2 211.2,957 215.4,955.5C219.6,954 223.7,951.6 227.9,949.3C232.6,946.7 237.4,943.9 242.1,940.4C246.3,937.4 250.4,933.1 254.6,929.6C259.1,925.9 263.5,922.6 268,918.9C272.5,915.2 276.9,911.6 281.4,907.3C285.6,903.3 289.7,898.5 293.9,893.9C298.1,889.3 302.2,884.5 306.4,879.6C310.9,874.4 315.3,868.8 319.8,863.6C324.3,858.4 328.7,852.6 333.2,848.4C337.7,844.2 342.1,840.6 346.6,837.7C351.1,834.8 355.5,831.8 360,830.5C364.2,829.3 368.3,827.9 372.5,827.9C375,827.9 377.5,827.9 380,827.9C386,827.9 391.9,830.8 397.9,833.2C403.8,835.6 409.8,839.9 415.7,844.8C419.3,847.8 422.8,852.2 426.4,856.4C428.8,859.2 431.2,862.5 433.6,865.4C436.6,869 439.5,872.4 442.5,876C445.5,879.6 448.4,883.2 451.4,886.8C454.4,890.4 457.4,894.5 460.4,897.5C464.6,901.7 468.7,905.3 472.9,908.2C476.5,910.7 480,913.7 483.6,914.5C487.7,915.5 491.9,916.2 496,916.2C500.2,916.2 504.4,916.2 508.6,916.2C512.2,916.2 515.7,916.2 519.3,916.2C521.7,916.2 524,920.8 526.4,922.5C529.4,924.7 532.4,926.4 535.4,927.9C539.6,930 543.7,931.9 547.9,933.2C551.5,934.3 555,935.1 558.6,935.9C563.4,936.9 568.1,938.1 572.9,938.6C577.6,939 582.4,939.5 587.1,939.5C592.5,939.5 597.8,939.5 603.2,939.5C608,939.5 612.7,939.9 617.5,940.4C622.3,940.9 627,943.4 631.8,945.7C636,947.7 640.1,951.1 644.3,954.6C647.9,957.6 651.4,963 655,965.4C657.6,967.2 660.3,967.8 662.9,969.5C667.6,972.5 672.4,977.3 677.1,981.4C681.9,985.5 686.6,990.3 691.4,993.9C696.8,998 702.1,1001.7 707.5,1004.6C712.9,1007.5 718.2,1009.7 723.6,1011.8C728.4,1013.7 733.1,1014.9 737.9,1017C742.6,1019.1 747.3,1023.4 752,1025C757.4,1026.8 762.8,1028.8 768.2,1028.8C773.6,1028.8 778.9,1028.8 784.3,1028.8C789.1,1028.8 793.8,1028.8 798.6,1028.8C803.6,1028.8 808.7,1028.8 813.8,1028.8C818.8,1028.8 823.9,1029.1 828.9,1029.6C833.7,1030.1 838.4,1032.8 843.2,1035C848,1037.2 852.7,1040.2 857.5,1043.9C861.7,1047.1 865.8,1051.6 870,1056.4C873.6,1060.5 877.1,1065.4 880.7,1070.7C884.3,1076 887.8,1081.8 891.4,1088.6C894.4,1094.3 897.4,1101.2 900.4,1108.2C902.8,1113.7 905.1,1119.6 907.5,1126.1C909.3,1131 911.1,1136.7 912.9,1142.1C914.7,1147.4 916.4,1152.2 918.2,1158.2C919.4,1162.3 920.6,1167 921.8,1172 M118,965.4C120.1,965.6 122.2,965.9 124.3,966.2C128.5,967 132.6,968.2 136.8,969.8C141,971.4 145.1,975.1 149.3,977.9C154.1,981.1 158.8,984.2 163.6,987.7C167.8,990.8 171.9,995.9 176.1,997.5C180.6,999.3 185,1001 189.5,1001C194,1001 198.4,1000.7 202.9,1000.2C207.1,999.8 211.2,997 215.4,994.8C219.6,992.6 223.7,988.8 227.9,985.9C232.6,982.6 237.4,979.1 242.1,976.1C246.3,973.5 250.4,971 254.6,968.9C259.1,966.6 263.5,964.4 268,962.7C272.5,961 276.9,959.6 281.4,958.2C285.6,956.9 289.7,955.4 293.9,954.6C298.1,953.8 302.2,953.4 306.4,952.9C311.2,952.3 315.9,951.7 320.7,951.1C324.9,950.5 329,949.9 333.2,949.3C338,948.7 342.7,947.7 347.5,947.5C351.7,947.3 355.8,947.2 360,947.1C364.2,947 368.3,946.9 372.5,946.6C375,946.4 377.5,944 380,944C386,944 391.9,944.3 397.9,944.5C403.8,944.7 409.8,945 415.7,945.7C421.7,946.4 427.6,948.9 433.6,951.1C439.5,953.3 445.5,956.4 451.4,960C456.2,962.9 460.9,966.6 465.7,970.7C470.5,974.8 475.2,980.2 480,985C483.6,988.6 487.1,992.1 490.7,995.7C494.3,999.3 497.8,1003 501.4,1006.4C505,1009.8 508.5,1013.2 512.1,1016C514.5,1017.9 516.9,1021 519.3,1021C521.7,1021 524,1017.8 526.4,1016C529.4,1013.7 532.4,1011.3 535.4,1008.2C537.8,1005.8 540.1,1002 542.5,999.3C544.9,996.6 547.2,994.2 549.6,992.1C552.6,989.4 555.6,987.2 558.6,985C562.2,982.4 565.7,980 569.3,977.9C573.5,975.5 577.6,972.5 581.8,971.6C586,970.7 590.1,969.8 594.3,969.8C597.9,969.8 601.4,970.2 605,970.7C609.2,971.3 613.3,973.5 617.5,975.2C621.7,976.9 625.8,978.8 630,981.4C633,983.2 635.9,986 638.9,988.6C641.9,991.3 644.9,993.9 647.9,997.5C650.5,1000.6 653.1,1004.5 655.7,1009C658.1,1013.2 660.5,1018.9 662.9,1024.3C665.3,1029.6 667.6,1035.7 670,1041.2C672.7,1047.5 675.3,1053.6 678,1059.6C680.4,1065 682.8,1071.4 685.2,1075.7C687.8,1080.3 690.3,1084.5 692.9,1087.1C695.4,1089.7 697.9,1093 700.4,1093C702.9,1093 705.4,1092.8 707.9,1092.5C710.4,1092.2 713,1088 715.5,1085C718,1082.1 720.5,1078.1 723,1074.3C725.5,1070.6 727.9,1066.3 730.4,1062.3C732.9,1058.3 735.4,1053.9 737.9,1050.2C740.3,1046.7 742.6,1044.2 745,1040.4C747.4,1036.6 749.7,1031.5 752.1,1027C755.1,1021.3 758.1,1015.5 761.1,1010C763.5,1005.7 765.8,1001.1 768.2,997.5C770.6,993.8 773,990.5 775.4,987.7C778.1,984.6 780.7,982.1 783.4,979.6C785.8,977.4 788.1,975.2 790.5,973.4C793.2,971.4 795.9,969 798.6,968C803.6,966.2 808.7,965.2 813.8,964.5C819.4,963.7 825.1,963.4 830.7,962.7C836.1,962 841.4,961.2 846.8,960C852.2,958.8 857.5,956.1 862.9,954.6C867.6,953.3 872.4,951.8 877.1,951.1C883.1,950.2 889,949.8 895,949.3C899.8,948.9 904.5,948.4 909.3,948.4C913.5,948.4 917.6,948.4 921.8,948.4 M118,1028.8C121.3,1028.8 124.6,1028.8 127.9,1028.8C132.1,1028.8 136.2,1029 140.4,1029.3C144.6,1029.6 148.7,1030 152.9,1030.5C156.5,1030.9 160,1031.5 163.6,1032.3C167.8,1033.2 171.9,1034.8 176.1,1036.8C180.3,1038.8 184.4,1042.2 188.6,1045.7C192.2,1048.7 195.7,1052.8 199.3,1056.4C202.3,1059.4 205.2,1063 208.2,1065.4C211.2,1067.8 214.1,1070.3 217.1,1071.6C218.9,1072.4 220.7,1073.4 222.5,1073.4C224.9,1073.4 227.2,1070.9 229.6,1068.9C231.4,1067.4 233.2,1064.6 235,1062.7C237.4,1060.1 239.7,1058.2 242.1,1055.5C244.2,1053.1 246.3,1050.3 248.4,1047.5C250.5,1044.7 252.5,1041.5 254.6,1038.6C257,1035.2 259.4,1032.4 261.8,1028.8C263.9,1025.6 265.9,1021.8 268,1018C270.1,1014.1 272.2,1009.6 274.3,1005.5C276.7,1000.9 279,996.8 281.4,992.1C283.5,987.9 285.6,983.1 287.7,978.8C289.8,974.5 291.8,969.7 293.9,966.2C296.3,962.3 298.6,960 301,956.4C303.4,952.7 305.8,947 308.2,943.9C311.8,939.3 315.3,934.9 318.9,933.2C323.7,930.9 328.4,929.7 333.2,928.8C337.4,928 341.5,927.4 345.7,927C350.5,926.6 355.2,926.1 360,926.1C364.2,926.1 368.3,926.6 372.5,927C376.7,927.4 380.8,928.6 385,929.6C389.3,930.6 393.6,932.2 397.9,933.2C403.8,934.6 409.8,936.2 415.7,936.8C420.5,937.2 425.2,937.7 430,937.7C434.8,937.7 439.5,936.6 444.3,935.9C449.1,935.2 453.8,934.4 458.6,933.2C463.4,932 468.1,929.7 472.9,927.9C477.6,926.1 482.4,923.9 487.1,922.5C491.9,921.1 496.6,919.8 501.4,918.9C507.4,917.8 513.3,917.5 519.3,916.2C522.3,915.6 525.2,914.7 528.2,913.6C532.4,912 536.5,908.8 540.7,906.4C546.1,903.4 551.4,900.5 556.8,897.5C562.2,894.5 567.5,891.4 572.9,888.6C577.6,886.1 582.4,883.8 587.1,881.4C591.9,879 596.6,876.4 601.4,874.3C604.4,873 607.4,870.7 610.4,870.7C612.8,870.7 615.1,870.7 617.5,870.7C620.5,870.7 623.4,872.8 626.4,874.3C628.8,875.5 631.2,877 633.6,878.8C636,880.5 638.3,883.1 640.7,885C643.1,886.9 645.5,888.5 647.9,890.4C650.5,892.4 653.1,894.4 655.7,896.6C658.1,898.6 660.5,901 662.9,902.9C665.3,904.8 667.6,906.4 670,908.2C672.4,910 674.7,911.8 677.1,913.6C679.8,915.7 682.5,917.7 685.2,919.8C687.9,921.9 690.5,924.1 693.2,926.1C695.6,927.9 698,929.6 700.4,931.4C702.8,933.2 705.1,935.3 707.5,936.8C710.2,938.5 712.8,939.8 715.5,941.2C718.2,942.7 720.9,944.3 723.6,945.7C726,946.9 728.3,948.3 730.7,949.3C733.1,950.3 735.5,951.3 737.9,952C740.6,952.7 743.2,953.8 745.9,953.8C748.3,953.8 750.6,953.8 753,953.8C755.7,953.8 758.4,953.3 761.1,952.9C763.5,952.5 765.8,951.8 768.2,951.1C770.6,950.4 773,949.4 775.4,948.4C778.1,947.3 780.7,946 783.4,944.8C786.1,943.6 788.7,942.5 791.4,941.2C793.8,940.1 796.2,938.5 798.6,937.7C801,936.9 803.3,936.3 805.7,935.9C808.4,935.5 811.1,935 813.8,935C816.4,935 819.1,935.5 821.8,935.9C824.8,936.4 827.7,937.5 830.7,938.6C834.3,939.9 837.8,941.9 841.4,943.9C845,945.9 848.5,948.5 852.1,951.1C855.7,953.8 859.3,956.7 862.9,960C866.5,963.2 870,967.1 873.6,970.7C877.2,974.3 880.7,978.1 884.3,981.4C887.9,984.7 891.4,987.4 895,990.4C898.6,993.4 902.1,996.7 905.7,999.3C909.3,1001.9 912.8,1004 916.4,1006.4C918.2,1007.6 920,1008.8 921.8,1010 M118,1067.1C120.1,1066.9 122.2,1066.8 124.3,1066.8C126.7,1066.8 129,1067.2 131.4,1067.5C133.5,1067.8 135.6,1068.1 137.7,1068.6C139.8,1069.1 141.8,1070 143.9,1070.7C146.3,1071.6 148.7,1072.3 151.1,1073.4C153.2,1074.3 155.2,1075.6 157.3,1077C159.4,1078.4 161.5,1080.1 163.6,1081.8C166,1083.7 168.3,1085.5 170.7,1087.7C172.8,1089.7 174.9,1091.9 177,1094.3C179.1,1096.7 181.1,1099.7 183.2,1102.3C185.5,1105.2 187.7,1108.1 190,1110.9C192.2,1113.6 194.4,1116.9 196.6,1118.6C198.7,1120.2 200.8,1122.1 202.9,1122.1C205,1122.1 207,1117.7 209.1,1115.4C211.5,1112.7 213.9,1109.3 216.2,1107C218.3,1105 220.4,1102 222.5,1102C224.6,1102 226.7,1102 228.8,1102C231.1,1102 233.5,1104.6 235.9,1105.9C238,1107.1 240,1108.8 242.1,1109.5C244.2,1110.2 246.3,1110.9 248.4,1110.9C250.6,1110.9 252.8,1108.1 255,1105.5C257.3,1102.8 259.5,1096.8 261.8,1091.2C263.9,1086.2 265.9,1079.3 268,1073.4C270.1,1067.4 272.2,1060.5 274.3,1055.5C276.7,1049.9 279,1045.8 281.4,1041.2C283.8,1036.6 286.2,1032 288.6,1027.9C290.7,1024.4 292.7,1020.9 294.8,1018C296.9,1015.1 298.9,1012.2 301,1010C303.4,1007.5 305.8,1005.8 308.2,1003.8C312.4,1000.1 316.5,996.2 320.7,993C324.9,989.8 329,986.5 333.2,984.1C337.4,981.7 341.5,979.5 345.7,977.9C350.5,976.1 355.2,974 360,973.4C364.2,972.9 368.3,972.5 372.5,972.5C375,972.5 377.5,972.5 380,972.5C386,972.5 391.9,973 397.9,973.4C403.8,973.8 409.8,974.4 415.7,975.2C419.3,975.7 422.8,976.1 426.4,977C430,977.9 433.5,979.8 437.1,981.4C440.7,983 444.3,984.7 447.9,986.8C451.5,988.8 455,991.3 458.6,993.9C462.2,996.5 465.7,999.7 469.3,1002.9C472.9,1006.1 476.4,1009.2 480,1013C483.6,1016.8 487.1,1023.2 490.7,1026C495.5,1029.7 500.2,1032.6 505,1034C509.8,1035.4 514.5,1035.9 519.3,1036.8C522.9,1037.4 526.4,1037.7 530,1038.6C533.6,1039.5 537.1,1042.5 540.7,1044.8C546.1,1048.2 551.4,1052.1 556.8,1056.4C561.9,1060.4 566.9,1065.3 572,1069.8C577,1074.3 582.1,1079.1 587.1,1083.2C592.2,1087.4 597.2,1091.4 602.3,1094.8C607.4,1098.2 612.4,1101.2 617.5,1103.8C622.3,1106.1 627,1108.6 631.8,1110C637.2,1111.6 642.5,1112.4 647.9,1113.6C650.5,1114.2 653.1,1114.8 655.7,1115.4C658.1,1116 660.5,1116.5 662.9,1117.1C665.3,1117.7 667.6,1118.5 670,1119.3C672.7,1120.2 675.3,1121.3 678,1122.1C680.6,1122.9 683.1,1124.3 685.7,1124.3C688.2,1124.3 690.7,1123.6 693.2,1122.9C695.6,1122.2 698,1119.9 700.4,1119.3C702.9,1118.7 705.4,1118 707.9,1118C710.4,1118 713,1121 715.5,1122.9C718,1124.7 720.5,1129.3 723,1129.3C725.6,1129.3 728.1,1127.7 730.7,1126.1C733.1,1124.6 735.5,1119.4 737.9,1116.2C740.6,1112.8 743.2,1109.7 745.9,1106.4C748.4,1103.3 750.9,1099.9 753.4,1097C756,1094 758.5,1091.2 761.1,1088.6C763.5,1086.2 765.8,1083.9 768.2,1082C770.8,1079.9 773.3,1078 775.9,1076.4C778.4,1074.9 780.9,1073.6 783.4,1072.5C786,1071.4 788.5,1070.3 791.1,1069.5C793.6,1068.8 796.1,1068.1 798.6,1067.7C801,1067.3 803.3,1066.8 805.7,1066.8C808.4,1066.8 811.1,1066.8 813.8,1066.8C818.8,1066.8 823.9,1066.5 828.9,1066.2C834.3,1065.9 839.6,1064.8 845,1063.6C849.8,1062.6 854.5,1060.7 859.3,1059.1C864.1,1057.5 868.8,1056 873.6,1053.8C878.4,1051.5 883.1,1047.9 887.9,1044.8C892.6,1041.7 897.4,1038.2 902.1,1035C905.7,1032.6 909.3,1030.3 912.9,1027.9C915.9,1025.9 918.8,1024 921.8,1022 M118,1306.4C120.1,1305.4 122.2,1304.2 124.3,1302.9C126.7,1301.4 129,1299.8 131.4,1297.5C133.5,1295.5 135.6,1292.7 137.7,1289.5C139.8,1286.4 141.8,1281.9 143.9,1277.9C146.2,1273.5 148.4,1269 150.7,1263.9C152.8,1259.2 154.9,1253.7 157,1248.4C159.2,1242.9 161.4,1237 163.6,1231.4C165.9,1225.7 168.1,1220.8 170.4,1214.5C172.3,1209.2 174.2,1201.9 176.1,1196.6C178.5,1190 180.8,1184.6 183.2,1178.8C185.3,1173.5 187.4,1168 189.5,1163.2C191.7,1158.1 193.9,1151.9 196.1,1148.9C198.4,1145.8 200.6,1142.1 202.9,1142.1C205,1142.1 207,1144.9 209.1,1147.1C211.3,1149.4 213.5,1153.8 215.7,1157.3C217.8,1160.7 220,1164.4 222.1,1168C224.3,1171.7 226.5,1175.5 228.8,1179.3C231,1183.1 233.2,1187.1 235.5,1190.9C237.6,1194.5 239.7,1197.8 241.8,1201.6C244,1205.6 246.2,1210.2 248.4,1214.3C250.5,1218.2 252.5,1222.1 254.6,1225.7C256.9,1229.6 259.1,1233 261.4,1236.8C263.6,1240.4 265.8,1244.3 268,1247.9C270.2,1251.5 272.4,1255.1 274.6,1258.6C276.8,1262.1 278.9,1265.5 281.1,1268.9C283.3,1272.3 285.5,1275.8 287.7,1279.1C289.9,1282.4 292.1,1285.4 294.3,1288.6C296.4,1291.7 298.6,1295 300.7,1298C302.9,1301.1 305.1,1304 307.3,1306.8C309.5,1309.6 311.7,1312.4 313.9,1315C316.1,1317.6 318.2,1320.1 320.4,1322.5C322.6,1324.9 324.8,1327.1 327,1329.3C329.1,1331.4 331.1,1333.6 333.2,1335.4C335.5,1337.4 337.7,1339.1 340,1340.7C342.2,1342.2 344.4,1343.5 346.6,1344.8C348.8,1346.1 351,1347.4 353.2,1348.4C355.3,1349.4 357.5,1350.4 359.6,1351.1C361.8,1351.8 364,1352.7 366.2,1352.9C368.3,1353.1 370.4,1353.2 372.5,1353.2C374.6,1353.2 376.7,1352.2 378.8,1351.4C381.5,1350.3 384.3,1348.7 387.1,1346.6C389.8,1344.6 392.5,1341.5 395.2,1338.2C397.6,1335.3 399.9,1331.7 402.3,1327.9C404.9,1323.7 407.4,1318.7 410,1313.6C412.5,1308.7 415,1303.3 417.5,1297.9C420.1,1292.3 422.6,1286.5 425.2,1280.5C427.7,1274.6 430.2,1268.2 432.7,1262.1C435.3,1255.9 437.8,1249.7 440.4,1243.6C442.9,1237.7 445.4,1231.8 447.9,1226.1C450.3,1220.7 452.6,1218.7 455,1210C456.2,1205.6 457.4,1187.7 458.6,1184.1C460.1,1179.7 461.5,1179 463,1176C464.2,1173.6 465.4,1170.8 466.6,1168C467.8,1165.2 469,1161.7 470.2,1159.1C471.6,1156.1 472.9,1154 474.3,1151.1C475.5,1148.6 476.7,1145.6 477.9,1143C479.2,1140.2 480.5,1137.5 481.8,1135C483.1,1132.5 484.4,1130.3 485.7,1127.9C487,1125.5 488.2,1123.1 489.5,1120.7C490.7,1118.5 491.8,1115.9 493,1113.9C494.3,1111.6 495.7,1109.7 497,1107.9C498.3,1106.1 499.6,1104.6 500.9,1102.9C502.3,1101.1 503.6,1099 505,1097.5C507.4,1095 509.7,1092.5 512.1,1091.2C514.5,1090 516.9,1088.6 519.3,1088.6C522,1088.6 524.6,1089.6 527.3,1090.7C529.7,1091.7 532.1,1094.7 534.5,1097C537,1099.4 539.5,1102.2 542,1105.2C544.5,1108.2 547.1,1111.6 549.6,1115C552.1,1118.4 554.6,1122.2 557.1,1125.7C559.7,1129.3 562.2,1132.8 564.8,1136.4C567.3,1139.9 569.8,1143.6 572.3,1147.1C574.9,1150.7 577.4,1154.2 580,1157.7C582.4,1161 584.7,1164.5 587.1,1167.5C589.7,1170.8 592.2,1173.6 594.8,1176.6C597.3,1179.5 599.8,1182.8 602.3,1185.4C604.9,1188.1 607.4,1190.3 610,1192.5C612.5,1194.6 615,1196.7 617.5,1198.4C620,1200.1 622.5,1201.7 625,1202.9C627.6,1204.1 630.1,1205.4 632.7,1205.9C635.2,1206.4 637.7,1207 640.2,1207C642.8,1207 645.3,1206.1 647.9,1205.2C650.3,1204.4 652.6,1202.3 655,1200.7C657.6,1198.9 660.3,1197 662.9,1194.8C665.3,1192.8 667.6,1189.8 670,1188C672.6,1186.1 675.1,1183.4 677.7,1183.2C680.2,1183 682.7,1183.1 685.2,1182.9C687.8,1182.7 690.3,1182.5 692.9,1181.8C695.4,1181.2 697.9,1176.4 700.4,1173.4C702.9,1170.4 705.4,1166.9 707.9,1163.6C710.4,1160.2 713,1156.5 715.5,1153.4C718,1150.3 720.5,1144.8 723,1144.8C725.6,1144.8 728.1,1146.8 730.7,1148.9C733.1,1150.9 735.5,1157.2 737.9,1161.8C740.4,1166.7 743,1171.9 745.5,1177.5C748,1183 750.5,1189.4 753,1195.4C755.6,1201.5 758.1,1207.4 760.7,1213.8C763.2,1220 765.7,1226.8 768.2,1233.2C770.8,1239.7 773.3,1246.3 775.9,1252.5C778.4,1258.5 780.9,1264.6 783.4,1269.8C786,1275.2 788.5,1280.3 791.1,1284.6C793.6,1288.8 796.1,1292.7 798.6,1295.7C801,1298.5 803.3,1301.7 805.7,1302.9C808.4,1304.2 811.1,1305.5 813.8,1305.5C817,1305.5 820.3,1304.8 823.6,1304.3C828.4,1303.5 833.1,1301.9 837.9,1300.2C842.6,1298.5 847.4,1296 852.1,1293.6C856.3,1291.5 860.4,1289.4 864.6,1286.4C868.2,1283.8 871.8,1280.4 875.4,1276.1C878.4,1272.5 881.3,1266.6 884.3,1261.8C886.7,1258 889,1254.5 891.4,1250.2C893.2,1247 895,1243.2 896.8,1239.5C898.6,1235.8 900.3,1231.7 902.1,1227.9C903.9,1224 905.7,1220.4 907.5,1216.2C909,1212.8 910.5,1208.8 912,1205C913.3,1201.7 914.7,1198.4 916,1195C917.9,1190 919.9,1184.9 921.8,1179.6 M165,1426C166.9,1422.8 168.8,1419.2 170.7,1415.4C172.6,1411.6 174.5,1406.9 176.4,1402.9C178.7,1398.2 180.9,1394 183.2,1389.5C185.4,1385.1 187.6,1380.6 189.8,1376.1C192,1371.7 194.1,1367.4 196.2,1362.7C198.3,1358.1 200.4,1353 202.5,1348C204.8,1342.5 207,1337.5 209.3,1331.1C211.4,1325.1 213.6,1317.9 215.7,1310.5C217.8,1303.1 220,1294.6 222.1,1286.2C224.3,1277.6 226.5,1268.5 228.8,1259.5C231,1250.4 233.2,1241.4 235.5,1231.8C237.1,1224.8 238.8,1214.5 240.4,1210C241.3,1207.6 242.1,1207 243,1204.6C244.8,1199.6 246.6,1185.7 248.4,1179.3C250.5,1172 252.5,1165.4 254.6,1161.8C256.7,1158.1 258.8,1153.8 260.9,1153.8C263.3,1153.8 265.6,1154.2 268,1154.6C272.4,1155.4 276.7,1158.3 281.1,1160.5C285.4,1162.6 289.6,1165.6 293.9,1167.7C298.4,1169.9 302.8,1171.6 307.3,1173.4C311.8,1175.2 316.2,1176.9 320.7,1178.4C324.9,1179.8 329,1181.5 333.2,1182.3C337.4,1183.1 341.5,1183.5 345.7,1184.1C350.5,1184.7 355.2,1185.5 360,1185.9C364.2,1186.3 368.3,1186.8 372.5,1186.8C375,1186.8 377.5,1186.8 380,1186.8C386,1186.8 391.9,1187.8 397.9,1188.6C403.8,1189.4 409.8,1190.7 415.7,1192.1C420.5,1193.3 425.2,1195.7 430,1196.6C434.2,1197.4 438.3,1198.4 442.5,1198.4C445.5,1198.4 448.4,1197.3 451.4,1195.7C452.6,1195 453.8,1192.5 455,1190.4C456,1188.6 457,1186.4 458,1184 M440,1234C443.8,1228.3 447.6,1223.2 451.4,1218.9C454.4,1215.5 457.4,1212.7 460.4,1210C464,1206.8 467.5,1204.1 471.1,1201C474.7,1197.9 478.2,1195.7 481.8,1191.2C484.2,1188.3 486.5,1182.2 488.9,1177.9C491.6,1173 494.3,1167.9 497,1163.6C499.7,1159.4 502.3,1155.2 505,1152C507.4,1149.2 509.7,1145.8 512.1,1144.8C514.5,1143.8 516.9,1143 519.3,1143C521.7,1143 524,1144.6 526.4,1145.7C529.1,1147 531.8,1149 534.5,1151.1C537.2,1153.1 539.8,1155.3 542.5,1158.2C544.9,1160.8 547.2,1164.8 549.6,1168C552.3,1171.7 555,1175.1 557.7,1178.8C560.1,1182 562.4,1185.3 564.8,1188.6C567.5,1192.4 570.2,1196.6 572.9,1200.2C575.3,1203.4 577.6,1206.3 580,1209.1C582.4,1211.9 584.7,1214.8 587.1,1217.1C592.2,1222 597.2,1226.9 602.3,1229.6C605,1231 607.7,1232.9 610.4,1232.9C612.8,1232.9 615.1,1232.6 617.5,1232.3C622.6,1231.7 627.6,1229.8 632.7,1227.9C637.8,1226 642.8,1222.6 647.9,1219.8C650.5,1218.4 653.1,1216.8 655.7,1215.4C658.1,1214.1 660.5,1213.2 662.9,1211.8C665.3,1210.4 667.6,1208.3 670,1206.4C672.6,1204.4 675.1,1202.3 677.7,1200.2C680.2,1198.1 682.7,1193.9 685.2,1193.9C687.8,1193.9 690.3,1195.8 692.9,1198.4C694.8,1200.3 696.7,1209.8 698.6,1215.4C699.2,1217.2 699.8,1218.8 700.4,1220.7C702.9,1228.8 705.4,1239.1 707.9,1248.9C710.4,1258.9 713,1269.8 715.5,1280.2C718,1290.5 720.5,1301.3 723,1310.9C725.6,1320.7 728.1,1330.1 730.7,1338.6C733.2,1346.9 735.7,1355 738.2,1361.8C740.8,1368.8 743.3,1374.7 745.9,1380.5C748.4,1386.2 750.9,1391.8 753.4,1396.6C756,1401.5 758.5,1406.3 761.1,1410C763.5,1413.4 765.8,1415.9 768.2,1418.6C770.8,1421.6 773.4,1424.4 776,1427 M440,1428C441.3,1425.3 442.6,1421.9 443.9,1418C445.2,1414 446.6,1408.7 447.9,1403.8C449.1,1399.4 450.2,1394.6 451.4,1390.4C452.8,1385.5 454.1,1381 455.5,1376.4C456.8,1371.9 458.2,1367.8 459.5,1363.2C460.7,1359.2 461.8,1354.3 463,1350.5C464.3,1346.1 465.7,1342.6 467,1338.6C468.2,1335.1 469.3,1331.1 470.5,1327.9C471.8,1324.4 473,1321.1 474.3,1318.4C476.8,1313.1 479.3,1307.9 481.8,1305C484.5,1301.9 487.1,1299.1 489.8,1298C492.5,1296.8 495.2,1295.8 497.9,1295.7C501.5,1295.5 505,1295.4 508.6,1295.4C512.2,1295.4 515.7,1295.4 519.3,1295.4C522.9,1295.4 526.4,1295.4 530,1295.4C533.9,1295.4 537.7,1294.8 541.6,1294.8C546.7,1294.8 551.7,1294.8 556.8,1294.8C561.9,1294.8 566.9,1296.2 572,1297.1C577,1298 582.1,1299.2 587.1,1300.7C592.2,1302.2 597.2,1304.8 602.3,1307C607.4,1309.2 612.4,1311.9 617.5,1314.1C622.6,1316.3 627.6,1318.8 632.7,1320.4C637.8,1322 642.8,1323.2 647.9,1324.3C650.2,1324.8 652.5,1325.4 654.8,1325.7C657.5,1326 660.2,1326.1 662.9,1326.4C665.3,1326.7 667.6,1327.1 670,1327.5C672.6,1327.9 675.1,1328.3 677.7,1328.8C680.2,1329.2 682.7,1329.4 685.2,1330C687.8,1330.6 690.3,1331.8 692.9,1332.9C695.4,1333.9 697.9,1335 700.4,1336.4C702.9,1337.8 705.4,1340 707.9,1342.1C710.4,1344.2 713,1346.2 715.5,1348.9C718,1351.5 720.5,1355.1 723,1358.6C725.6,1362.2 728.1,1366 730.7,1370.4C733.1,1374.5 735.5,1379.9 737.9,1384.6C740.4,1389.6 743,1394.6 745.5,1399.6C748,1404.6 750.5,1408.8 753,1414.5C754.3,1417.6 755.7,1421.2 757,1425 M180,1426C181.1,1421.1 182.1,1416.2 183.2,1413.6C185.4,1408.3 187.6,1406.7 189.8,1402.9C192,1399.2 194.1,1395.5 196.2,1391.2C198.3,1387.2 200.4,1382 202.5,1377.9C204.8,1373.4 207,1369 209.3,1365.4C211.4,1362 213.6,1358.8 215.7,1356.4C217.8,1354 220,1351.3 222.1,1350.2C224.3,1349.1 226.5,1347.9 228.8,1347.9C231,1347.9 233.2,1348.1 235.5,1348.4C237.7,1348.7 239.9,1350.2 242.1,1351.6C244.2,1352.9 246.3,1355.1 248.4,1357.3C250.6,1359.6 252.8,1362.4 255,1365.4C257.1,1368.3 259.3,1371.7 261.4,1375.2C263.6,1378.8 265.8,1382.8 268,1386.8C270.2,1390.8 272.4,1394.8 274.6,1399.3C276.8,1403.7 278.9,1408.6 281.1,1413.6C282.1,1415.9 283.1,1417.7 284.1,1420.7C284.7,1422.6 285.4,1425.2 286,1428 M118,1420C125.3,1420.6 132.7,1421 140,1421C148.3,1421 156.7,1420 165,1420C169.3,1420 173.7,1423.3 178,1426 M760,1424C762.7,1421.7 765.5,1418.9 768.2,1418.9C774.8,1418.9 781.3,1420.7 787.9,1420.7C796.5,1420.7 805.1,1420.3 813.8,1419.8C820,1419.5 826.2,1419 832.5,1418C837.3,1417.2 842,1414.6 846.8,1411.8C850.4,1409.7 853.9,1406.7 857.5,1402.9C860.5,1399.8 863.4,1394.8 866.4,1390.4C869.4,1385.9 872.4,1381.1 875.4,1376.1C877.8,1372.1 880.1,1367.3 882.5,1363.6C885.5,1358.9 888.4,1354.2 891.4,1351.1C895,1347.3 898.5,1344.3 902.1,1342.1C905.7,1339.9 909.3,1338.1 912.9,1336.8C915.9,1335.7 918.8,1334.7 921.8,1334.1 M858,1428C860.8,1425.3 863.6,1422.8 866.4,1420.7C871.2,1417.2 875.9,1414.5 880.7,1411.8C885.5,1409.1 890.2,1406.4 895,1404.6C899.8,1402.8 904.5,1400.7 909.3,1400.2C913.5,1399.7 917.6,1399.3 921.8,1399.3 M400,815C403.5,816 406.9,817 410.4,818C415.1,819.4 419.9,820.9 424.6,822.5C428.8,823.9 432.9,825.2 437.1,827C441.9,829.1 446.6,832.2 451.4,835C456.2,837.8 460.9,840.4 465.7,843.9C470.5,847.4 475.2,851.9 480,856.4C483.6,859.7 487.1,864 490.7,867.1C494.3,870.2 497.8,873.1 501.4,875.2C505,877.3 508.5,879.8 512.1,880.5C514.5,881 516.9,881.4 519.3,881.4C522.3,881.4 525.2,879.3 528.2,877.9C532.4,876 536.5,873.5 540.7,870.7C544.3,868.3 547.8,864.6 551.4,861.8C553.8,859.9 556.2,858.3 558.6,856.4C561,854.5 563.3,852.3 565.7,850.2C568.1,848.1 570.5,845.9 572.9,843.9C575.3,841.9 577.6,839.9 580,838 M525,812C529,814.1 533.1,816 537.1,817.1C543.7,818.8 550.2,818.8 556.8,820.7C562.2,822.2 567.5,826.9 572.9,830.5C577.6,833.7 582.4,837.8 587.1,841.2C591.9,844.7 596.6,849.2 601.4,851.1C606.8,853.2 612.1,855.5 617.5,855.5C622.3,855.5 627,853.1 631.8,852C637.2,850.7 642.5,848.4 647.9,848.4C652.9,848.4 657.9,851 662.9,852.9C667.6,854.7 672.4,857.5 677.1,860C681.9,862.5 686.6,865.8 691.4,868C696.8,870.5 702.1,872.7 707.5,874.3C712.3,875.8 717,877.9 721.8,877.9C727.2,877.9 732.5,877 737.9,877C742.6,877 747.4,877.5 752.1,877.9C757.5,878.4 762.8,879.6 768.2,880.5C773,881.3 777.7,882.5 782.5,883.2C787.9,884 793.2,885 798.6,885C803.6,885 808.7,885 813.8,885C817,885 820.3,886 823.6,886.8C828.4,887.9 833.1,889.9 837.9,892.1C842.6,894.3 847.4,897.9 852.1,901.1C856.9,904.4 861.6,908.6 866.4,911.8C871.2,915 875.9,918.7 880.7,920.7C885.5,922.7 890.2,925.2 895,925.2C899.8,925.2 904.5,925.2 909.3,925.2C913.5,925.2 917.6,924.7 921.8,924.3 M605,813C607.4,815 609.7,817.4 612.1,818C619.3,819.7 626.4,819.3 633.6,820.7C638.4,821.6 643.1,824.3 647.9,826C652.9,827.8 657.9,829.1 662.9,831.4C667.6,833.6 672.4,837.1 677.1,840.4C682.5,844.1 687.8,849 693.2,852.9C698,856.4 702.7,860.6 707.5,862.7C712.9,865.1 718.2,868 723.6,868C728.4,868 733.1,866.8 737.9,865.4C742.6,864 747.4,858.5 752.1,854.6C757.5,850.2 762.8,845.2 768.2,840.4C771.2,837.7 774.1,835.4 777.1,832.3C779.5,829.8 781.9,825.7 784.3,823.4C786.7,821.2 789,820 791.4,818C793.3,816.5 795.1,814.8 797,813 M580,836C582.4,835.6 584.7,835.3 587.1,835C592.5,834.3 597.8,833.2 603.2,833.2C608,833.2 612.7,837 617.5,838.6C622.3,840.2 627,843 631.8,843C636.6,843 641.3,839.8 646.1,837.7C649.1,836.4 652,835.1 655,833C657.3,831.4 659.7,828.5 662,826C664.1,823.8 666.1,821.7 668.2,818.9C669.5,817.2 670.7,815.2 672,813 M853,813C855.1,814.8 857.2,816.5 859.3,818C863.5,821 867.6,822.9 871.8,826C876,829.1 880.1,833.3 884.3,836.8C887.9,839.8 891.4,843.3 895,845.7C899.2,848.5 903.3,851 907.5,852.9C912.3,855.1 917,857 921.8,858.2 M850,813C856.7,815.7 863.3,818 870,819C876.7,820 883.3,821 890,821C900.6,821 911.2,821 921.8,821" fill="none" stroke="#000" stroke-width="4.2" stroke-linejoin="round"/><g fill="#fff" stroke="#0000ff"><use href="#k14" x="315.4" y="812.1"/><use href="#k39" x="309" y="817"/><use href="#k14" x="302.7" y="821.4"/><use href="#k39" x="296.3" y="825.4"/><use href="#k14" x="289.9" y="830"/><use href="#k39" x="283.6" y="835.1"/><use href="#k14" x="277.2" y="840"/><use href="#k39" x="270.8" y="844.7"/><use href="#k14" x="264.5" y="848.7"/><use href="#k39" x="258.1" y="852.2"/><use href="#k14" x="251.7" y="855"/><use href="#k39" x="245.3" y="857.2"/><use href="#k14" x="239" y="859.3"/><use href="#k39" x="232.6" y="861.4"/><use href="#k14" x="226.2" y="861.8"/><use href="#k39" x="219.9" y="861.8"/><use href="#k14" x="213.5" y="861.6"/><use href="#k39" x="207.1" y="860.8"/><use href="#k14" x="200.8" y="859.5"/><use href="#k39" x="194.4" y="857.2"/><use href="#k14" x="188" y="854.5"/><use href="#k39" x="181.7" y="851.5"/><use href="#k14" x="175.3" y="847.9"/><use href="#k39" x="168.9" y="843.1"/><use href="#k14" x="162.6" y="837.7"/><use href="#k39" x="156.2" y="831.7"/><use href="#k14" x="149.8" y="826"/><use href="#k39" x="143.5" y="821.4"/><use href="#k14" x="137.1" y="815.9"/><use href="#k39" x="130.7" y="809.2"/></g><g fill="#fff" stroke="#0000ff"><use href="#k26" x="508.4" y="812.9"/><use href="#k28" x="504.7" y="814.7"/><use href="#k26" x="501.1" y="816.2"/><use href="#k28" x="497.4" y="817.4"/><use href="#k26" x="493.7" y="818.2"/><use href="#k28" x="490.1" y="818.9"/><use href="#k26" x="486.4" y="819.5"/><use href="#k28" x="482.7" y="820.1"/><use href="#k26" x="479.1" y="820.5"/><use href="#k28" x="475.4" y="820.8"/><use href="#k26" x="471.7" y="821"/><use href="#k28" x="468.1" y="821"/><use href="#k26" x="464.4" y="820.8"/><use href="#k28" x="460.7" y="820.5"/><use href="#k26" x="457.1" y="820"/><use href="#k28" x="453.4" y="819.5"/><use href="#k26" x="449.7" y="818.9"/><use href="#k28" x="446" y="818.2"/><use href="#k26" x="442.4" y="817.5"/><use href="#k28" x="438.7" y="816.7"/><use href="#k26" x="435" y="815.8"/><use href="#k28" x="431.4" y="814.6"/><use href="#k26" x="427.7" y="813.2"/><use href="#k28" x="424" y="811.7"/><use href="#k26" x="420.4" y="810.2"/></g><g fill="#fff" stroke="#ff0000"><use href="#k22" x="340.9" y="810.4"/><use href="#k23" x="334.5" y="812.9"/><use href="#k22" x="328.1" y="815.8"/><use href="#k23" x="321.8" y="819.2"/><use href="#k22" x="315.4" y="823"/><use href="#k23" x="309" y="827.3"/><use href="#k22" x="302.7" y="832.1"/><use href="#k23" x="296.3" y="837.2"/><use href="#k22" x="289.9" y="842.3"/><use href="#k23" x="283.6" y="847.5"/><use href="#k22" x="277.2" y="853.1"/><use href="#k23" x="270.8" y="859.1"/><use href="#k21" x="264.5" y="864.8"/><use href="#k22" x="258.1" y="870.3"/><use href="#k20" x="251.7" y="875.7"/><use href="#k15" x="245.3" y="880.9"/></g><g fill="#fff" stroke="#0000ff"><use href="#k11" x="340.9" y="810.4"/><use href="#k12" x="334.5" y="812.9"/><use href="#k11" x="328.1" y="815.8"/><use href="#k12" x="321.8" y="819.2"/><use href="#k11" x="315.4" y="823"/><use href="#k12" x="309" y="827.3"/><use href="#k11" x="302.7" y="832.1"/><use href="#k12" x="296.3" y="837.2"/><use href="#k11" x="289.9" y="842.3"/><use href="#k12" x="283.6" y="847.5"/><use href="#k11" x="277.2" y="853.1"/><use href="#k12" x="270.8" y="859.1"/><use href="#k11" x="264.5" y="864.8"/><use href="#k13" x="258.1" y="870.3"/><use href="#k13" x="251.7" y="875.7"/><use href="#k15" x="245.3" y="880.9"/><use href="#k16" x="239" y="885.2"/><use href="#k20" x="232.6" y="888.9"/><use href="#k8" x="226.2" y="891.1"/><use href="#k26" x="219.9" y="892.6"/><use href="#k10" x="213.5" y="893.2"/><use href="#k31" x="207.1" y="893.5"/><use href="#k12" x="200.8" y="893.5"/><use href="#k35" x="194.4" y="892.7"/><use href="#k13" x="188" y="891.5"/><use href="#k37" x="181.7" y="889.7"/><use href="#k13" x="175.3" y="888.3"/><use href="#k37" x="168.9" y="887.4"/><use href="#k13" x="162.6" y="886.7"/><use href="#k38" x="156.2" y="886.2"/><use href="#k13" x="149.8" y="885.8"/><use href="#k38" x="143.5" y="885.3"/><use href="#k13" x="137.1" y="885"/><use href="#k39" x="130.7" y="885"/><use href="#k14" x="124.4" y="885"/><use href="#k39" x="118" y="885"/></g><g fill="#fff" stroke="#ff0000"><use href="#k20" x="427.7" y="858"/><use href="#k25" x="424" y="853.6"/><use href="#k26" x="420.4" y="849.4"/><use href="#k31" x="416.7" y="845.7"/><use href="#k31" x="413" y="842.6"/><use href="#k34" x="409.4" y="839.9"/><use href="#k33" x="405.7" y="837.3"/><use href="#k36" x="402" y="835.2"/><use href="#k35" x="398.4" y="833.4"/><use href="#k37" x="394.7" y="831.9"/><use href="#k35" x="391" y="830.4"/><use href="#k38" x="387.4" y="829.1"/><use href="#k36" x="383.7" y="828.2"/><use href="#k38" x="380" y="827.9"/><use href="#k37" x="376.4" y="827.9"/><use href="#k39" x="372.7" y="827.9"/><use href="#k37" x="366.3" y="828.7"/><use href="#k38" x="360" y="830.5"/><use href="#k36" x="353.6" y="833.4"/><use href="#k38" x="347.2" y="837.3"/><use href="#k35" x="340.9" y="841.8"/><use href="#k37" x="334.5" y="847.2"/><use href="#k34" x="328.1" y="853.7"/><use href="#k36" x="321.8" y="861.3"/><use href="#k33" x="315.4" y="868.8"/><use href="#k34" x="309" y="876.5"/><use href="#k32" x="302.7" y="884"/><use href="#k33" x="296.3" y="891.2"/><use href="#k30" x="289.9" y="898.3"/><use href="#k31" x="283.6" y="905.2"/><use href="#k29" x="277.2" y="911.2"/><use href="#k30" x="270.8" y="916.6"/><use href="#k27" x="264.5" y="921.8"/><use href="#k28" x="258.1" y="926.8"/><use href="#k26" x="251.7" y="932.1"/><use href="#k27" x="245.3" y="937.8"/><use href="#k25" x="239" y="942.6"/><use href="#k26" x="232.6" y="946.6"/><use href="#k25" x="226.2" y="950.2"/><use href="#k26" x="219.9" y="953.6"/><use href="#k24" x="213.5" y="956.2"/><use href="#k25" x="207.1" y="958.1"/><use href="#k23" x="200.8" y="959.6"/><use href="#k24" x="194.4" y="960.9"/><use href="#k22" x="188" y="961.4"/><use href="#k23" x="181.7" y="960.9"/><use href="#k21" x="175.3" y="959.6"/><use href="#k22" x="168.9" y="957.3"/><use href="#k20" x="162.6" y="954.5"/><use href="#k21" x="156.2" y="951"/><use href="#k17" x="149.8" y="946.8"/><use href="#k14" x="143.5" y="942.8"/></g><g fill="#fff" stroke="#0000ff"><use href="#k32" x="921.8" y="1172"/><use href="#k31" x="919.1" y="1161.4"/><use href="#k33" x="916.4" y="1152.4"/><use href="#k32" x="913.7" y="1144.4"/><use href="#k35" x="911" y="1136.3"/><use href="#k35" x="908.3" y="1128.3"/><use href="#k38" x="905.6" y="1121"/><use href="#k38" x="902.9" y="1114.2"/><use href="#k41" x="900.2" y="1107.7"/><use href="#k40" x="897.5" y="1101.4"/><use href="#k43" x="894.8" y="1095.5"/><use href="#k41" x="892.1" y="1089.9"/><use href="#k44" x="889.4" y="1084.8"/><use href="#k42" x="886.7" y="1080.1"/><use href="#k45" x="884" y="1075.7"/><use href="#k43" x="881.3" y="1071.5"/><use href="#k46" x="878.6" y="1067.6"/><use href="#k44" x="875.9" y="1063.8"/><use href="#k47" x="873.2" y="1060.2"/><use href="#k46" x="870.5" y="1056.9"/><use href="#k48" x="867.8" y="1053.8"/><use href="#k47" x="865" y="1050.9"/><use href="#k50" x="862.3" y="1048.2"/><use href="#k48" x="859.6" y="1045.7"/><use href="#k51" x="856.9" y="1043.5"/><use href="#k48" x="854.2" y="1041.5"/><use href="#k51" x="851.5" y="1039.7"/><use href="#k49" x="848.8" y="1038"/><use href="#k51" x="846.1" y="1036.5"/><use href="#k49" x="843.4" y="1035.1"/><use href="#k52" x="840.7" y="1033.8"/><use href="#k49" x="838" y="1032.5"/><use href="#k52" x="835.3" y="1031.3"/><use href="#k50" x="832.6" y="1030.4"/><use href="#k53" x="829.9" y="1029.7"/><use href="#k50" x="827.2" y="1029.4"/><use href="#k53" x="824.5" y="1029.2"/><use href="#k50" x="821.8" y="1029"/><use href="#k53" x="819.1" y="1028.9"/><use href="#k50" x="816.4" y="1028.8"/><use href="#k53" x="813.7" y="1028.8"/><use href="#k19" x="806.3" y="1028.8"/><use href="#k53" x="799" y="1028.8"/><use href="#k19" x="791.6" y="1028.8"/><use href="#k53" x="784.3" y="1028.8"/><use href="#k19" x="776.9" y="1028.8"/><use href="#k53" x="769.6" y="1028.8"/><use href="#k18" x="762.2" y="1028.1"/><use href="#k47" x="754.8" y="1025.9"/><use href="#k40" x="747.5" y="1022.8"/><use href="#k35" x="740.1" y="1018.1"/><use href="#k31" x="732.8" y="1015"/><use href="#k32" x="725.4" y="1012.5"/><use href="#k31" x="718.1" y="1009.5"/><use href="#k32" x="710.7" y="1006.2"/><use href="#k31" x="703.3" y="1002.2"/><use href="#k32" x="696" y="997.3"/><use href="#k31" x="688.6" y="991.7"/><use href="#k32" x="681.3" y="985.1"/><use href="#k31" x="673.9" y="978.6"/><use href="#k32" x="666.5" y="972.1"/><use href="#k30" x="659.2" y="967.6"/><use href="#k30" x="651.8" y="962.6"/><use href="#k26" x="644.5" y="954.8"/><use href="#k27" x="637.1" y="948.9"/><use href="#k25" x="629.8" y="944.7"/><use href="#k25" x="622.4" y="941.5"/><use href="#k23" x="615" y="940.1"/><use href="#k24" x="607.7" y="939.6"/><use href="#k22" x="600.3" y="939.5"/><use href="#k23" x="593" y="939.5"/><use href="#k22" x="585.6" y="939.5"/><use href="#k23" x="578.3" y="939.1"/><use href="#k22" x="570.9" y="938.4"/><use href="#k23" x="563.5" y="937"/><use href="#k22" x="556.2" y="935.4"/><use href="#k23" x="548.8" y="933.5"/><use href="#k22" x="541.5" y="930.8"/><use href="#k23" x="534.1" y="927.2"/><use href="#k22" x="526.8" y="922.8"/><use href="#k23" x="519.4" y="916.3"/><use href="#k22" x="515.7" y="916.2"/><use href="#k23" x="512.1" y="916.2"/><use href="#k22" x="508.4" y="916.2"/><use href="#k23" x="504.7" y="916.2"/><use href="#k22" x="501.1" y="916.2"/><use href="#k23" x="497.4" y="916.2"/><use href="#k22" x="493.7" y="916.2"/><use href="#k23" x="490.1" y="915.8"/><use href="#k22" x="486.4" y="915.1"/><use href="#k23" x="482.7" y="914.3"/><use href="#k22" x="479.1" y="912.5"/><use href="#k23" x="475.4" y="910"/><use href="#k21" x="471.7" y="907.4"/><use href="#k22" x="468.1" y="904.5"/><use href="#k21" x="464.4" y="901.3"/><use href="#k22" x="460.7" y="897.8"/><use href="#k20" x="457.1" y="893.8"/><use href="#k21" x="453.4" y="889.2"/><use href="#k20" x="449.7" y="884.8"/><use href="#k21" x="446" y="880.3"/><use href="#k20" x="442.4" y="875.9"/><use href="#k20" x="438.7" y="871.5"/><use href="#k19" x="435" y="867.2"/><use href="#k19" x="431.4" y="862.6"/><use href="#k18" x="427.7" y="858"/><use href="#k17" x="424" y="853.6"/><use href="#k14" x="420.4" y="849.4"/><use href="#k13" x="416.7" y="845.7"/><use href="#k11" x="413" y="842.6"/><use href="#k11" x="409.4" y="839.9"/><use href="#k10" x="405.7" y="837.3"/><use href="#k10" x="402" y="835.2"/><use href="#k9" x="398.4" y="833.4"/><use href="#k9" x="394.7" y="831.9"/><use href="#k9" x="391" y="830.4"/><use href="#k9" x="387.4" y="829.1"/><use href="#k9" x="383.7" y="828.2"/><use href="#k9" x="380" y="827.9"/><use href="#k9" x="376.4" y="827.9"/><use href="#k9" x="372.7" y="827.9"/><use href="#k9" x="366.3" y="828.7"/><use href="#k10" x="360" y="830.5"/><use href="#k10" x="353.6" y="833.4"/><use href="#k11" x="347.2" y="837.3"/><use href="#k10" x="340.9" y="841.8"/><use href="#k11" x="334.5" y="847.2"/><use href="#k11" x="328.1" y="853.7"/><use href="#k12" x="321.8" y="861.3"/><use href="#k11" x="315.4" y="868.8"/><use href="#k12" x="309" y="876.5"/><use href="#k11" x="302.7" y="884"/><use href="#k12" x="296.3" y="891.2"/><use href="#k11" x="289.9" y="898.3"/><use href="#k12" x="283.6" y="905.2"/><use href="#k11" x="277.2" y="911.2"/><use href="#k12" x="270.8" y="916.6"/><use href="#k11" x="264.5" y="921.8"/><use href="#k12" x="258.1" y="926.8"/><use href="#k11" x="251.7" y="932.1"/><use href="#k12" x="245.3" y="937.8"/><use href="#k11" x="239" y="942.6"/><use href="#k12" x="232.6" y="946.6"/><use href="#k11" x="226.2" y="950.2"/><use href="#k12" x="219.9" y="953.6"/><use href="#k11" x="213.5" y="956.2"/><use href="#k11" x="207.1" y="958.1"/><use href="#k10" x="200.8" y="959.6"/><use href="#k10" x="194.4" y="960.9"/><use href="#k9" x="188" y="961.4"/><use href="#k9" x="181.7" y="960.9"/><use href="#k9" x="175.3" y="959.6"/><use href="#k10" x="168.9" y="957.3"/><use href="#k10" x="162.6" y="954.5"/><use href="#k11" x="156.2" y="951"/><use href="#k11" x="149.8" y="946.8"/><use href="#k12" x="143.5" y="942.8"/><use href="#k11" x="137.1" y="939.7"/><use href="#k12" x="130.7" y="937.5"/><use href="#k11" x="124.4" y="936"/><use href="#k12" x="118" y="935"/></g><g fill="#fff" stroke="#ff0000"><use href="#k23" x="921.8" y="948.4"/><use href="#k22" x="919.1" y="948.4"/><use href="#k23" x="916.4" y="948.4"/><use href="#k22" x="913.7" y="948.4"/><use href="#k23" x="911" y="948.4"/><use href="#k22" x="908.3" y="948.4"/><use href="#k23" x="905.6" y="948.5"/><use href="#k22" x="902.9" y="948.7"/><use href="#k23" x="900.2" y="948.9"/><use href="#k22" x="897.5" y="949.1"/><use href="#k23" x="894.8" y="949.3"/><use href="#k22" x="892.1" y="949.5"/><use href="#k23" x="889.4" y="949.7"/><use href="#k22" x="886.7" y="950"/><use href="#k23" x="884" y="950.3"/><use href="#k22" x="881.3" y="950.6"/><use href="#k23" x="878.6" y="950.9"/><use href="#k22" x="875.9" y="951.3"/><use href="#k23" x="873.2" y="951.8"/><use href="#k22" x="870.5" y="952.5"/><use href="#k23" x="867.8" y="953.2"/><use href="#k22" x="865" y="954"/><use href="#k23" x="862.3" y="954.8"/><use href="#k23" x="859.6" y="955.6"/><use href="#k25" x="856.9" y="956.6"/><use href="#k25" x="854.2" y="957.6"/><use href="#k28" x="851.5" y="958.6"/><use href="#k27" x="848.8" y="959.5"/><use href="#k30" x="846.1" y="960.1"/><use href="#k29" x="843.4" y="960.7"/><use href="#k30" x="840.7" y="961.2"/><use href="#k29" x="838" y="961.7"/><use href="#k31" x="835.3" y="962.1"/><use href="#k29" x="832.6" y="962.4"/><use href="#k31" x="829.9" y="962.8"/><use href="#k30" x="827.2" y="963.1"/><use href="#k31" x="824.5" y="963.4"/><use href="#k30" x="821.8" y="963.6"/><use href="#k32" x="819.1" y="963.9"/><use href="#k30" x="816.4" y="964.2"/><use href="#k32" x="813.7" y="964.5"/><use href="#k29" x="806.3" y="965.8"/><use href="#k29" x="799" y="967.9"/><use href="#k27" x="791.6" y="972.5"/><use href="#k27" x="784.3" y="978.8"/><use href="#k24" x="776.9" y="986"/><use href="#k25" x="769.6" y="995.5"/><use href="#k22" x="762.2" y="1008"/><use href="#k22" x="372.7" y="946.6"/><use href="#k22" x="366.3" y="946.9"/><use href="#k23" x="360" y="947.1"/><use href="#k22" x="353.6" y="947.3"/><use href="#k23" x="347.2" y="947.5"/><use href="#k22" x="340.9" y="948.2"/><use href="#k23" x="334.5" y="949.1"/><use href="#k22" x="328.1" y="950"/><use href="#k23" x="321.8" y="951"/><use href="#k22" x="315.4" y="951.8"/><use href="#k23" x="309" y="952.6"/><use href="#k22" x="302.7" y="953.4"/><use href="#k22" x="296.3" y="954.2"/><use href="#k21" x="289.9" y="955.5"/><use href="#k22" x="283.6" y="957.5"/><use href="#k20" x="277.2" y="959.5"/><use href="#k21" x="270.8" y="961.6"/><use href="#k18" x="264.5" y="964.2"/><use href="#k22" x="188" y="1000.9"/><use href="#k23" x="181.7" y="999.6"/><use href="#k22" x="175.3" y="997.1"/><use href="#k24" x="168.9" y="992.3"/><use href="#k24" x="162.6" y="987"/><use href="#k27" x="156.2" y="982.5"/><use href="#k26" x="149.8" y="978.3"/><use href="#k28" x="143.5" y="973.7"/><use href="#k27" x="137.1" y="969.9"/><use href="#k29" x="130.7" y="967.7"/><use href="#k28" x="124.4" y="966.3"/><use href="#k30" x="118" y="965.4"/></g><g fill="#fff" stroke="#0000ff"><use href="#k18" x="921.8" y="948.4"/><use href="#k17" x="919.1" y="948.4"/><use href="#k18" x="916.4" y="948.4"/><use href="#k17" x="913.7" y="948.4"/><use href="#k18" x="911" y="948.4"/><use href="#k17" x="908.3" y="948.4"/><use href="#k18" x="905.6" y="948.5"/><use href="#k17" x="902.9" y="948.7"/><use href="#k18" x="900.2" y="948.9"/><use href="#k17" x="897.5" y="949.1"/><use href="#k18" x="894.8" y="949.3"/><use href="#k17" x="892.1" y="949.5"/><use href="#k18" x="889.4" y="949.7"/><use href="#k17" x="886.7" y="950"/><use href="#k18" x="884" y="950.3"/><use href="#k17" x="881.3" y="950.6"/><use href="#k18" x="878.6" y="950.9"/><use href="#k17" x="875.9" y="951.3"/><use href="#k18" x="873.2" y="951.8"/><use href="#k17" x="870.5" y="952.5"/><use href="#k18" x="867.8" y="953.2"/><use href="#k17" x="865" y="954"/><use href="#k18" x="862.3" y="954.8"/><use href="#k17" x="859.6" y="955.6"/><use href="#k16" x="856.9" y="956.6"/><use href="#k14" x="854.2" y="957.6"/><use href="#k14" x="851.5" y="958.6"/><use href="#k12" x="848.8" y="959.5"/><use href="#k12" x="846.1" y="960.1"/><use href="#k11" x="843.4" y="960.7"/><use href="#k12" x="840.7" y="961.2"/><use href="#k11" x="838" y="961.7"/><use href="#k12" x="835.3" y="962.1"/><use href="#k11" x="832.6" y="962.4"/><use href="#k12" x="829.9" y="962.8"/><use href="#k11" x="827.2" y="963.1"/><use href="#k12" x="824.5" y="963.4"/><use href="#k11" x="821.8" y="963.6"/><use href="#k12" x="819.1" y="963.9"/><use href="#k11" x="816.4" y="964.2"/><use href="#k12" x="813.7" y="964.5"/><use href="#k11" x="806.3" y="965.8"/><use href="#k12" x="799" y="967.9"/><use href="#k11" x="791.6" y="972.5"/><use href="#k12" x="784.3" y="978.8"/><use href="#k11" x="776.9" y="986"/><use href="#k12" x="769.6" y="995.5"/><use href="#k11" x="762.2" y="1008"/><use href="#k14" x="754.8" y="1021.8"/><use href="#k17" x="747.5" y="1036"/><use href="#k18" x="740.1" y="1047.1"/><use href="#k17" x="732.8" y="1058.4"/><use href="#k18" x="725.4" y="1070.5"/><use href="#k17" x="718.1" y="1081.7"/><use href="#k18" x="710.7" y="1090.8"/><use href="#k17" x="703.3" y="1092.9"/><use href="#k18" x="696" y="1090.4"/><use href="#k17" x="688.6" y="1081.5"/><use href="#k18" x="681.3" y="1067.3"/><use href="#k17" x="673.9" y="1050.3"/><use href="#k18" x="666.5" y="1032.9"/><use href="#k18" x="659.2" y="1016"/><use href="#k20" x="651.8" y="1002.8"/><use href="#k20" x="644.5" y="993.8"/><use href="#k22" x="637.1" y="987"/><use href="#k22" x="629.8" y="981.3"/><use href="#k23" x="622.4" y="977.3"/><use href="#k22" x="615" y="974.1"/><use href="#k23" x="607.7" y="971.3"/><use href="#k22" x="600.3" y="970.1"/><use href="#k23" x="593" y="969.8"/><use href="#k22" x="585.6" y="970.8"/><use href="#k23" x="578.3" y="972.8"/><use href="#k22" x="570.9" y="977"/><use href="#k23" x="563.5" y="981.5"/><use href="#k22" x="556.2" y="986.8"/><use href="#k24" x="548.8" y="992.8"/><use href="#k23" x="541.5" y="1000.5"/><use href="#k26" x="534.1" y="1009.5"/><use href="#k27" x="526.8" y="1015.7"/><use href="#k32" x="519.4" y="1021"/><use href="#k30" x="515.7" y="1019.2"/><use href="#k31" x="512.1" y="1016"/><use href="#k29" x="508.4" y="1012.9"/><use href="#k30" x="504.7" y="1009.6"/><use href="#k28" x="501.1" y="1006.1"/><use href="#k30" x="497.4" y="1002.5"/><use href="#k28" x="493.7" y="998.8"/><use href="#k30" x="490.1" y="995.1"/><use href="#k28" x="486.4" y="991.4"/><use href="#k30" x="482.7" y="987.7"/><use href="#k28" x="479.1" y="984"/><use href="#k30" x="475.4" y="980.2"/><use href="#k28" x="471.7" y="976.4"/><use href="#k30" x="468.1" y="972.8"/><use href="#k28" x="464.4" y="969.6"/><use href="#k30" x="460.7" y="966.6"/><use href="#k28" x="457.1" y="963.8"/><use href="#k30" x="453.4" y="961.2"/><use href="#k28" x="449.7" y="959"/><use href="#k30" x="446" y="956.9"/><use href="#k28" x="442.4" y="955"/><use href="#k29" x="438.7" y="953.2"/><use href="#k28" x="435" y="951.7"/><use href="#k29" x="431.4" y="950.3"/><use href="#k28" x="427.7" y="948.9"/><use href="#k29" x="424" y="947.6"/><use href="#k27" x="420.4" y="946.6"/><use href="#k29" x="416.7" y="945.8"/><use href="#k27" x="413" y="945.4"/><use href="#k28" x="409.4" y="945.1"/><use href="#k27" x="405.7" y="944.9"/><use href="#k28" x="402" y="944.7"/><use href="#k27" x="398.4" y="944.5"/><use href="#k28" x="394.7" y="944.4"/><use href="#k26" x="391" y="944.2"/><use href="#k28" x="387.4" y="944.1"/><use href="#k25" x="383.7" y="944"/><use href="#k23" x="380" y="944"/><use href="#k19" x="376.4" y="945.2"/><use href="#k17" x="372.7" y="946.6"/><use href="#k15" x="366.3" y="946.9"/><use href="#k16" x="360" y="947.1"/><use href="#k15" x="353.6" y="947.3"/><use href="#k15" x="347.2" y="947.5"/><use href="#k14" x="340.9" y="948.2"/><use href="#k15" x="334.5" y="949.1"/><use href="#k14" x="328.1" y="950"/><use href="#k14" x="321.8" y="951"/><use href="#k13" x="315.4" y="951.8"/><use href="#k14" x="309" y="952.6"/><use href="#k13" x="302.7" y="953.4"/><use href="#k15" x="296.3" y="954.2"/><use href="#k15" x="289.9" y="955.5"/><use href="#k17" x="283.6" y="957.5"/><use href="#k16" x="277.2" y="959.5"/><use href="#k18" x="270.8" y="961.6"/><use href="#k18" x="264.5" y="964.2"/><use href="#k19" x="258.1" y="967.1"/><use href="#k18" x="251.7" y="970.4"/><use href="#k20" x="245.3" y="974.1"/><use href="#k19" x="239" y="978.1"/><use href="#k20" x="232.6" y="982.6"/><use href="#k20" x="226.2" y="987.1"/><use href="#k21" x="219.9" y="991.9"/><use href="#k20" x="213.5" y="995.8"/><use href="#k21" x="207.1" y="999.1"/><use href="#k20" x="200.8" y="1000.4"/><use href="#k21" x="194.4" y="1000.9"/><use href="#k19" x="188" y="1000.9"/><use href="#k19" x="181.7" y="999.6"/><use href="#k17" x="175.3" y="997.1"/><use href="#k17" x="168.9" y="992.3"/><use href="#k15" x="162.6" y="987"/><use href="#k15" x="156.2" y="982.5"/><use href="#k13" x="149.8" y="978.3"/><use href="#k13" x="143.5" y="973.7"/><use href="#k11" x="137.1" y="969.9"/><use href="#k11" x="130.7" y="967.7"/><use href="#k10" x="124.4" y="966.3"/><use href="#k9" x="118" y="965.4"/></g><g fill="#fff" stroke="#00ff00"><use href="#k20" x="762.2" y="952.7"/><use href="#k23" x="754.8" y="953.7"/><use href="#k23" x="747.5" y="953.8"/><use href="#k24" x="740.1" y="952.7"/><use href="#k23" x="732.8" y="950.2"/><use href="#k25" x="725.4" y="946.7"/><use href="#k24" x="718.1" y="942.7"/><use href="#k25" x="710.7" y="938.7"/><use href="#k24" x="703.3" y="933.7"/><use href="#k25" x="696" y="928.2"/><use href="#k24" x="688.6" y="922.5"/><use href="#k25" x="681.3" y="916.8"/><use href="#k24" x="673.9" y="911.2"/><use href="#k25" x="666.5" y="905.7"/><use href="#k23" x="659.2" y="899.7"/><use href="#k24" x="651.8" y="893.5"/><use href="#k23" x="644.5" y="887.9"/><use href="#k24" x="637.1" y="881.8"/><use href="#k22" x="629.8" y="876.2"/><use href="#k23" x="622.4" y="872.2"/><use href="#k22" x="615" y="870.7"/></g><g fill="#fff" stroke="#ff0000"><use href="#k14" x="921.8" y="1010"/><use href="#k13" x="919.1" y="1008.2"/><use href="#k14" x="916.4" y="1006.4"/><use href="#k13" x="913.7" y="1004.6"/><use href="#k14" x="911" y="1002.9"/><use href="#k13" x="908.3" y="1001.1"/><use href="#k14" x="905.6" y="999.2"/><use href="#k13" x="902.9" y="997.1"/><use href="#k14" x="900.2" y="994.8"/><use href="#k13" x="897.5" y="992.5"/><use href="#k14" x="894.8" y="990.2"/><use href="#k13" x="892.1" y="988"/><use href="#k14" x="889.4" y="985.8"/><use href="#k13" x="886.7" y="983.5"/><use href="#k14" x="884" y="981.1"/><use href="#k13" x="881.3" y="978.5"/><use href="#k14" x="878.6" y="975.8"/><use href="#k13" x="875.9" y="973"/><use href="#k14" x="873.2" y="970.3"/><use href="#k13" x="870.5" y="967.5"/><use href="#k14" x="867.8" y="964.7"/><use href="#k13" x="865" y="962"/><use href="#k14" x="862.3" y="959.5"/><use href="#k13" x="859.6" y="957.1"/><use href="#k14" x="856.9" y="954.9"/><use href="#k13" x="854.2" y="952.7"/><use href="#k14" x="851.5" y="950.7"/><use href="#k13" x="848.8" y="948.7"/><use href="#k14" x="846.1" y="946.9"/><use href="#k13" x="843.4" y="945.1"/><use href="#k14" x="840.7" y="943.5"/><use href="#k13" x="838" y="942"/><use href="#k14" x="835.3" y="940.6"/><use href="#k13" x="832.6" y="939.4"/><use href="#k14" x="829.9" y="938.3"/><use href="#k15" x="776.9" y="947.8"/><use href="#k18" x="769.6" y="950.7"/><use href="#k17" x="762.2" y="952.7"/><use href="#k18" x="754.8" y="953.7"/><use href="#k17" x="747.5" y="953.8"/><use href="#k18" x="740.1" y="952.7"/><use href="#k17" x="732.8" y="950.2"/><use href="#k18" x="725.4" y="946.7"/><use href="#k17" x="718.1" y="942.7"/><use href="#k18" x="710.7" y="938.7"/><use href="#k17" x="703.3" y="933.7"/><use href="#k18" x="696" y="928.2"/><use href="#k17" x="688.6" y="922.5"/><use href="#k18" x="681.3" y="916.8"/><use href="#k17" x="673.9" y="911.2"/><use href="#k18" x="666.5" y="905.7"/><use href="#k17" x="659.2" y="899.7"/><use href="#k18" x="651.8" y="893.5"/><use href="#k17" x="644.5" y="887.9"/><use href="#k18" x="637.1" y="881.8"/><use href="#k17" x="629.8" y="876.2"/><use href="#k18" x="622.4" y="872.2"/><use href="#k17" x="615" y="870.7"/></g><g fill="#fff" stroke="#0000ff"><use href="#k12" x="921.8" y="1010"/><use href="#k11" x="919.1" y="1008.2"/><use href="#k12" x="916.4" y="1006.4"/><use href="#k11" x="913.7" y="1004.6"/><use href="#k12" x="911" y="1002.9"/><use href="#k11" x="908.3" y="1001.1"/><use href="#k12" x="905.6" y="999.2"/><use href="#k11" x="902.9" y="997.1"/><use href="#k12" x="900.2" y="994.8"/><use href="#k11" x="897.5" y="992.5"/><use href="#k12" x="894.8" y="990.2"/><use href="#k11" x="892.1" y="988"/><use href="#k12" x="889.4" y="985.8"/><use href="#k11" x="886.7" y="983.5"/><use href="#k12" x="884" y="981.1"/><use href="#k11" x="881.3" y="978.5"/><use href="#k12" x="878.6" y="975.8"/><use href="#k11" x="875.9" y="973"/><use href="#k12" x="873.2" y="970.3"/><use href="#k11" x="870.5" y="967.5"/><use href="#k12" x="867.8" y="964.7"/><use href="#k11" x="865" y="962"/><use href="#k12" x="862.3" y="959.5"/><use href="#k11" x="859.6" y="957.1"/><use href="#k12" x="856.9" y="954.9"/><use href="#k11" x="854.2" y="952.7"/><use href="#k12" x="851.5" y="950.7"/><use href="#k11" x="848.8" y="948.7"/><use href="#k12" x="846.1" y="946.9"/><use href="#k11" x="843.4" y="945.1"/><use href="#k12" x="840.7" y="943.5"/><use href="#k11" x="838" y="942"/><use href="#k12" x="835.3" y="940.6"/><use href="#k11" x="832.6" y="939.4"/><use href="#k12" x="829.9" y="938.3"/><use href="#k11" x="827.2" y="937.3"/><use href="#k12" x="824.5" y="936.5"/><use href="#k12" x="821.8" y="935.9"/><use href="#k13" x="819.1" y="935.5"/><use href="#k13" x="816.4" y="935.1"/><use href="#k14" x="813.7" y="935"/><use href="#k13" x="806.3" y="935.8"/><use href="#k14" x="799" y="937.6"/><use href="#k13" x="791.6" y="941.1"/><use href="#k13" x="784.3" y="944.4"/><use href="#k11" x="776.9" y="947.8"/><use href="#k12" x="769.6" y="950.7"/><use href="#k11" x="762.2" y="952.7"/><use href="#k12" x="754.8" y="953.7"/><use href="#k11" x="747.5" y="953.8"/><use href="#k12" x="740.1" y="952.7"/><use href="#k11" x="732.8" y="950.2"/><use href="#k12" x="725.4" y="946.7"/><use href="#k11" x="718.1" y="942.7"/><use href="#k12" x="710.7" y="938.7"/><use href="#k11" x="703.3" y="933.7"/><use href="#k12" x="696" y="928.2"/><use href="#k11" x="688.6" y="922.5"/><use href="#k12" x="681.3" y="916.8"/><use href="#k11" x="673.9" y="911.2"/><use href="#k12" x="666.5" y="905.7"/><use href="#k11" x="659.2" y="899.7"/><use href="#k12" x="651.8" y="893.5"/><use href="#k11" x="644.5" y="887.9"/><use href="#k12" x="637.1" y="881.8"/><use href="#k11" x="629.8" y="876.2"/><use href="#k12" x="622.4" y="872.2"/><use href="#k11" x="615" y="870.7"/><use href="#k15" x="607.7" y="871.2"/><use href="#k20" x="600.3" y="874.8"/><use href="#k21" x="593" y="878.4"/><use href="#k20" x="585.6" y="882.1"/><use href="#k22" x="578.3" y="885.8"/><use href="#k21" x="570.9" y="889.7"/><use href="#k23" x="563.5" y="893.7"/><use href="#k22" x="556.2" y="897.8"/><use href="#k23" x="548.8" y="901.9"/><use href="#k22" x="541.5" y="906"/><use href="#k23" x="534.1" y="910.5"/><use href="#k22" x="526.8" y="914.1"/><use href="#k23" x="519.4" y="916.2"/><use href="#k22" x="515.7" y="916.9"/><use href="#k24" x="512.1" y="917.4"/><use href="#k23" x="508.4" y="917.9"/><use href="#k25" x="504.7" y="918.3"/><use href="#k24" x="501.1" y="919"/><use href="#k25" x="497.4" y="919.7"/><use href="#k24" x="493.7" y="920.6"/><use href="#k26" x="490.1" y="921.6"/><use href="#k25" x="486.4" y="922.7"/><use href="#k26" x="482.7" y="924"/><use href="#k25" x="479.1" y="925.5"/><use href="#k27" x="475.4" y="926.9"/><use href="#k26" x="471.7" y="928.4"/><use href="#k27" x="468.1" y="929.8"/><use href="#k26" x="464.4" y="931.3"/><use href="#k27" x="460.7" y="932.6"/><use href="#k26" x="457.1" y="933.6"/><use href="#k28" x="453.4" y="934.4"/><use href="#k26" x="449.7" y="935"/><use href="#k28" x="446" y="935.6"/><use href="#k26" x="442.4" y="936.2"/><use href="#k28" x="438.7" y="936.8"/><use href="#k26" x="435" y="937.4"/><use href="#k28" x="431.4" y="937.7"/><use href="#k26" x="427.7" y="937.7"/><use href="#k28" x="424" y="937.5"/><use href="#k26" x="420.4" y="937.2"/><use href="#k28" x="416.7" y="936.9"/><use href="#k26" x="413" y="936.5"/><use href="#k28" x="409.4" y="935.9"/><use href="#k26" x="405.7" y="935.1"/><use href="#k28" x="402" y="934.2"/><use href="#k26" x="398.4" y="933.3"/><use href="#k26" x="394.7" y="932.4"/><use href="#k24" x="391" y="931.3"/><use href="#k24" x="387.4" y="930.2"/><use href="#k22" x="383.7" y="929.3"/><use href="#k23" x="380" y="928.4"/><use href="#k21" x="376.4" y="927.6"/><use href="#k21" x="372.7" y="927"/><use href="#k20" x="366.3" y="926.4"/><use href="#k21" x="360" y="926.1"/><use href="#k20" x="353.6" y="926.3"/><use href="#k21" x="347.2" y="926.9"/><use href="#k20" x="340.9" y="927.5"/><use href="#k21" x="334.5" y="928.5"/><use href="#k20" x="328.1" y="929.9"/><use href="#k21" x="321.8" y="931.9"/><use href="#k20" x="315.4" y="935.7"/><use href="#k21" x="309" y="942.8"/><use href="#k20" x="302.7" y="953.6"/><use href="#k21" x="296.3" y="962.7"/><use href="#k20" x="289.9" y="974"/><use href="#k21" x="283.6" y="987.6"/><use href="#k20" x="277.2" y="1000.1"/><use href="#k21" x="270.8" y="1012.5"/><use href="#k20" x="264.5" y="1024.4"/><use href="#k21" x="258.1" y="1033.9"/><use href="#k20" x="251.7" y="1042.8"/><use href="#k20" x="245.3" y="1051.5"/><use href="#k19" x="239" y="1058.7"/><use href="#k19" x="232.6" y="1065.6"/><use href="#k18" x="226.2" y="1071.7"/><use href="#k19" x="219.9" y="1072.8"/><use href="#k21" x="213.5" y="1069.5"/><use href="#k24" x="207.1" y="1064.5"/><use href="#k26" x="200.8" y="1057.9"/><use href="#k30" x="194.4" y="1051.3"/><use href="#k12" x="188" y="1045.2"/><use href="#k38" x="181.7" y="1040.2"/><use href="#k15" x="175.3" y="1036.4"/><use href="#k44" x="168.9" y="1033.8"/><use href="#k16" x="162.6" y="1032.1"/><use href="#k49" x="156.2" y="1030.9"/><use href="#k18" x="149.8" y="1030.1"/><use href="#k51" x="143.5" y="1029.5"/><use href="#k18" x="137.1" y="1029.1"/><use href="#k52" x="130.7" y="1028.8"/><use href="#k18" x="124.4" y="1028.8"/><use href="#k53" x="118" y="1028.8"/></g><g fill="#fff" stroke="#00ff00"><use href="#k24" x="194.4" y="1116.5"/><use href="#k26" x="188" y="1108.5"/><use href="#k27" x="181.7" y="1100.3"/><use href="#k25" x="175.3" y="1092.4"/><use href="#k25" x="168.9" y="1086.1"/><use href="#k23" x="162.6" y="1081"/><use href="#k24" x="156.2" y="1076.3"/><use href="#k19" x="149.8" y="1072.9"/></g><g fill="#fff" stroke="#ff0000"><use href="#k16" x="921.8" y="1022"/><use href="#k15" x="919.1" y="1023.8"/><use href="#k16" x="916.4" y="1025.6"/><use href="#k15" x="913.7" y="1027.4"/><use href="#k16" x="911" y="1029.2"/><use href="#k15" x="908.3" y="1030.9"/><use href="#k16" x="905.6" y="1032.7"/><use href="#k15" x="902.9" y="1034.5"/><use href="#k16" x="900.2" y="1036.3"/><use href="#k15" x="897.5" y="1038.2"/><use href="#k16" x="894.8" y="1040.1"/><use href="#k15" x="892.1" y="1042"/><use href="#k16" x="889.4" y="1043.8"/><use href="#k15" x="886.7" y="1045.6"/><use href="#k16" x="884" y="1047.4"/><use href="#k16" x="881.3" y="1049.3"/><use href="#k17" x="878.6" y="1051"/><use href="#k16" x="875.9" y="1052.6"/><use href="#k17" x="873.2" y="1054"/><use href="#k16" x="870.5" y="1055.1"/><use href="#k17" x="867.8" y="1056.2"/><use href="#k16" x="865" y="1057.1"/><use href="#k17" x="862.3" y="1058.1"/><use href="#k17" x="859.6" y="1059"/><use href="#k18" x="856.9" y="1059.9"/><use href="#k17" x="854.2" y="1060.9"/><use href="#k18" x="851.5" y="1061.8"/><use href="#k17" x="848.8" y="1062.6"/><use href="#k18" x="846.1" y="1063.3"/><use href="#k18" x="843.4" y="1063.9"/><use href="#k19" x="840.7" y="1064.5"/><use href="#k18" x="838" y="1065"/><use href="#k20" x="835.3" y="1065.5"/><use href="#k19" x="832.6" y="1065.9"/><use href="#k21" x="829.9" y="1066.2"/><use href="#k20" x="827.2" y="1066.3"/><use href="#k21" x="824.5" y="1066.5"/><use href="#k21" x="821.8" y="1066.6"/><use href="#k22" x="819.1" y="1066.7"/><use href="#k21" x="816.4" y="1066.8"/><use href="#k23" x="813.7" y="1066.8"/><use href="#k22" x="806.3" y="1066.8"/><use href="#k23" x="799" y="1067.6"/><use href="#k22" x="791.6" y="1069.3"/><use href="#k23" x="784.3" y="1072.1"/><use href="#k22" x="776.9" y="1075.8"/><use href="#k23" x="769.6" y="1080.9"/><use href="#k22" x="762.2" y="1087.5"/><use href="#k24" x="754.8" y="1095.3"/><use href="#k23" x="747.5" y="1104.4"/><use href="#k24" x="740.1" y="1113.4"/><use href="#k23" x="732.8" y="1124"/><use href="#k24" x="725.4" y="1128.9"/><use href="#k23" x="718.1" y="1125.4"/><use href="#k24" x="710.7" y="1119"/><use href="#k23" x="703.3" y="1118.6"/><use href="#k25" x="696" y="1121.6"/><use href="#k24" x="688.6" y="1124"/><use href="#k25" x="681.3" y="1123.3"/><use href="#k24" x="673.9" y="1120.7"/><use href="#k25" x="666.5" y="1118.2"/><use href="#k24" x="659.2" y="1116.2"/><use href="#k26" x="651.8" y="1114.5"/><use href="#k25" x="644.5" y="1112.9"/><use href="#k27" x="637.1" y="1111.4"/><use href="#k26" x="629.8" y="1109.3"/><use href="#k28" x="622.4" y="1106.2"/><use href="#k27" x="615" y="1102.5"/><use href="#k29" x="607.7" y="1098.3"/><use href="#k29" x="600.3" y="1093.5"/><use href="#k31" x="593" y="1087.9"/><use href="#k30" x="585.6" y="1082"/><use href="#k32" x="578.3" y="1075.5"/><use href="#k31" x="570.9" y="1068.8"/><use href="#k33" x="563.5" y="1062.2"/><use href="#k32" x="556.2" y="1055.9"/><use href="#k34" x="548.8" y="1050.3"/><use href="#k33" x="541.5" y="1045.3"/><use href="#k35" x="534.1" y="1040.4"/><use href="#k34" x="526.8" y="1037.9"/><use href="#k37" x="519.4" y="1036.8"/><use href="#k35" x="515.7" y="1036.2"/><use href="#k37" x="512.1" y="1035.6"/><use href="#k35" x="508.4" y="1034.9"/><use href="#k37" x="504.7" y="1033.9"/><use href="#k34" x="501.1" y="1032.5"/><use href="#k35" x="497.4" y="1030.6"/><use href="#k33" x="493.7" y="1028.2"/><use href="#k34" x="490.1" y="1025.5"/><use href="#k32" x="486.4" y="1021.3"/><use href="#k33" x="482.7" y="1016.3"/><use href="#k30" x="479.1" y="1012"/><use href="#k32" x="475.4" y="1008.4"/><use href="#k30" x="471.7" y="1005.1"/><use href="#k31" x="468.1" y="1001.8"/><use href="#k29" x="464.4" y="998.6"/><use href="#k30" x="460.7" y="995.5"/><use href="#k28" x="457.1" y="992.8"/><use href="#k29" x="453.4" y="990.2"/><use href="#k28" x="449.7" y="987.9"/><use href="#k29" x="446" y="985.8"/><use href="#k27" x="442.4" y="983.9"/><use href="#k28" x="438.7" y="982.1"/><use href="#k25" x="435" y="980.4"/><use href="#k25" x="431.4" y="978.8"/><use href="#k23" x="427.7" y="977.4"/><use href="#k23" x="245.3" y="1110.5"/><use href="#k22" x="239" y="1107.9"/><use href="#k23" x="232.6" y="1103.6"/><use href="#k22" x="226.2" y="1102"/><use href="#k23" x="219.9" y="1103.3"/><use href="#k22" x="213.5" y="1110"/><use href="#k23" x="207.1" y="1118"/><use href="#k16" x="200.8" y="1121.5"/><use href="#k16" x="194.4" y="1116.5"/><use href="#k15" x="188" y="1108.5"/><use href="#k17" x="181.7" y="1100.3"/><use href="#k16" x="175.3" y="1092.4"/><use href="#k17" x="168.9" y="1086.1"/><use href="#k17" x="162.6" y="1081"/><use href="#k18" x="156.2" y="1076.3"/><use href="#k17" x="149.8" y="1072.9"/><use href="#k18" x="143.5" y="1070.5"/><use href="#k17" x="137.1" y="1068.5"/><use href="#k18" x="130.7" y="1067.4"/><use href="#k17" x="124.4" y="1066.8"/><use href="#k18" x="118" y="1067.1"/></g><g fill="#fff" stroke="#0000ff"><use href="#k9" x="921.8" y="1022"/><use href="#k9" x="919.1" y="1023.8"/><use href="#k9" x="916.4" y="1025.6"/><use href="#k9" x="913.7" y="1027.4"/><use href="#k9" x="911" y="1029.2"/><use href="#k9" x="908.3" y="1030.9"/><use href="#k9" x="905.6" y="1032.7"/><use href="#k9" x="902.9" y="1034.5"/><use href="#k9" x="900.2" y="1036.3"/><use href="#k9" x="897.5" y="1038.2"/><use href="#k9" x="894.8" y="1040.1"/><use href="#k9" x="892.1" y="1042"/><use href="#k9" x="889.4" y="1043.8"/><use href="#k9" x="886.7" y="1045.6"/><use href="#k9" x="884" y="1047.4"/><use href="#k9" x="881.3" y="1049.3"/><use href="#k9" x="878.6" y="1051"/><use href="#k9" x="875.9" y="1052.6"/><use href="#k9" x="873.2" y="1054"/><use href="#k9" x="870.5" y="1055.1"/><use href="#k9" x="867.8" y="1056.2"/><use href="#k9" x="865" y="1057.1"/><use href="#k9" x="862.3" y="1058.1"/><use href="#k9" x="859.6" y="1059"/><use href="#k9" x="856.9" y="1059.9"/><use href="#k9" x="854.2" y="1060.9"/><use href="#k9" x="851.5" y="1061.8"/><use href="#k9" x="848.8" y="1062.6"/><use href="#k9" x="846.1" y="1063.3"/><use href="#k9" x="843.4" y="1063.9"/><use href="#k10" x="840.7" y="1064.5"/><use href="#k9" x="838" y="1065"/><use href="#k10" x="835.3" y="1065.5"/><use href="#k10" x="832.6" y="1065.9"/><use href="#k10" x="829.9" y="1066.2"/><use href="#k10" x="827.2" y="1066.3"/><use href="#k11" x="824.5" y="1066.5"/><use href="#k10" x="821.8" y="1066.6"/><use href="#k11" x="819.1" y="1066.7"/><use href="#k11" x="816.4" y="1066.8"/><use href="#k11" x="813.7" y="1066.8"/><use href="#k10" x="806.3" y="1066.8"/><use href="#k9" x="799" y="1067.6"/><use href="#k9" x="791.6" y="1069.3"/><use href="#k9" x="784.3" y="1072.1"/><use href="#k9" x="776.9" y="1075.8"/><use href="#k9" x="769.6" y="1080.9"/><use href="#k9" x="762.2" y="1087.5"/><use href="#k9" x="754.8" y="1095.3"/><use href="#k9" x="747.5" y="1104.4"/><use href="#k9" x="740.1" y="1113.4"/><use href="#k9" x="732.8" y="1124"/><use href="#k9" x="725.4" y="1128.9"/><use href="#k9" x="718.1" y="1125.4"/><use href="#k9" x="710.7" y="1119"/><use href="#k9" x="703.3" y="1118.6"/><use href="#k9" x="696" y="1121.6"/><use href="#k9" x="688.6" y="1124"/><use href="#k9" x="681.3" y="1123.3"/><use href="#k9" x="673.9" y="1120.7"/><use href="#k9" x="666.5" y="1118.2"/><use href="#k9" x="659.2" y="1116.2"/><use href="#k9" x="651.8" y="1114.5"/><use href="#k9" x="644.5" y="1112.9"/><use href="#k9" x="637.1" y="1111.4"/><use href="#k9" x="629.8" y="1109.3"/><use href="#k9" x="622.4" y="1106.2"/><use href="#k9" x="615" y="1102.5"/><use href="#k9" x="607.7" y="1098.3"/><use href="#k9" x="600.3" y="1093.5"/><use href="#k9" x="593" y="1087.9"/><use href="#k9" x="585.6" y="1082"/><use href="#k9" x="578.3" y="1075.5"/><use href="#k9" x="570.9" y="1068.8"/><use href="#k10" x="563.5" y="1062.2"/><use href="#k10" x="556.2" y="1055.9"/><use href="#k11" x="548.8" y="1050.3"/><use href="#k11" x="541.5" y="1045.3"/><use href="#k12" x="534.1" y="1040.4"/><use href="#k11" x="526.8" y="1037.9"/><use href="#k12" x="519.4" y="1036.8"/><use href="#k11" x="515.7" y="1036.2"/><use href="#k12" x="512.1" y="1035.6"/><use href="#k11" x="508.4" y="1034.9"/><use href="#k12" x="504.7" y="1033.9"/><use href="#k11" x="501.1" y="1032.5"/><use href="#k12" x="497.4" y="1030.6"/><use href="#k11" x="493.7" y="1028.2"/><use href="#k12" x="490.1" y="1025.5"/><use href="#k11" x="486.4" y="1021.3"/><use href="#k12" x="482.7" y="1016.3"/><use href="#k11" x="479.1" y="1012"/><use href="#k12" x="475.4" y="1008.4"/><use href="#k11" x="471.7" y="1005.1"/><use href="#k12" x="468.1" y="1001.8"/><use href="#k11" x="464.4" y="998.6"/><use href="#k12" x="460.7" y="995.5"/><use href="#k11" x="457.1" y="992.8"/><use href="#k12" x="453.4" y="990.2"/><use href="#k11" x="449.7" y="987.9"/><use href="#k12" x="446" y="985.8"/><use href="#k11" x="442.4" y="983.9"/><use href="#k12" x="438.7" y="982.1"/><use href="#k13" x="435" y="980.4"/><use href="#k17" x="431.4" y="978.8"/><use href="#k20" x="427.7" y="977.4"/><use href="#k23" x="424" y="976.5"/><use href="#k23" x="420.4" y="975.8"/><use href="#k24" x="416.7" y="975.3"/><use href="#k24" x="413" y="974.9"/><use href="#k26" x="409.4" y="974.4"/><use href="#k25" x="405.7" y="974.1"/><use href="#k27" x="402" y="973.7"/><use href="#k26" x="398.4" y="973.4"/><use href="#k28" x="394.7" y="973.2"/><use href="#k27" x="391" y="972.9"/><use href="#k28" x="387.4" y="972.7"/><use href="#k27" x="383.7" y="972.6"/><use href="#k29" x="380" y="972.5"/><use href="#k28" x="376.4" y="972.5"/><use href="#k30" x="372.7" y="972.5"/><use href="#k28" x="366.3" y="972.8"/><use href="#k30" x="360" y="973.4"/><use href="#k28" x="353.6" y="974.9"/><use href="#k30" x="347.2" y="977.3"/><use href="#k28" x="340.9" y="980"/><use href="#k30" x="334.5" y="983.4"/><use href="#k28" x="328.1" y="987.4"/><use href="#k30" x="321.8" y="992.2"/><use href="#k27" x="315.4" y="997.4"/><use href="#k27" x="309" y="1003"/><use href="#k24" x="302.7" y="1008.4"/><use href="#k24" x="296.3" y="1015.9"/><use href="#k20" x="289.9" y="1025.7"/><use href="#k20" x="283.6" y="1037.1"/><use href="#k19" x="277.2" y="1049.3"/><use href="#k20" x="270.8" y="1065"/><use href="#k18" x="264.5" y="1084"/><use href="#k19" x="258.1" y="1100.1"/><use href="#k15" x="251.7" y="1109.2"/><use href="#k14" x="245.3" y="1110.5"/><use href="#k13" x="239" y="1107.9"/><use href="#k14" x="232.6" y="1103.6"/><use href="#k13" x="226.2" y="1102"/><use href="#k14" x="219.9" y="1103.3"/><use href="#k13" x="213.5" y="1110"/><use href="#k14" x="207.1" y="1118"/><use href="#k9" x="200.8" y="1121.5"/><use href="#k9" x="194.4" y="1116.5"/><use href="#k9" x="188" y="1108.5"/><use href="#k9" x="181.7" y="1100.3"/><use href="#k9" x="175.3" y="1092.4"/><use href="#k9" x="168.9" y="1086.1"/><use href="#k9" x="162.6" y="1081"/><use href="#k9" x="156.2" y="1076.3"/><use href="#k9" x="149.8" y="1072.9"/><use href="#k9" x="143.5" y="1070.5"/><use href="#k9" x="137.1" y="1068.5"/><use href="#k9" x="130.7" y="1067.4"/><use href="#k9" x="124.4" y="1066.8"/><use href="#k9" x="118" y="1067.1"/></g><g fill="#fff" stroke="#00ff00"><use href="#k14" x="438.7" y="1247.6"/><use href="#k13" x="435" y="1256.4"/><use href="#k14" x="431.4" y="1265.3"/><use href="#k14" x="427.7" y="1274.4"/><use href="#k15" x="424" y="1283.2"/><use href="#k14" x="420.4" y="1291.6"/><use href="#k15" x="416.7" y="1299.6"/><use href="#k15" x="413" y="1307.4"/><use href="#k16" x="409.4" y="1314.8"/><use href="#k15" x="405.7" y="1321.9"/><use href="#k16" x="402" y="1328.3"/><use href="#k16" x="398.4" y="1334"/><use href="#k17" x="394.7" y="1338.8"/><use href="#k17" x="391" y="1343"/><use href="#k18" x="387.4" y="1346.4"/><use href="#k18" x="383.7" y="1348.9"/><use href="#k19" x="380" y="1350.9"/><use href="#k19" x="376.4" y="1352.3"/><use href="#k21" x="372.7" y="1353.2"/><use href="#k20" x="366.3" y="1352.9"/><use href="#k21" x="360" y="1351.2"/><use href="#k20" x="353.6" y="1348.6"/><use href="#k21" x="347.2" y="1345.2"/><use href="#k21" x="340.9" y="1341.3"/><use href="#k22" x="334.5" y="1336.5"/><use href="#k21" x="328.1" y="1330.4"/><use href="#k22" x="321.8" y="1324"/><use href="#k21" x="315.4" y="1316.8"/><use href="#k23" x="309" y="1309"/><use href="#k22" x="302.7" y="1300.7"/><use href="#k23" x="296.3" y="1291.5"/><use href="#k22" x="289.9" y="1282.3"/><use href="#k24" x="283.6" y="1272.7"/><use href="#k23" x="277.2" y="1262.7"/><use href="#k24" x="270.8" y="1252.5"/><use href="#k23" x="264.5" y="1241.9"/><use href="#k25" x="258.1" y="1231.4"/><use href="#k24" x="251.7" y="1220.5"/><use href="#k26" x="245.3" y="1208.4"/><use href="#k25" x="239" y="1196.7"/><use href="#k27" x="232.6" y="1185.9"/><use href="#k26" x="226.2" y="1175"/><use href="#k26" x="219.9" y="1164.2"/><use href="#k23" x="213.5" y="1153.6"/><use href="#k17" x="207.1" y="1145"/></g><g fill="#fff" stroke="#ff0000"><use href="#k13" x="865" y="1286.1"/><use href="#k16" x="862.3" y="1287.9"/><use href="#k18" x="859.6" y="1289.6"/><use href="#k19" x="856.9" y="1291.1"/><use href="#k19" x="854.2" y="1292.5"/><use href="#k20" x="851.5" y="1293.9"/><use href="#k20" x="848.8" y="1295.3"/><use href="#k21" x="846.1" y="1296.6"/><use href="#k21" x="843.4" y="1297.9"/><use href="#k22" x="840.7" y="1299.1"/><use href="#k22" x="838" y="1300.2"/><use href="#k23" x="835.3" y="1301.1"/><use href="#k22" x="832.6" y="1302"/><use href="#k24" x="829.9" y="1302.8"/><use href="#k23" x="827.2" y="1303.6"/><use href="#k24" x="824.5" y="1304.1"/><use href="#k23" x="821.8" y="1304.6"/><use href="#k25" x="819.1" y="1305"/><use href="#k24" x="816.4" y="1305.4"/><use href="#k25" x="813.7" y="1305.5"/><use href="#k24" x="806.3" y="1303.2"/><use href="#k26" x="799" y="1296.2"/><use href="#k25" x="791.6" y="1285.5"/><use href="#k27" x="784.3" y="1271.6"/><use href="#k26" x="776.9" y="1254.9"/><use href="#k27" x="769.6" y="1236.7"/><use href="#k25" x="762.2" y="1217.6"/><use href="#k26" x="754.8" y="1199.8"/><use href="#k24" x="747.5" y="1182"/><use href="#k25" x="740.1" y="1166.2"/><use href="#k24" x="732.8" y="1151.5"/><use href="#k25" x="725.4" y="1145.3"/><use href="#k24" x="718.1" y="1149.7"/><use href="#k25" x="710.7" y="1159.8"/><use href="#k24" x="703.3" y="1169.7"/><use href="#k25" x="696" y="1179.3"/><use href="#k23" x="688.6" y="1182.6"/><use href="#k24" x="681.3" y="1183"/><use href="#k22" x="673.9" y="1184.9"/><use href="#k23" x="666.5" y="1191.2"/><use href="#k21" x="659.2" y="1197.7"/><use href="#k21" x="651.8" y="1203"/><use href="#k18" x="644.5" y="1206.3"/><use href="#k18" x="637.1" y="1206.8"/><use href="#k17" x="629.8" y="1205"/><use href="#k17" x="622.4" y="1201.5"/><use href="#k16" x="615" y="1196.6"/><use href="#k17" x="607.7" y="1190.5"/><use href="#k15" x="600.3" y="1183.2"/><use href="#k16" x="593" y="1174.5"/><use href="#k15" x="585.6" y="1165.6"/><use href="#k16" x="578.3" y="1155.3"/><use href="#k15" x="570.9" y="1145.1"/><use href="#k16" x="563.5" y="1134.6"/><use href="#k15" x="556.2" y="1124.4"/><use href="#k16" x="548.8" y="1114"/><use href="#k15" x="541.5" y="1104.6"/><use href="#k16" x="534.1" y="1096.6"/><use href="#k15" x="526.8" y="1090.5"/><use href="#k16" x="519.4" y="1088.6"/><use href="#k14" x="515.7" y="1089.4"/><use href="#k14" x="512.1" y="1091.3"/><use href="#k17" x="453.4" y="1215"/><use href="#k14" x="449.7" y="1222.4"/><use href="#k11" x="232.6" y="1185.9"/><use href="#k13" x="226.2" y="1175"/><use href="#k15" x="219.9" y="1164.2"/><use href="#k15" x="213.5" y="1153.6"/><use href="#k17" x="207.1" y="1145"/><use href="#k18" x="200.8" y="1143"/><use href="#k21" x="194.4" y="1151.8"/><use href="#k22" x="188" y="1166.7"/><use href="#k23" x="181.7" y="1182.5"/><use href="#k22" x="175.3" y="1198.9"/><use href="#k23" x="168.9" y="1218.4"/><use href="#k22" x="162.6" y="1234"/><use href="#k23" x="156.2" y="1250.4"/><use href="#k22" x="149.8" y="1265.8"/><use href="#k23" x="143.5" y="1278.7"/><use href="#k22" x="137.1" y="1290.4"/><use href="#k23" x="130.7" y="1298.1"/><use href="#k22" x="124.4" y="1302.9"/><use href="#k23" x="118" y="1306.4"/></g><g fill="#fff" stroke="#0000ff"><use href="#k18" x="921.8" y="1179.6"/><use href="#k17" x="919.1" y="1186.9"/><use href="#k18" x="916.4" y="1194"/><use href="#k17" x="913.7" y="1200.8"/><use href="#k18" x="911" y="1207.6"/><use href="#k17" x="908.3" y="1214.4"/><use href="#k18" x="905.6" y="1220.5"/><use href="#k17" x="902.9" y="1226.2"/><use href="#k18" x="900.2" y="1232.1"/><use href="#k17" x="897.5" y="1238.1"/><use href="#k18" x="894.8" y="1243.7"/><use href="#k17" x="892.1" y="1249"/><use href="#k17" x="889.4" y="1253.7"/><use href="#k16" x="886.7" y="1258"/><use href="#k17" x="884" y="1262.3"/><use href="#k15" x="881.3" y="1267"/><use href="#k16" x="878.6" y="1271.6"/><use href="#k14" x="875.9" y="1275.5"/><use href="#k15" x="873.2" y="1278.7"/><use href="#k13" x="870.5" y="1281.5"/><use href="#k13" x="867.8" y="1283.9"/><use href="#k12" x="865" y="1286.1"/><use href="#k12" x="862.3" y="1287.9"/><use href="#k11" x="859.6" y="1289.6"/><use href="#k11" x="856.9" y="1291.1"/><use href="#k10" x="854.2" y="1292.5"/><use href="#k11" x="851.5" y="1293.9"/><use href="#k10" x="848.8" y="1295.3"/><use href="#k10" x="846.1" y="1296.6"/><use href="#k9" x="843.4" y="1297.9"/><use href="#k9" x="840.7" y="1299.1"/><use href="#k9" x="838" y="1300.2"/><use href="#k9" x="835.3" y="1301.1"/><use href="#k9" x="832.6" y="1302"/><use href="#k9" x="829.9" y="1302.8"/><use href="#k9" x="827.2" y="1303.6"/><use href="#k9" x="824.5" y="1304.1"/><use href="#k9" x="821.8" y="1304.6"/><use href="#k9" x="819.1" y="1305"/><use href="#k9" x="816.4" y="1305.4"/><use href="#k9" x="813.7" y="1305.5"/><use href="#k9" x="806.3" y="1303.2"/><use href="#k9" x="799" y="1296.2"/><use href="#k9" x="791.6" y="1285.5"/><use href="#k9" x="784.3" y="1271.6"/><use href="#k9" x="776.9" y="1254.9"/><use href="#k9" x="769.6" y="1236.7"/><use href="#k9" x="762.2" y="1217.6"/><use href="#k9" x="754.8" y="1199.8"/><use href="#k9" x="747.5" y="1182"/><use href="#k9" x="740.1" y="1166.2"/><use href="#k9" x="732.8" y="1151.5"/><use href="#k9" x="725.4" y="1145.3"/><use href="#k9" x="718.1" y="1149.7"/><use href="#k9" x="710.7" y="1159.8"/><use href="#k9" x="703.3" y="1169.7"/><use href="#k9" x="696" y="1179.3"/><use href="#k9" x="688.6" y="1182.6"/><use href="#k10" x="681.3" y="1183"/><use href="#k10" x="673.9" y="1184.9"/><use href="#k11" x="666.5" y="1191.2"/><use href="#k11" x="659.2" y="1197.7"/><use href="#k13" x="651.8" y="1203"/><use href="#k13" x="644.5" y="1206.3"/><use href="#k14" x="637.1" y="1206.8"/><use href="#k13" x="629.8" y="1205"/><use href="#k14" x="622.4" y="1201.5"/><use href="#k13" x="615" y="1196.6"/><use href="#k14" x="607.7" y="1190.5"/><use href="#k13" x="600.3" y="1183.2"/><use href="#k14" x="593" y="1174.5"/><use href="#k13" x="585.6" y="1165.6"/><use href="#k14" x="578.3" y="1155.3"/><use href="#k13" x="570.9" y="1145.1"/><use href="#k14" x="563.5" y="1134.6"/><use href="#k13" x="556.2" y="1124.4"/><use href="#k14" x="548.8" y="1114"/><use href="#k13" x="541.5" y="1104.6"/><use href="#k14" x="534.1" y="1096.6"/><use href="#k13" x="526.8" y="1090.5"/><use href="#k14" x="519.4" y="1088.6"/><use href="#k13" x="515.7" y="1089.4"/><use href="#k14" x="512.1" y="1091.3"/><use href="#k13" x="508.4" y="1094"/><use href="#k14" x="504.7" y="1097.8"/><use href="#k13" x="501.1" y="1102.7"/><use href="#k14" x="497.4" y="1107.4"/><use href="#k13" x="493.7" y="1112.7"/><use href="#k14" x="490.1" y="1119.6"/><use href="#k13" x="486.4" y="1126.6"/><use href="#k14" x="482.7" y="1133.3"/><use href="#k13" x="479.1" y="1140.5"/><use href="#k14" x="475.4" y="1148.7"/><use href="#k13" x="471.7" y="1156"/><use href="#k14" x="468.1" y="1164.4"/><use href="#k13" x="464.4" y="1173.1"/><use href="#k14" x="460.7" y="1179.6"/><use href="#k13" x="457.1" y="1194.5"/><use href="#k14" x="453.4" y="1215"/><use href="#k13" x="449.7" y="1222.4"/><use href="#k13" x="446" y="1230.4"/><use href="#k11" x="442.4" y="1238.9"/><use href="#k12" x="438.7" y="1247.6"/><use href="#k11" x="435" y="1256.4"/><use href="#k12" x="431.4" y="1265.3"/><use href="#k11" x="427.7" y="1274.4"/><use href="#k12" x="424" y="1283.2"/><use href="#k11" x="420.4" y="1291.6"/><use href="#k12" x="416.7" y="1299.6"/><use href="#k11" x="413" y="1307.4"/><use href="#k12" x="409.4" y="1314.8"/><use href="#k11" x="405.7" y="1321.9"/><use href="#k12" x="402" y="1328.3"/><use href="#k11" x="398.4" y="1334"/><use href="#k12" x="394.7" y="1338.8"/><use href="#k12" x="391" y="1343"/><use href="#k13" x="387.4" y="1346.4"/><use href="#k12" x="383.7" y="1348.9"/><use href="#k13" x="380" y="1350.9"/><use href="#k13" x="376.4" y="1352.3"/><use href="#k14" x="372.7" y="1353.2"/><use href="#k13" x="366.3" y="1352.9"/><use href="#k14" x="360" y="1351.2"/><use href="#k13" x="353.6" y="1348.6"/><use href="#k14" x="347.2" y="1345.2"/><use href="#k13" x="340.9" y="1341.3"/><use href="#k14" x="334.5" y="1336.5"/><use href="#k13" x="328.1" y="1330.4"/><use href="#k14" x="321.8" y="1324"/><use href="#k13" x="315.4" y="1316.8"/><use href="#k14" x="309" y="1309"/><use href="#k13" x="302.7" y="1300.7"/><use href="#k14" x="296.3" y="1291.5"/><use href="#k13" x="289.9" y="1282.3"/><use href="#k14" x="283.6" y="1272.7"/><use href="#k13" x="277.2" y="1262.7"/><use href="#k14" x="270.8" y="1252.5"/><use href="#k13" x="264.5" y="1241.9"/><use href="#k14" x="258.1" y="1231.4"/><use href="#k13" x="251.7" y="1220.5"/><use href="#k13" x="245.3" y="1208.4"/><use href="#k11" x="239" y="1196.7"/><use href="#k10" x="232.6" y="1185.9"/><use href="#k9" x="226.2" y="1175"/><use href="#k9" x="219.9" y="1164.2"/><use href="#k9" x="213.5" y="1153.6"/><use href="#k9" x="207.1" y="1145"/><use href="#k9" x="200.8" y="1143"/><use href="#k9" x="194.4" y="1151.8"/><use href="#k9" x="188" y="1166.7"/><use href="#k9" x="181.7" y="1182.5"/><use href="#k8" x="175.3" y="1198.9"/><use href="#k9" x="168.9" y="1218.4"/><use href="#k8" x="162.6" y="1234"/><use href="#k8" x="156.2" y="1250.4"/><use href="#db8" x="149.8" y="1265.8"/><use href="#k8" x="143.5" y="1278.7"/><use href="#db7" x="137.1" y="1290.4"/><use href="#db7" x="130.7" y="1298.1"/><use href="#db7" x="124.4" y="1302.9"/><use href="#db7" x="118" y="1306.4"/></g><g fill="#fff" stroke="#ff0000"><use href="#k18" x="457.1" y="1186.2"/><use href="#k21" x="453.4" y="1193.3"/><use href="#k22" x="449.7" y="1196.6"/><use href="#k26" x="446" y="1197.9"/><use href="#k27" x="442.4" y="1198.4"/><use href="#k31" x="438.7" y="1198.2"/><use href="#k32" x="435" y="1197.6"/><use href="#k36" x="431.4" y="1196.9"/><use href="#k35" x="427.7" y="1196.1"/><use href="#k37" x="424" y="1194.9"/><use href="#k35" x="420.4" y="1193.5"/><use href="#k37" x="416.7" y="1192.4"/><use href="#k36" x="413" y="1191.5"/><use href="#k38" x="409.4" y="1190.6"/><use href="#k36" x="405.7" y="1189.9"/><use href="#k38" x="402" y="1189.2"/><use href="#k36" x="398.4" y="1188.7"/><use href="#k38" x="394.7" y="1188.2"/><use href="#k36" x="391" y="1187.7"/><use href="#k38" x="387.4" y="1187.2"/><use href="#k37" x="383.7" y="1186.9"/><use href="#k39" x="380" y="1186.8"/><use href="#k37" x="376.4" y="1186.8"/><use href="#k39" x="372.7" y="1186.8"/><use href="#k37" x="366.3" y="1186.5"/><use href="#k39" x="360" y="1185.9"/><use href="#k38" x="353.6" y="1185.2"/><use href="#k40" x="347.2" y="1184.3"/><use href="#k38" x="340.9" y="1183.5"/><use href="#k40" x="334.5" y="1182.5"/><use href="#k38" x="328.1" y="1181"/><use href="#k41" x="321.8" y="1178.8"/><use href="#k39" x="315.4" y="1176.5"/><use href="#k41" x="309" y="1174.1"/><use href="#k39" x="302.7" y="1171.5"/><use href="#k41" x="296.3" y="1168.8"/><use href="#k39" x="289.9" y="1165.6"/><use href="#k41" x="283.6" y="1161.8"/><use href="#k38" x="277.2" y="1158.4"/><use href="#k40" x="270.8" y="1155.4"/><use href="#k38" x="264.5" y="1154"/><use href="#k39" x="258.1" y="1155.9"/><use href="#k27" x="251.7" y="1168.5"/><use href="#k18" x="245.3" y="1194.4"/><use href="#k17" x="239" y="1215.1"/><use href="#k19" x="232.6" y="1243.8"/><use href="#k19" x="226.2" y="1269.7"/><use href="#k22" x="219.9" y="1294.9"/><use href="#k23" x="213.5" y="1318"/><use href="#k27" x="207.1" y="1336.8"/><use href="#k28" x="200.8" y="1352.2"/><use href="#k27" x="194.4" y="1366.7"/><use href="#k23" x="188" y="1379.7"/><use href="#k22" x="181.7" y="1392.5"/><use href="#k19" x="175.3" y="1405.2"/><use href="#k18" x="168.9" y="1418.9"/></g><g fill="#fff" stroke="#0000ff"><use href="#k11" x="457.1" y="1186.2"/><use href="#k12" x="453.4" y="1193.3"/><use href="#k11" x="449.7" y="1196.6"/><use href="#k12" x="446" y="1197.9"/><use href="#k11" x="442.4" y="1198.4"/><use href="#k12" x="438.7" y="1198.2"/><use href="#k11" x="435" y="1197.6"/><use href="#k12" x="431.4" y="1196.9"/><use href="#k11" x="427.7" y="1196.1"/><use href="#k12" x="424" y="1194.9"/><use href="#k11" x="420.4" y="1193.5"/><use href="#k12" x="416.7" y="1192.4"/><use href="#k11" x="413" y="1191.5"/><use href="#k12" x="409.4" y="1190.6"/><use href="#k11" x="405.7" y="1189.9"/><use href="#k12" x="402" y="1189.2"/><use href="#k11" x="398.4" y="1188.7"/><use href="#k12" x="394.7" y="1188.2"/><use href="#k11" x="391" y="1187.7"/><use href="#k12" x="387.4" y="1187.2"/><use href="#k11" x="383.7" y="1186.9"/><use href="#k12" x="380" y="1186.8"/><use href="#k11" x="376.4" y="1186.8"/><use href="#k12" x="372.7" y="1186.8"/><use href="#k11" x="366.3" y="1186.5"/><use href="#k12" x="360" y="1185.9"/><use href="#k11" x="353.6" y="1185.2"/><use href="#k12" x="347.2" y="1184.3"/><use href="#k11" x="340.9" y="1183.5"/><use href="#k12" x="334.5" y="1182.5"/><use href="#k11" x="328.1" y="1181"/><use href="#k12" x="321.8" y="1178.8"/><use href="#k11" x="315.4" y="1176.5"/><use href="#k12" x="309" y="1174.1"/><use href="#k11" x="302.7" y="1171.5"/><use href="#k12" x="296.3" y="1168.8"/><use href="#k11" x="289.9" y="1165.6"/><use href="#k12" x="283.6" y="1161.8"/><use href="#k11" x="277.2" y="1158.4"/><use href="#k12" x="270.8" y="1155.4"/><use href="#k11" x="264.5" y="1154"/><use href="#k12" x="258.1" y="1155.9"/><use href="#k10" x="251.7" y="1168.5"/><use href="#k9" x="245.3" y="1194.4"/><use href="#db7" x="239" y="1215.1"/><use href="#db7" x="232.6" y="1243.8"/><use href="#db8" x="226.2" y="1269.7"/><use href="#k9" x="219.9" y="1294.9"/><use href="#k9" x="213.5" y="1318"/><use href="#k9" x="207.1" y="1336.8"/><use href="#k9" x="200.8" y="1352.2"/><use href="#k9" x="194.4" y="1366.7"/><use href="#k9" x="188" y="1379.7"/><use href="#k8" x="181.7" y="1392.5"/><use href="#db7" x="175.3" y="1405.2"/><use href="#db7" x="168.9" y="1418.9"/></g><g fill="#fff" stroke="#ff0000"><use href="#k14" x="769.6" y="1420.1"/><use href="#k14" x="762.2" y="1411.5"/><use href="#k15" x="754.8" y="1399.3"/><use href="#k15" x="747.5" y="1384.1"/><use href="#k16" x="740.1" y="1366.8"/><use href="#k14" x="732.8" y="1345.4"/><use href="#k15" x="725.4" y="1320"/><use href="#k13" x="718.1" y="1290.8"/><use href="#k14" x="710.7" y="1260.2"/><use href="#k15" x="703.3" y="1231"/><use href="#k17" x="696" y="1206.3"/><use href="#k20" x="688.6" y="1194.9"/><use href="#k23" x="681.3" y="1196.5"/><use href="#k22" x="673.9" y="1203.3"/><use href="#k23" x="666.5" y="1209.2"/><use href="#k22" x="659.2" y="1213.7"/><use href="#k23" x="651.8" y="1217.6"/><use href="#k22" x="644.5" y="1221.8"/><use href="#k23" x="637.1" y="1225.9"/><use href="#k22" x="629.8" y="1229"/><use href="#k23" x="622.4" y="1231.3"/><use href="#k22" x="615" y="1232.6"/><use href="#k16" x="460.7" y="1209.7"/><use href="#k16" x="457.1" y="1213.1"/><use href="#k17" x="453.4" y="1216.7"/><use href="#k16" x="449.7" y="1220.8"/><use href="#k18" x="446" y="1225.4"/><use href="#k17" x="442.4" y="1230.5"/></g><g fill="#fff" stroke="#0000ff"><use href="#db7" x="769.6" y="1420.1"/><use href="#db7" x="762.2" y="1411.5"/><use href="#db7" x="754.8" y="1399.3"/><use href="#db7" x="747.5" y="1384.1"/><use href="#db7" x="740.1" y="1366.8"/><use href="#db7" x="732.8" y="1345.4"/><use href="#db7" x="725.4" y="1320"/><use href="#db7" x="718.1" y="1290.8"/><use href="#db7" x="710.7" y="1260.2"/><use href="#db7" x="703.3" y="1231"/><use href="#db7" x="696" y="1206.3"/><use href="#k8" x="688.6" y="1194.9"/><use href="#k9" x="681.3" y="1196.5"/><use href="#k9" x="673.9" y="1203.3"/><use href="#k10" x="666.5" y="1209.2"/><use href="#k11" x="659.2" y="1213.7"/><use href="#k13" x="651.8" y="1217.6"/><use href="#k13" x="644.5" y="1221.8"/><use href="#k14" x="637.1" y="1225.9"/><use href="#k13" x="629.8" y="1229"/><use href="#k14" x="622.4" y="1231.3"/><use href="#k13" x="615" y="1232.6"/><use href="#k17" x="607.7" y="1232.4"/><use href="#k20" x="600.3" y="1228.5"/><use href="#k22" x="593" y="1222.7"/><use href="#k22" x="585.6" y="1215.6"/><use href="#k26" x="578.3" y="1207"/><use href="#k27" x="570.9" y="1197.4"/><use href="#k30" x="563.5" y="1186.8"/><use href="#k31" x="556.2" y="1176.7"/><use href="#k35" x="548.8" y="1166.9"/><use href="#k34" x="541.5" y="1157.1"/><use href="#k37" x="534.1" y="1150.8"/><use href="#k37" x="526.8" y="1145.9"/><use href="#k39" x="519.4" y="1143"/><use href="#k37" x="515.7" y="1143.5"/><use href="#k39" x="512.1" y="1144.8"/><use href="#k36" x="508.4" y="1147.9"/><use href="#k36" x="504.7" y="1152.3"/><use href="#k32" x="501.1" y="1157.3"/><use href="#k32" x="497.4" y="1163"/><use href="#k29" x="493.7" y="1169.1"/><use href="#k28" x="490.1" y="1175.8"/><use href="#k25" x="486.4" y="1182.9"/><use href="#k24" x="482.7" y="1189.9"/><use href="#k21" x="479.1" y="1194.3"/><use href="#k21" x="475.4" y="1197.5"/><use href="#k18" x="471.7" y="1200.5"/><use href="#k17" x="468.1" y="1203.6"/><use href="#k15" x="464.4" y="1206.6"/><use href="#k14" x="460.7" y="1209.7"/><use href="#k13" x="457.1" y="1213.1"/><use href="#k13" x="453.4" y="1216.7"/><use href="#k12" x="449.7" y="1220.8"/><use href="#k12" x="446" y="1225.4"/><use href="#k11" x="442.4" y="1230.5"/></g><g fill="#fff" stroke="#ff0000"><use href="#k28" x="754.8" y="1419.1"/><use href="#k26" x="747.5" y="1403.4"/><use href="#k28" x="740.1" y="1389"/><use href="#k25" x="732.8" y="1374.2"/><use href="#k24" x="725.4" y="1362"/><use href="#k22" x="718.1" y="1351.9"/><use href="#k23" x="710.7" y="1344.4"/><use href="#k20" x="615" y="1313"/><use href="#k24" x="607.7" y="1309.5"/><use href="#k25" x="600.3" y="1306.1"/><use href="#k29" x="593" y="1302.9"/><use href="#k12" x="585.6" y="1300.3"/><use href="#k38" x="578.3" y="1298.4"/><use href="#k15" x="570.9" y="1296.9"/><use href="#k46" x="563.5" y="1295.4"/><use href="#k17" x="556.2" y="1294.8"/><use href="#k48" x="548.8" y="1294.8"/><use href="#k17" x="541.5" y="1294.8"/><use href="#k48" x="534.1" y="1295.2"/><use href="#k17" x="526.8" y="1295.4"/><use href="#k48" x="519.4" y="1295.4"/><use href="#k17" x="515.7" y="1295.4"/><use href="#k48" x="512.1" y="1295.4"/><use href="#k17" x="508.4" y="1295.4"/><use href="#k48" x="504.7" y="1295.4"/><use href="#k17" x="501.1" y="1295.6"/><use href="#k48" x="497.4" y="1295.7"/><use href="#k16" x="493.7" y="1296.5"/><use href="#k41" x="490.1" y="1297.9"/><use href="#k13" x="486.4" y="1300.2"/><use href="#k34" x="482.7" y="1303.9"/><use href="#k29" x="479.1" y="1309"/><use href="#k27" x="475.4" y="1316.1"/><use href="#k23" x="471.7" y="1324.6"/><use href="#k21" x="468.1" y="1335.3"/><use href="#k18" x="464.4" y="1346.2"/><use href="#k17" x="460.7" y="1358.8"/><use href="#k14" x="457.1" y="1371.3"/><use href="#k13" x="453.4" y="1383.5"/><use href="#k10" x="449.7" y="1396.8"/></g><g fill="#fff" stroke="#0000ff"><use href="#k9" x="754.8" y="1419.1"/><use href="#k10" x="747.5" y="1403.4"/><use href="#k11" x="740.1" y="1389"/><use href="#k12" x="732.8" y="1374.2"/><use href="#k13" x="725.4" y="1362"/><use href="#k15" x="718.1" y="1351.9"/><use href="#k19" x="710.7" y="1344.4"/><use href="#k20" x="703.3" y="1338.4"/><use href="#k21" x="696" y="1334.2"/><use href="#k20" x="688.6" y="1331.1"/><use href="#k20" x="681.3" y="1329.3"/><use href="#k19" x="673.9" y="1328.1"/><use href="#k20" x="666.5" y="1326.9"/><use href="#k18" x="659.2" y="1326.1"/><use href="#k19" x="651.8" y="1325.2"/><use href="#k18" x="644.5" y="1323.5"/><use href="#k19" x="637.1" y="1321.7"/><use href="#k17" x="629.8" y="1319.4"/><use href="#k18" x="622.4" y="1316.3"/><use href="#k17" x="615" y="1313"/><use href="#k16" x="607.7" y="1309.5"/><use href="#k13" x="600.3" y="1306.1"/><use href="#k12" x="593" y="1302.9"/><use href="#db4" x="585.6" y="1300.3"/><use href="#k10" x="578.3" y="1298.4"/><use href="#db3" x="570.9" y="1296.9"/><use href="#db8" x="563.5" y="1295.4"/><use href="#db7" x="548.8" y="1294.8"/><use href="#db7" x="534.1" y="1295.2"/><use href="#db7" x="519.4" y="1295.4"/><use href="#db7" x="512.1" y="1295.4"/><use href="#db7" x="504.7" y="1295.4"/><use href="#db7" x="497.4" y="1295.7"/><use href="#k9" x="490.1" y="1297.9"/><use href="#db3" x="486.4" y="1300.2"/><use href="#k9" x="482.7" y="1303.9"/><use href="#k9" x="479.1" y="1309"/><use href="#k9" x="475.4" y="1316.1"/><use href="#k8" x="471.7" y="1324.6"/><use href="#db7" x="468.1" y="1335.3"/><use href="#db7" x="464.4" y="1346.2"/><use href="#db7" x="460.7" y="1358.8"/><use href="#db7" x="457.1" y="1371.3"/><use href="#db7" x="453.4" y="1383.5"/><use href="#db7" x="449.7" y="1396.8"/><use href="#db7" x="446" y="1410.7"/><use href="#db7" x="442.4" y="1422.3"/></g><g fill="#fff" stroke="#ff0000"><use href="#k12" x="207.1" y="1369"/><use href="#k11" x="200.8" y="1381.5"/><use href="#k12" x="194.4" y="1394.8"/><use href="#k11" x="188" y="1405.6"/><use href="#k12" x="181.7" y="1418.6"/></g><g fill="#fff" stroke="#0000ff"><use href="#k16" x="283.6" y="1419.2"/><use href="#k15" x="277.2" y="1404.8"/><use href="#k16" x="270.8" y="1392"/><use href="#k15" x="264.5" y="1380.4"/><use href="#k16" x="258.1" y="1369.9"/><use href="#k15" x="251.7" y="1361.1"/><use href="#k16" x="245.3" y="1354.2"/><use href="#k15" x="239" y="1349.7"/><use href="#k15" x="232.6" y="1348.1"/><use href="#k14" x="226.2" y="1348.3"/><use href="#k13" x="219.9" y="1351.8"/><use href="#k8" x="213.5" y="1359.1"/><use href="#db7" x="207.1" y="1369"/><use href="#db7" x="200.8" y="1381.5"/><use href="#db7" x="194.4" y="1394.8"/><use href="#db7" x="188" y="1405.6"/><use href="#db7" x="181.7" y="1418.6"/></g><g fill="#fff" stroke="#ff0000"><use href="#k22" x="175.3" y="1424.3"/><use href="#k23" x="168.9" y="1420.8"/><use href="#k22" x="162.6" y="1420"/><use href="#k23" x="156.2" y="1420.3"/><use href="#k22" x="149.8" y="1420.7"/><use href="#k23" x="143.5" y="1420.9"/><use href="#k22" x="137.1" y="1421"/><use href="#k23" x="130.7" y="1420.8"/><use href="#k22" x="124.4" y="1420.5"/><use href="#k23" x="118" y="1420"/></g><g fill="#fff" stroke="#ff0000"><use href="#k48" x="921.8" y="1334.1"/><use href="#k19" x="919.1" y="1334.8"/><use href="#k48" x="916.4" y="1335.6"/><use href="#k19" x="913.7" y="1336.5"/><use href="#k47" x="911" y="1337.5"/><use href="#k19" x="908.3" y="1338.7"/><use href="#k47" x="905.6" y="1340.1"/><use href="#k19" x="902.9" y="1341.6"/><use href="#k47" x="900.2" y="1343.4"/><use href="#k19" x="897.5" y="1345.4"/><use href="#k46" x="894.8" y="1347.8"/><use href="#k18" x="892.1" y="1350.4"/><use href="#k46" x="889.4" y="1353.5"/><use href="#k18" x="886.7" y="1357.2"/><use href="#k45" x="884" y="1361.3"/><use href="#k18" x="881.3" y="1365.6"/><use href="#k44" x="878.6" y="1370.5"/><use href="#k17" x="875.9" y="1375.3"/><use href="#k43" x="873.2" y="1379.8"/><use href="#k17" x="870.5" y="1384.2"/><use href="#k42" x="867.8" y="1388.4"/><use href="#k16" x="865" y="1392.4"/><use href="#k40" x="862.3" y="1396.6"/><use href="#k15" x="859.6" y="1400.4"/><use href="#k37" x="856.9" y="1403.5"/><use href="#k14" x="854.2" y="1406.1"/><use href="#k35" x="851.5" y="1408.5"/><use href="#k13" x="848.8" y="1410.5"/><use href="#k32" x="846.1" y="1412.2"/><use href="#k13" x="843.4" y="1413.7"/><use href="#k31" x="840.7" y="1415.1"/><use href="#k12" x="838" y="1416.4"/><use href="#k31" x="835.3" y="1417.3"/><use href="#k12" x="832.6" y="1418"/><use href="#k30" x="829.9" y="1418.4"/><use href="#k12" x="827.2" y="1418.7"/><use href="#k29" x="824.5" y="1419"/><use href="#k12" x="821.8" y="1419.3"/><use href="#k28" x="819.1" y="1419.5"/><use href="#k27" x="816.4" y="1419.7"/><use href="#k28" x="813.7" y="1419.8"/><use href="#k26" x="806.3" y="1420.2"/><use href="#k26" x="799" y="1420.5"/><use href="#k24" x="791.6" y="1420.7"/><use href="#k25" x="784.3" y="1420.5"/><use href="#k23" x="776.9" y="1419.6"/><use href="#k24" x="769.6" y="1418.9"/><use href="#k22" x="762.2" y="1422.1"/></g><g fill="#fff" stroke="#0000ff"><use href="#db7" x="921.8" y="1334.1"/><use href="#db7" x="916.4" y="1335.6"/><use href="#db7" x="911" y="1337.5"/><use href="#db7" x="905.6" y="1340.1"/><use href="#db7" x="900.2" y="1343.4"/><use href="#db7" x="894.8" y="1347.8"/><use href="#db7" x="889.4" y="1353.5"/><use href="#db7" x="884" y="1361.3"/><use href="#db7" x="878.6" y="1370.5"/><use href="#db7" x="873.2" y="1379.8"/><use href="#db7" x="867.8" y="1388.4"/><use href="#db7" x="862.3" y="1396.6"/><use href="#db7" x="856.9" y="1403.5"/><use href="#db7" x="851.5" y="1408.5"/><use href="#db7" x="846.1" y="1412.2"/><use href="#db7" x="840.7" y="1415.1"/><use href="#db7" x="835.3" y="1417.3"/><use href="#db7" x="829.9" y="1418.4"/><use href="#db7" x="824.5" y="1419"/><use href="#db7" x="819.1" y="1419.5"/><use href="#db7" x="816.4" y="1419.7"/><use href="#db7" x="813.7" y="1419.8"/><use href="#db6" x="806.3" y="1420.2"/><use href="#db6" x="799" y="1420.5"/><use href="#db6" x="791.6" y="1420.7"/><use href="#db6" x="784.3" y="1420.5"/><use href="#db5" x="776.9" y="1419.6"/><use href="#db5" x="769.6" y="1418.9"/><use href="#db4" x="762.2" y="1422.1"/></g><g fill="#fff" stroke="#ff0000"><use href="#k48" x="921.8" y="1399.3"/><use href="#k19" x="919.1" y="1399.4"/><use href="#k48" x="916.4" y="1399.5"/><use href="#k19" x="913.7" y="1399.7"/><use href="#k48" x="911" y="1400"/><use href="#k19" x="908.3" y="1400.3"/><use href="#k48" x="905.6" y="1400.9"/><use href="#k19" x="902.9" y="1401.7"/><use href="#k48" x="900.2" y="1402.6"/><use href="#k19" x="897.5" y="1403.6"/><use href="#k48" x="894.8" y="1404.7"/><use href="#k19" x="892.1" y="1405.8"/><use href="#k48" x="889.4" y="1407.1"/><use href="#k19" x="886.7" y="1408.5"/><use href="#k48" x="884" y="1410"/><use href="#k19" x="881.3" y="1411.5"/><use href="#k48" x="878.6" y="1413"/><use href="#k19" x="875.9" y="1414.6"/><use href="#k48" x="873.2" y="1416.2"/><use href="#k19" x="870.5" y="1417.9"/><use href="#k48" x="867.8" y="1419.7"/><use href="#k19" x="865" y="1421.7"/><use href="#k48" x="862.3" y="1424"/><use href="#k19" x="859.6" y="1426.4"/></g><g fill="#fff" stroke="#ff0000"><use href="#k16" x="405.7" y="816.6"/><use href="#k19" x="402" y="815.6"/></g><g fill="#fff" stroke="#0000ff"><use href="#k23" x="578.3" y="839.4"/><use href="#k22" x="570.9" y="845.6"/><use href="#k23" x="563.5" y="852.1"/><use href="#k23" x="556.2" y="858.3"/><use href="#k26" x="548.8" y="863.9"/><use href="#k26" x="541.5" y="870.2"/><use href="#k30" x="534.1" y="874.8"/><use href="#k30" x="526.8" y="878.6"/><use href="#k34" x="519.4" y="881.4"/><use href="#k32" x="515.7" y="881.1"/><use href="#k32" x="512.1" y="880.5"/><use href="#k30" x="508.4" y="879.2"/><use href="#k31" x="504.7" y="877.2"/><use href="#k28" x="501.1" y="875"/><use href="#k29" x="497.4" y="872.5"/><use href="#k27" x="493.7" y="869.7"/><use href="#k28" x="490.1" y="866.5"/><use href="#k25" x="486.4" y="862.9"/><use href="#k26" x="482.7" y="859.1"/><use href="#k23" x="479.1" y="855.5"/><use href="#k24" x="475.4" y="852.1"/><use href="#k21" x="471.7" y="848.8"/><use href="#k22" x="468.1" y="845.7"/><use href="#k20" x="464.4" y="843"/><use href="#k20" x="460.7" y="840.5"/><use href="#k19" x="457.1" y="838.3"/><use href="#k19" x="453.4" y="836.2"/><use href="#k18" x="449.7" y="834"/><use href="#k18" x="446" y="831.8"/><use href="#k17" x="442.4" y="829.7"/><use href="#k17" x="438.7" y="827.7"/><use href="#k16" x="435" y="826.1"/><use href="#k16" x="431.4" y="824.8"/><use href="#k15" x="427.7" y="823.5"/><use href="#k16" x="424" y="822.3"/><use href="#k15" x="420.4" y="821.1"/><use href="#k16" x="416.7" y="819.9"/><use href="#k15" x="413" y="818.8"/><use href="#k16" x="409.4" y="817.7"/><use href="#k15" x="405.7" y="816.6"/><use href="#k16" x="402" y="815.6"/></g><g fill="#fff" stroke="#ff0000"><use href="#k18" x="921.8" y="924.3"/><use href="#dr6" x="919.1" y="924.6"/><use href="#k18" x="916.4" y="924.8"/><use href="#dr6" x="913.7" y="925.1"/><use href="#k18" x="911" y="925.2"/><use href="#dr6" x="908.3" y="925.2"/><use href="#k18" x="905.6" y="925.2"/><use href="#dr6" x="902.9" y="925.2"/><use href="#k18" x="900.2" y="925.2"/><use href="#dr6" x="897.5" y="925.2"/><use href="#k18" x="894.8" y="925.2"/></g><g fill="#fff" stroke="#0000ff"><use href="#k12" x="921.8" y="924.3"/><use href="#db4" x="919.1" y="924.6"/><use href="#k12" x="916.4" y="924.8"/><use href="#db4" x="913.7" y="925.1"/><use href="#k12" x="911" y="925.2"/><use href="#db4" x="908.3" y="925.2"/><use href="#k13" x="905.6" y="925.2"/><use href="#db5" x="902.9" y="925.2"/><use href="#k13" x="900.2" y="925.2"/><use href="#db5" x="897.5" y="925.2"/><use href="#k14" x="894.8" y="925.2"/><use href="#db5" x="892.1" y="924.9"/><use href="#k16" x="889.4" y="924.2"/><use href="#db6" x="886.7" y="923.2"/><use href="#k19" x="884" y="922.1"/><use href="#db7" x="881.3" y="920.9"/><use href="#k21" x="878.6" y="919.7"/><use href="#k8" x="875.9" y="918.2"/><use href="#k24" x="873.2" y="916.5"/><use href="#k9" x="870.5" y="914.6"/><use href="#k27" x="867.8" y="912.7"/><use href="#k10" x="865" y="910.9"/><use href="#k29" x="862.3" y="908.9"/><use href="#k10" x="859.6" y="906.8"/><use href="#k31" x="856.9" y="904.7"/><use href="#k11" x="854.2" y="902.6"/><use href="#k32" x="851.5" y="900.7"/><use href="#k12" x="848.8" y="898.8"/><use href="#k34" x="846.1" y="897"/><use href="#k12" x="843.4" y="895.2"/><use href="#k36" x="840.7" y="893.6"/><use href="#k13" x="838" y="892.2"/><use href="#k37" x="835.3" y="890.9"/><use href="#k13" x="832.6" y="889.8"/><use href="#k38" x="829.9" y="888.7"/><use href="#k14" x="827.2" y="887.8"/><use href="#k39" x="824.5" y="887"/><use href="#k14" x="821.8" y="886.4"/><use href="#k40" x="819.1" y="885.7"/><use href="#k14" x="816.4" y="885.2"/><use href="#k41" x="813.7" y="885"/><use href="#k14" x="806.3" y="885"/><use href="#k41" x="799" y="885"/><use href="#k14" x="791.6" y="884.5"/><use href="#k40" x="784.3" y="883.5"/><use href="#k14" x="776.9" y="882.2"/><use href="#k39" x="769.6" y="880.7"/><use href="#k14" x="762.2" y="879.4"/><use href="#k38" x="754.8" y="878.2"/><use href="#k13" x="747.5" y="877.5"/><use href="#k37" x="740.1" y="877"/><use href="#k13" x="732.8" y="877.2"/><use href="#k37" x="725.4" y="877.8"/><use href="#k13" x="718.1" y="877.5"/><use href="#k37" x="710.7" y="875.3"/><use href="#k13" x="703.3" y="872.9"/><use href="#k35" x="696" y="870"/><use href="#k12" x="688.6" y="866.6"/><use href="#k33" x="681.3" y="862.3"/><use href="#k11" x="673.9" y="858.3"/><use href="#k31" x="666.5" y="854.5"/><use href="#k11" x="659.2" y="851.4"/><use href="#k30" x="651.8" y="848.9"/><use href="#k11" x="644.5" y="848.7"/><use href="#k31" x="637.1" y="850.5"/><use href="#k11" x="629.8" y="852.5"/><use href="#k32" x="622.4" y="854.8"/><use href="#k11" x="615" y="855.3"/><use href="#k32" x="607.7" y="853.5"/><use href="#k11" x="600.3" y="850.6"/><use href="#k32" x="593" y="845.8"/><use href="#k11" x="585.6" y="840.2"/><use href="#k32" x="578.3" y="834.4"/><use href="#k11" x="570.9" y="829.1"/><use href="#k31" x="563.5" y="824"/><use href="#k11" x="556.2" y="820.5"/><use href="#k31" x="548.8" y="819.1"/><use href="#k11" x="541.5" y="818"/><use href="#k30" x="534.1" y="816.2"/><use href="#k10" x="526.8" y="812.9"/></g><g fill="#fff" stroke="#0000ff"><use href="#k10" x="791.6" y="817.8"/><use href="#k30" x="784.3" y="823.4"/><use href="#k10" x="776.9" y="832.5"/><use href="#k30" x="769.6" y="839.2"/><use href="#k10" x="762.2" y="845.8"/><use href="#k30" x="754.8" y="852.3"/><use href="#k11" x="747.5" y="858.7"/><use href="#k32" x="740.1" y="864.5"/><use href="#k12" x="732.8" y="866.8"/><use href="#k34" x="725.4" y="867.9"/><use href="#k12" x="718.1" y="867.1"/><use href="#k34" x="710.7" y="864.2"/><use href="#k12" x="703.3" y="860.4"/><use href="#k34" x="696" y="855"/><use href="#k12" x="688.6" y="849.4"/><use href="#k33" x="681.3" y="843.5"/><use href="#k11" x="673.9" y="838.2"/><use href="#k31" x="666.5" y="833.3"/><use href="#k10" x="659.2" y="829.9"/><use href="#k28" x="651.8" y="827.4"/><use href="#k10" x="644.5" y="824.6"/><use href="#k26" x="637.1" y="821.7"/><use href="#k9" x="629.8" y="820.1"/><use href="#k25" x="622.4" y="819.4"/><use href="#k8" x="615" y="818.6"/><use href="#k23" x="607.7" y="815.3"/></g><g fill="#fff" stroke="#ff0000"><use href="#k23" x="666.5" y="821"/><use href="#k22" x="659.2" y="829.1"/><use href="#k23" x="651.8" y="835"/><use href="#k22" x="644.5" y="838.5"/><use href="#k23" x="637.1" y="841.9"/><use href="#k22" x="629.8" y="842.8"/><use href="#k23" x="622.4" y="840.5"/><use href="#k22" x="615" y="837.6"/><use href="#k23" x="607.7" y="834.1"/><use href="#k22" x="600.3" y="833.3"/><use href="#k23" x="593" y="834.2"/><use href="#k22" x="585.6" y="835.2"/></g><g fill="#fff" stroke="#0000ff"><use href="#k14" x="666.5" y="821"/><use href="#k13" x="659.2" y="829.1"/><use href="#k14" x="651.8" y="835"/><use href="#k13" x="644.5" y="838.5"/><use href="#k14" x="637.1" y="841.9"/><use href="#k13" x="629.8" y="842.8"/><use href="#k14" x="622.4" y="840.5"/><use href="#k13" x="615" y="837.6"/><use href="#k14" x="607.7" y="834.1"/><use href="#k13" x="600.3" y="833.3"/><use href="#k14" x="593" y="834.2"/><use href="#k13" x="585.6" y="835.2"/></g><g fill="#fff" stroke="#0000ff"><use href="#k23" x="921.8" y="858.2"/><use href="#k22" x="919.1" y="857.4"/><use href="#k23" x="916.4" y="856.5"/><use href="#k22" x="913.7" y="855.5"/><use href="#k23" x="911" y="854.4"/><use href="#k22" x="908.3" y="853.3"/><use href="#k23" x="905.6" y="852"/><use href="#k22" x="902.9" y="850.6"/><use href="#k23" x="900.2" y="849"/><use href="#k22" x="897.5" y="847.3"/><use href="#k23" x="894.8" y="845.5"/><use href="#k22" x="892.1" y="843.5"/><use href="#k23" x="889.4" y="841.2"/><use href="#k22" x="886.7" y="838.9"/><use href="#k23" x="884" y="836.5"/><use href="#k22" x="881.3" y="834.1"/><use href="#k23" x="878.6" y="831.7"/><use href="#k22" x="875.9" y="829.3"/><use href="#k23" x="873.2" y="827"/><use href="#k22" x="870.5" y="825"/><use href="#k23" x="867.8" y="823.3"/><use href="#k22" x="865" y="821.7"/><use href="#k23" x="862.3" y="820"/><use href="#k22" x="859.6" y="818.2"/><use href="#k23" x="856.9" y="816.2"/><use href="#k22" x="854.2" y="814"/></g><g fill="#fff" stroke="#0000ff"><use href="#k28" x="921.8" y="821"/><use href="#k10" x="919.1" y="821"/><use href="#k28" x="916.4" y="821"/><use href="#k10" x="913.7" y="821"/><use href="#k28" x="911" y="821"/><use href="#k10" x="908.3" y="821"/><use href="#k28" x="905.6" y="821"/><use href="#k10" x="902.9" y="821"/><use href="#k28" x="900.2" y="821"/><use href="#k10" x="897.5" y="821"/><use href="#k28" x="894.8" y="821"/><use href="#k10" x="892.1" y="821"/><use href="#k28" x="889.4" y="821"/><use href="#k10" x="886.7" y="820.9"/><use href="#k28" x="884" y="820.8"/><use href="#k10" x="881.3" y="820.5"/><use href="#k28" x="878.6" y="820.2"/><use href="#k10" x="875.9" y="819.9"/><use href="#k28" x="873.2" y="819.5"/><use href="#k10" x="870.5" y="819.1"/><use href="#k28" x="867.8" y="818.6"/><use href="#k10" x="865" y="818"/><use href="#k28" x="862.3" y="817.3"/><use href="#k10" x="859.6" y="816.5"/><use href="#k28" x="856.9" y="815.6"/><use href="#k10" x="854.2" y="814.6"/><use href="#k28" x="851.5" y="813.6"/></g></g><g stroke="#1a1a1a" stroke-width="1.6" stroke-dasharray="3.6 3.6"><line x1="287.8" y1="52.6" x2="287.8" y2="655.8"/><line x1="416.5" y1="52.6" x2="416.5" y2="655.8"/><line x1="569.3" y1="52.6" x2="569.3" y2="655.8"/><line x1="717.8" y1="52.6" x2="717.8" y2="655.8"/></g><line x1="118" y1="354.2" x2="1566" y2="354.2" stroke="#000" stroke-width="1.4" stroke-dasharray="3.7 3.5"/><g stroke="#000" stroke-width="2.6"><line x1="118" y1="580.4" x2="124" y2="580.4"/><line x1="921.8" y1="580.4" x2="916.8" y2="580.4"/><line x1="1244.6" y1="580.4" x2="1239.1" y2="580.4"/><line x1="118" y1="505" x2="137" y2="505"/><line x1="921.8" y1="505" x2="910.8" y2="505"/><line x1="1244.6" y1="505" x2="1232.6" y2="505"/><line x1="118" y1="429.6" x2="124" y2="429.6"/><line x1="921.8" y1="429.6" x2="916.8" y2="429.6"/><line x1="1244.6" y1="429.6" x2="1239.1" y2="429.6"/><line x1="118" y1="354.2" x2="137" y2="354.2"/><line x1="921.8" y1="354.2" x2="910.8" y2="354.2"/><line x1="1244.6" y1="354.2" x2="1232.6" y2="354.2"/><line x1="118" y1="278.8" x2="124" y2="278.8"/><line x1="921.8" y1="278.8" x2="916.8" y2="278.8"/><line x1="1244.6" y1="278.8" x2="1239.1" y2="278.8"/><line x1="118" y1="203.4" x2="137" y2="203.4"/><line x1="921.8" y1="203.4" x2="910.8" y2="203.4"/><line x1="1244.6" y1="203.4" x2="1232.6" y2="203.4"/><line x1="118" y1="128" x2="124" y2="128"/><line x1="921.8" y1="128" x2="916.8" y2="128"/><line x1="1244.6" y1="128" x2="1239.1" y2="128"/></g><g fill="none" stroke="#000" stroke-width="2.8"><rect x="118" y="52.6" width="1126.6" height="603.2"/><rect x="1244.6" y="52.6" width="321.4" height="603.2"/></g><line x1="921.8" y1="52.6" x2="921.8" y2="655.8" stroke="#222" stroke-width="1.6"/><g stroke="#1a1a1a" stroke-width="1.6" stroke-dasharray="3.6 3.6"><line x1="372.7" y1="817.2" x2="372.7" y2="1420.4"/><line x1="519.4" y1="817.2" x2="519.4" y2="1420.4"/><line x1="813.7" y1="817.2" x2="813.7" y2="1420.4"/></g><line x1="118" y1="1118.8" x2="1566" y2="1118.8" stroke="#666" stroke-width="2.0" stroke-dasharray="3.7 3.5"/><g stroke="#000" stroke-width="2.6"><line x1="118" y1="1345" x2="124" y2="1345"/><line x1="921.8" y1="1345" x2="916.8" y2="1345"/><line x1="1244.6" y1="1345" x2="1239.1" y2="1345"/><line x1="118" y1="1269.6" x2="137" y2="1269.6"/><line x1="921.8" y1="1269.6" x2="910.8" y2="1269.6"/><line x1="1244.6" y1="1269.6" x2="1232.6" y2="1269.6"/><line x1="118" y1="1194.2" x2="124" y2="1194.2"/><line x1="921.8" y1="1194.2" x2="916.8" y2="1194.2"/><line x1="1244.6" y1="1194.2" x2="1239.1" y2="1194.2"/><line x1="118" y1="1118.8" x2="137" y2="1118.8"/><line x1="921.8" y1="1118.8" x2="910.8" y2="1118.8"/><line x1="1244.6" y1="1118.8" x2="1232.6" y2="1118.8"/><line x1="118" y1="1043.4" x2="124" y2="1043.4"/><line x1="921.8" y1="1043.4" x2="916.8" y2="1043.4"/><line x1="1244.6" y1="1043.4" x2="1239.1" y2="1043.4"/><line x1="118" y1="968" x2="137" y2="968"/><line x1="921.8" y1="968" x2="910.8" y2="968"/><line x1="1244.6" y1="968" x2="1232.6" y2="968"/><line x1="118" y1="892.6" x2="124" y2="892.6"/><line x1="921.8" y1="892.6" x2="916.8" y2="892.6"/><line x1="1244.6" y1="892.6" x2="1239.1" y2="892.6"/></g><g fill="none" stroke="#000" stroke-width="2.8"><rect x="118" y="817.2" width="1126.6" height="603.2"/><rect x="1244.6" y="817.2" width="321.4" height="603.2"/></g><line x1="921.8" y1="817.2" x2="921.8" y2="1420.4" stroke="#222" stroke-width="1.6"/><text x="108.5" y="61.3" font-size="36" text-anchor="end" textLength="19.5" lengthAdjust="spacingAndGlyphs">2</text><text x="108.5" y="214.6" font-size="36" text-anchor="end" textLength="17" lengthAdjust="spacingAndGlyphs">1</text><text x="108.5" y="365.1" font-size="36" text-anchor="end" textLength="20.5" lengthAdjust="spacingAndGlyphs">0</text><text x="108.5" y="515.7" font-size="36" text-anchor="end" textLength="48.3" lengthAdjust="spacingAndGlyphs">−1</text><text x="108.5" y="667" font-size="36" text-anchor="end" textLength="50.6" lengthAdjust="spacingAndGlyphs">−2</text><text x="0" y="0" font-size="34" text-anchor="middle" textLength="200" lengthAdjust="spacingAndGlyphs" transform="translate(28.2,350) rotate(-90)">Energy (eV)</text><text x="115.7" y="696" font-size="36" text-anchor="middle" font-style="italic" textLength="23.3" lengthAdjust="spacingAndGlyphs">Γ</text><text x="283.4" y="696" font-size="36" text-anchor="middle" font-style="italic" textLength="21.9" lengthAdjust="spacingAndGlyphs">L</text><text x="415.5" y="696" font-size="36" text-anchor="middle" font-style="italic" textLength="25.3" lengthAdjust="spacingAndGlyphs">B</text><text x="569.5" y="696" font-size="36" text-anchor="middle" font-style="italic" textLength="23.3" lengthAdjust="spacingAndGlyphs">Z</text><text x="719.5" y="696" font-size="36" text-anchor="middle" font-style="italic" textLength="23" lengthAdjust="spacingAndGlyphs">Γ</text><text x="919.5" y="696" font-size="36" text-anchor="middle" font-style="italic" textLength="28.9" lengthAdjust="spacingAndGlyphs">X</text><text x="1080.1" y="699" font-size="35" text-anchor="middle" textLength="75.2" lengthAdjust="spacingAndGlyphs">DOS</text><text x="1077.4" y="738" font-size="35" text-anchor="middle" textLength="247.6" lengthAdjust="spacingAndGlyphs">(sates/eV, f.u.)</text><text x="1425.2" y="699.5" font-size="35" text-anchor="middle" textLength="101.6" lengthAdjust="spacingAndGlyphs">PDOS</text><text x="1422.9" y="738" font-size="35" text-anchor="middle" textLength="247.8" lengthAdjust="spacingAndGlyphs">(sates/eV, f.u.)</text><text x="108.5" y="825.9" font-size="36" text-anchor="end" textLength="19.5" lengthAdjust="spacingAndGlyphs">2</text><text x="108.5" y="979.2" font-size="36" text-anchor="end" textLength="17" lengthAdjust="spacingAndGlyphs">1</text><text x="108.5" y="1129.7" font-size="36" text-anchor="end" textLength="20.5" lengthAdjust="spacingAndGlyphs">0</text><text x="108.5" y="1280.3" font-size="36" text-anchor="end" textLength="48.3" lengthAdjust="spacingAndGlyphs">−1</text><text x="108.5" y="1431.6" font-size="36" text-anchor="end" textLength="50.6" lengthAdjust="spacingAndGlyphs">−2</text><text x="0" y="0" font-size="34" text-anchor="middle" textLength="200" lengthAdjust="spacingAndGlyphs" transform="translate(28.2,1114.6) rotate(-90)">Energy (eV)</text><text x="115.7" y="1457" font-size="36" text-anchor="middle" font-style="italic" textLength="23" lengthAdjust="spacingAndGlyphs">Γ</text><text x="368.8" y="1457" font-size="36" text-anchor="middle" font-style="italic" textLength="35" lengthAdjust="spacingAndGlyphs">M</text><text x="519.3" y="1457" font-size="36" text-anchor="middle" font-style="italic" textLength="28.6" lengthAdjust="spacingAndGlyphs">K</text><text x="812.4" y="1457" font-size="36" text-anchor="middle" font-style="italic" textLength="23.2" lengthAdjust="spacingAndGlyphs">Γ</text><text x="918.7" y="1457" font-size="36" text-anchor="middle" font-style="italic" textLength="25.3" lengthAdjust="spacingAndGlyphs">A</text><text x="1080.1" y="1461" font-size="35" text-anchor="middle" textLength="75.2" lengthAdjust="spacingAndGlyphs">DOS</text><text x="1077.4" y="1500" font-size="35" text-anchor="middle" textLength="247.6" lengthAdjust="spacingAndGlyphs">(sates/eV, f.u.)</text><text x="1425.2" y="1461.5" font-size="35" text-anchor="middle" textLength="101.6" lengthAdjust="spacingAndGlyphs">PDOS</text><text x="1422.9" y="1500" font-size="35" text-anchor="middle" textLength="247.8" lengthAdjust="spacingAndGlyphs">(sates/eV, f.u.)</text><text x="127.9" y="30.1" font-size="35" textLength="44.6" lengthAdjust="spacingAndGlyphs">(b)</text><text x="191.5" y="30.1" font-size="35" font-style="italic">R</text><text x="218.5" y="30.1" font-size="35">3</text><line x1="220.5" y1="1" x2="232.8" y2="1" stroke="#000" stroke-width="2"/><text x="235.5" y="30.1" font-size="35" font-style="italic" textLength="33" lengthAdjust="spacingAndGlyphs">m</text><text x="284" y="30.1" font-size="35" textLength="71.5" lengthAdjust="spacingAndGlyphs">with</text><text x="370" y="30.1" font-size="35" textLength="74.8" lengthAdjust="spacingAndGlyphs">SOC</text><text x="127.3" y="799" font-size="35" textLength="44.6" lengthAdjust="spacingAndGlyphs">(b)</text><text x="190.7" y="799" font-size="35" font-style="italic">P</text><text x="212" y="799" font-size="35">6</text><text x="232.5" y="806" font-size="24">3</text><text x="246" y="799" font-size="35">/</text><text x="265.7" y="799" font-size="35" font-style="italic" textLength="82.8" lengthAdjust="spacingAndGlyphs">mmc</text><text x="362.6" y="799" font-size="35" textLength="70.4" lengthAdjust="spacingAndGlyphs">with</text><text x="450.4" y="799" font-size="35" textLength="71.6" lengthAdjust="spacingAndGlyphs">SOC</text><text x="528.3" y="28.4" font-size="31" fill="#00ff00">f</text><text x="539.5" y="35.9" font-size="23" fill="#00ff00">A</text><text x="557.5" y="39.5" font-size="17" fill="#00ff00">2u</text><text x="604.5" y="28.4" font-size="31" fill="#ff0000">f</text><text x="615.2" y="35.9" font-size="23" fill="#ff0000">T</text><text x="633.6" y="39.5" font-size="17" fill="#ff0000">1</text><text x="643" y="39.5" font-size="17" font-style="italic" fill="#ff0000">u</text><text x="683" y="28.4" font-size="31" fill="#0000ff">f</text><text x="694.2" y="35.9" font-size="23" fill="#0000ff">T</text><text x="711.7" y="39.5" font-size="17" fill="#0000ff">2u</text><text x="561" y="799" font-size="31" fill="#00ff00">f</text><text x="572.2" y="806.5" font-size="23" fill="#00ff00">A</text><text x="590.2" y="810.1" font-size="17" fill="#00ff00">2u</text><text x="637" y="799" font-size="31" fill="#ff0000">f</text><text x="647.7" y="806.5" font-size="23" fill="#ff0000">T</text><text x="666.1" y="810.1" font-size="17" fill="#ff0000">1</text><text x="675.5" y="810.1" font-size="17" font-style="italic" fill="#ff0000">u</text><text x="715" y="799" font-size="31" fill="#0000ff">f</text><text x="726.2" y="806.5" font-size="23" fill="#0000ff">T</text><text x="743.7" y="810.1" font-size="17" fill="#0000ff">2u</text><rect x="1023.4" y="439.6" width="69.1" height="33.4" fill="#d3d3d3" stroke="#c4c4c4" stroke-width="3"/><line x1="1022.8" y1="495" x2="1093" y2="495" stroke="#009000" stroke-width="3.3" stroke-dasharray="5.6 8.2"/><line x1="1022.8" y1="533.3" x2="1093" y2="533.3" stroke="#ff0000" stroke-width="3.3" stroke-dasharray="5.6 8.2"/><line x1="1022.8" y1="572" x2="1093" y2="572" stroke="#9a35ff" stroke-width="3.3" stroke-dasharray="5.6 8.2"/><text x="1104.3" y="464.9" font-size="26.5" textLength="63.4" lengthAdjust="spacingAndGlyphs">Total</text><text x="1104.3" y="503.2" font-size="26.5" textLength="57" lengthAdjust="spacingAndGlyphs">N-2p</text><text x="1104.3" y="541.7" font-size="26.5" textLength="51.5" lengthAdjust="spacingAndGlyphs">U-5f</text><text x="1104.3" y="580.2" font-size="26.5" textLength="56" lengthAdjust="spacingAndGlyphs">U-6d</text><line x1="1398.4" y1="184.2" x2="1443.7" y2="184.2" stroke="#ff0000" stroke-width="3.6"/><text x="1453.5" y="189.3" font-size="25">f</text><text x="1461.8" y="195.4" font-size="17.5" font-style="italic" textLength="30.5" lengthAdjust="spacingAndGlyphs">xyz</text><line x1="1398.4" y1="229.8" x2="1443.7" y2="229.8" stroke="#808000" stroke-width="3.6"/><text x="1453.5" y="234.9" font-size="25">f</text><text x="1461.8" y="241" font-size="17.5" font-style="italic" textLength="89" lengthAdjust="spacingAndGlyphs">x(x²−3y²)</text><line x1="1398.4" y1="275.4" x2="1443.7" y2="275.4" stroke="#000000" stroke-width="3.6"/><text x="1453.5" y="280.5" font-size="25">f</text><text x="1461.8" y="286.6" font-size="17.5" font-style="italic" textLength="88" lengthAdjust="spacingAndGlyphs">y(3x²−y²)</text><line x1="1398.4" y1="321.2" x2="1443.7" y2="321.2" stroke="#ff00ff" stroke-width="3.6"/><text x="1453.5" y="326.3" font-size="25">f</text><text x="1461.8" y="332.4" font-size="17.5" font-style="italic" textLength="28" lengthAdjust="spacingAndGlyphs">zx²</text><line x1="1398.4" y1="392.1" x2="1443.7" y2="392.1" stroke="#00ffff" stroke-width="3.6"/><text x="1453.5" y="397.2" font-size="25">f</text><text x="1461.8" y="403.3" font-size="17.5" font-style="italic" textLength="29" lengthAdjust="spacingAndGlyphs">xz²</text><line x1="1398.4" y1="437.8" x2="1443.7" y2="437.8" stroke="#00ff00" stroke-width="3.6"/><text x="1453.5" y="442.9" font-size="25">f</text><text x="1461.8" y="449" font-size="17.5" font-style="italic" textLength="28" lengthAdjust="spacingAndGlyphs">yz²</text><line x1="1398.4" y1="483.4" x2="1443.7" y2="483.4" stroke="#0000ff" stroke-width="3.6"/><text x="1453.5" y="488.5" font-size="25">f</text><text x="1461.8" y="494.6" font-size="17.5" font-style="italic" textLength="19" lengthAdjust="spacingAndGlyphs">z³</text></svg>
</body></html>
